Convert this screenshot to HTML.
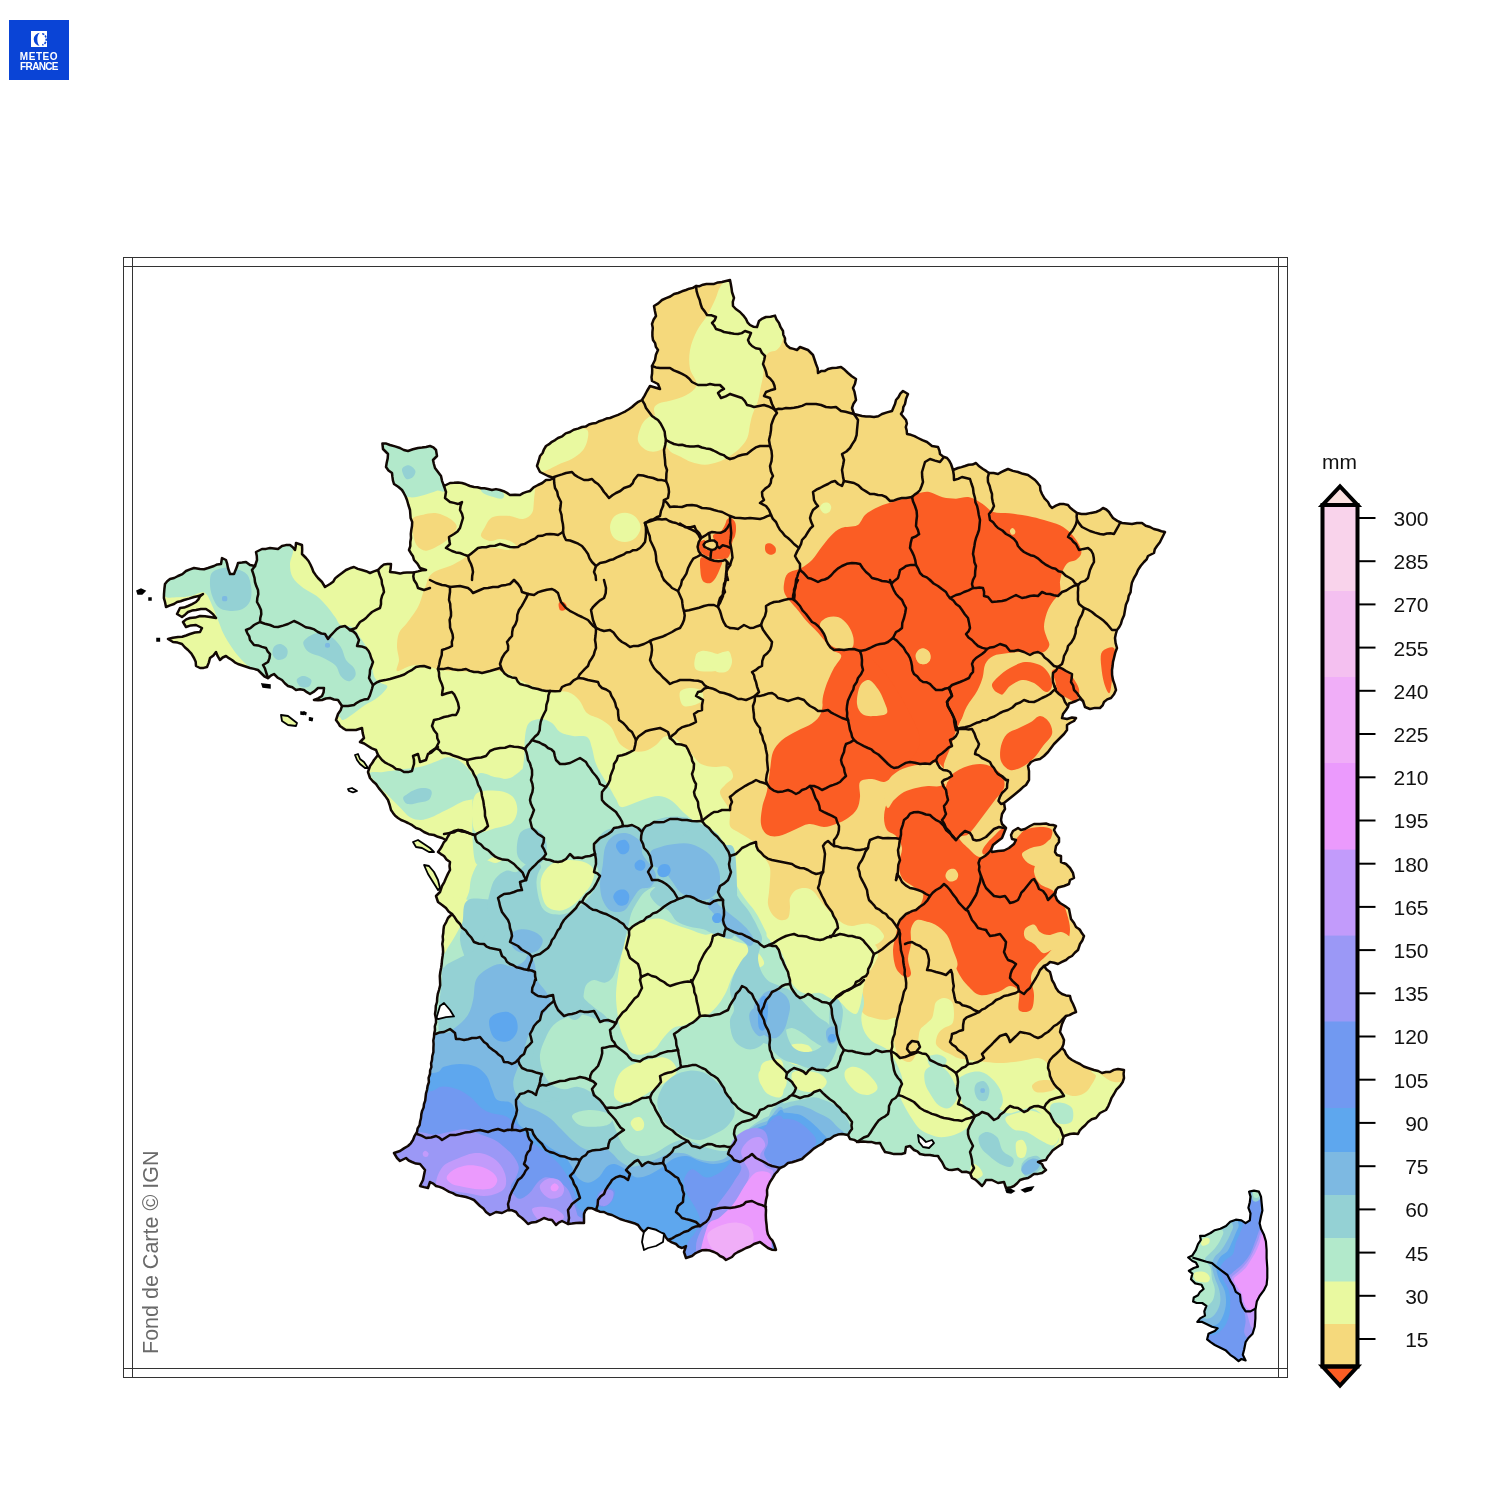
<!DOCTYPE html>
<html><head><meta charset="utf-8"><title>Carte des précipitations</title>
<style>
html,body{margin:0;padding:0;background:#fff;}
body{width:1500px;height:1500px;position:relative;overflow:hidden;font-family:"Liberation Sans",sans-serif;}
.logo{position:absolute;left:9px;top:20px;width:60px;height:60px;background:#0a44d6;}
.logo .t{position:absolute;left:0;width:60px;text-align:center;color:#fff;font-weight:bold;font-size:10px;line-height:11px;}
.frame{position:absolute;box-sizing:border-box;border:1.3px solid #333;}
.lbl{position:absolute;font-size:20px;color:#111;text-align:right;width:60px;left:1368.5px;line-height:20px;}
.tick{position:absolute;left:1359px;width:16px;height:2px;background:#111;}
</style></head><body>
<div class="logo"><svg width="60" height="60" viewBox="0 0 60 60" style="position:absolute;left:0;top:0"><rect x="22" y="11" width="16" height="16" fill="#fff"/><path d="M31.5,12.8 A6.8,6.5 0 0 0 31.5,25.8 A3.2,6.5 0 0 1 31.5,12.8 Z" fill="#0a44d6"/><path d="M33.2,13.8 A4,5.5 0 0 1 33.2,24.8" fill="none" stroke="#0a44d6" stroke-width="1.6" stroke-dasharray="2.2 1.1"/></svg><div class="t" style="top:30.5px;letter-spacing:0.55px">METEO</div><div class="t" style="top:41px;letter-spacing:-0.65px">FRANCE</div></div>
<div class="frame" style="left:122.5px;top:256.5px;width:1165px;height:1121px"></div>
<div class="frame" style="left:131.5px;top:256.5px;width:1147px;height:1121px;border-top:none;border-bottom:none"></div>
<div class="frame" style="left:122.5px;top:265.5px;width:1165px;height:1103px;border-left:none;border-right:none"></div>
<svg width="1500" height="1500" viewBox="0 0 1500 1500" style="position:absolute;left:0;top:0">
<defs><clipPath id="fr"><path d="M382.4,443.6 L383,449 L388,454 L386,467 L392,473 L394,484 L402,490 L407,500 L410,510 L412,526 L411,538 L409,550 L414,560 L420,568 L426,570 L414,572.4 L400,573.6 L390,572 L391,564 L384,564.4 L378,570 L370,573 L362,570 L354,567 L346,570 L338,576 L330,584 L325,587 L322,582 L318,578 L312,568 L306,558 L302,554 L302,545 L296,543 L295,550 L290,545 L282,546 L278,549 L270,548 L262,549 L256,552 L257,560 L255,566 L250,565 L246,562 L238,563 L234,574 L230,574 L228,568 L226,560 L222,558 L221,564 L214,566 L208,568 L200,569 L194,568 L186,571 L178,576 L170,579 L165,584 L164,594 L165,602 L166,607 L174,604 L184,600 L194,597 L203,594 L196,602 L188,606 L180,608 L177,614 L182,617 L188,612 L196,610 L206,609 L216,618 L210,617 L200,616 L190,618 L183,622 L186,627 L196,625 L202,628 L200,632 L190,634 L178,637 L168,639 L173,642 L182,644 L188,650 L194,658 L196,666 L200,668 L207,667 L210,658 L216,652 L220,660 L226,656 L232,660 L238,664 L244,666 L250,668 L258,670 L262,674 L268,678 L274,674 L282,680 L288,686 L296,690 L304,690 L310,694 L318,688 L324,688 L322,696 L314,700 L322,700 L330,698 L338,700 L342,706 L338,714 L336,720 L340,726 L346,730 L356,730 L362,728 L364,738 L360,742 L368,746 L376,750 L378,755 L374,760 L370,766 L368,772 L370,778 L376,784 L382,792 L388,800 L391,810 L398,818 L408,823 L416,828 L424,832 L434,835 L442,838 L446,840 L442,846 L438,852 L444,856 L450,862 L450,870 L446,878 L442,886 L440,892 L436,896 L438,902 L446,908 L452,914 L448,918 L444,926 L443,940 L442,960 L440,980 L439,990 L437,1002 L435,1014 L436,1019 L435,1030 L433.6,1044 L432,1060 L430,1074 L427,1090 L424,1104 L421,1118 L417,1132 L413,1140 L408,1146 L400,1151 L394,1153 L397,1158 L400,1161 L406,1158 L412,1162 L420,1164 L425,1170 L423,1180 L420,1186 L428,1188 L430,1182 L436,1186 L446,1190 L456,1195 L466,1197 L474,1200 L480,1206 L486,1212 L490,1215 L496,1212 L502,1213 L508,1210 L516,1212 L522,1218 L528,1224 L536,1222 L544,1218 L552,1220 L556,1225 L562,1221 L568,1224 L576,1223 L584,1223 L584,1214 L588,1208 L596,1210 L604,1212 L612,1215 L620,1219 L630,1222 L638,1225 L644,1232 L648,1228 L656,1230 L664,1234 L668,1240 L676,1244 L682,1248 L686,1246 L684,1252 L686,1258 L692,1256 L698,1252 L706,1250 L714,1252 L720,1256 L726,1260 L732,1257 L738,1252 L746,1248 L754,1244 L760,1242 L768,1248 L776,1250 L774,1244 L770,1238 L767,1230 L766,1220 L766,1210 L766,1200 L767,1190 L770,1182 L775,1174 L780,1168 L788,1163 L796,1161 L802,1159 L810,1152 L818,1146 L826,1140 L834,1136 L842,1134 L848,1135 L850,1139 L858,1142 L868,1142 L880,1143 L882,1147 L885,1152 L890,1153 L898,1154 L905,1153 L906,1147 L910,1146 L914,1150 L920,1154 L930,1155 L938,1156 L942,1162 L945,1168 L952,1170 L958,1169 L962,1172 L970,1173 L972,1178 L978,1182 L982,1186 L986,1180 L992,1180 L998,1183 L1004,1182 L1006,1188 L1014,1186 L1020,1180 L1028,1178 L1034,1174 L1042,1173 L1046,1170 L1042,1164 L1038,1162 L1046,1160 L1050,1154 L1056,1148 L1062,1144 L1064,1136 L1070,1134 L1078,1134 L1082,1128 L1088,1122 L1096,1118 L1100,1113 L1106,1110 L1110,1102 L1114,1094 L1120,1086 L1124,1078 L1124,1070 L1118,1069 L1110,1072 L1102,1073 L1094,1070 L1088,1068 L1080,1064 L1072,1060 L1066,1054 L1062,1048 L1064,1040 L1060,1032 L1062,1024 L1066,1016 L1076,1012 L1073,1004 L1070,996 L1062,994 L1056,988 L1052,980 L1050,972 L1044,966 L1050,962 L1058,964 L1066,960 L1072,956 L1078,950 L1080,944 L1084,936 L1080,930 L1079,929 L1076,927 L1074,923 L1071,919 L1070,914 L1069,909 L1065,906 L1060,903 L1057,900 L1055,895 L1056,890 L1058,887.5 L1064,886 L1069,884 L1070,880 L1074,878 L1073,873 L1070,868 L1066,864 L1061,862 L1061,856 L1057,855 L1055,852 L1056,846 L1059,842 L1059,838 L1056,834 L1054,830 L1056,826 L1053,825 L1046,823.5 L1040,824 L1034,824 L1030,826 L1025,829 L1021,830 L1018,828 L1013,831 L1011,835 L1012,839 L1016,840 L1014,844 L1009,848 L1004,850.5 L998,851 L992,852 L991,850 L993,845 L998,841 L1002,838 L1004,833 L1006,828 L1002,824 L1001,820 L1002,814 L1005,809 L1004,803 L1009,799 L1014,795 L1020,790 L1026,785 L1029,780 L1029,776 L1029,771 L1028,766 L1031,762 L1035,760 L1040,759 L1044,756 L1048,752 L1051,748 L1054,744 L1057,741 L1060,738 L1064,734 L1067,730 L1067,725 L1070,723 L1074,721 L1076,718 L1072,717.5 L1067,719 L1062,718 L1063,714 L1066,710 L1069,703.5 L1072,702.5 L1076,701 L1080,699 L1083,701 L1085,707 L1090,709 L1100,708 L1104,702 L1111,698 L1116,690 L1113,680 L1112,670 L1114,658 L1117,648 L1115,638 L1117,630 L1122,620 L1125,610 L1128,600 L1131,588 L1134,578 L1138,570 L1144,562 L1148,556 L1154,553 L1157,546 L1162,538 L1165,532 L1158,530 L1150,527 L1142,523 L1132,524 L1122,523 L1113,518 L1109,512 L1103,508 L1096,512 L1086,514 L1077,513 L1073,510 L1068,505 L1060,504 L1052,508 L1048,502 L1042,494 L1040,486 L1035,480 L1028,475 L1018,472 L1008,469 L998,474 L989,473 L983,469 L976,463 L965,466 L958,468 L953,470 L951,464 L947,458 L940,454 L938,447 L932,446 L927,442 L918,438 L907,434 L906,420 L901,414 L905,404 L908,394 L903,391 L896,400 L892,411 L882,414 L874,417 L862,416 L854,414 L852,408 L856,400 L853,388 L856,379 L848,373 L841,367 L828,369 L818,373 L816,364 L813,355 L808,350 L800,347 L797,350 L790,348 L785,342 L783,331 L779,323 L775,315.6 L766,317 L759,321 L757,327 L750,325 L746,319 L740,312 L733,306 L734,298 L732,292 L730,280 L722,282 L710,284 L696,286 L686,290 L674,294 L662,300 L654,306 L656,316 L652,324 L653,340 L658,350 L655,360 L652,366 L652,381 L658,384 L660,389 L650,386 L647,391 L642,400 L632,407 L622,413 L610,418 L596,423 L582,427 L570,432 L558,438 L546,446 L540,456 L537,466 L540,472 L548,476 L554,478 L546,480 L538,485 L530,491 L520,495 L510,495 L500,490 L488,489 L474,487 L462,483 L450,483 L444,486 L441,476 L435,468 L433,460 L437,456 L436,450 L430,446 L418,448 L408,451 L400,448 L390,445Z"/>
</clipPath></defs>
<g clip-path="url(#fr)">
<rect x="130" y="270" width="1150" height="1100" fill="#e9f9a0"/>
<path d="M412.7,518.7 C414.5,515.8 419.3,515.6 423.3,514.7 C427.3,513.8 432.2,512.6 436.7,513.3 C441.1,514.0 446.7,516.5 450,518.7 C453.3,520.9 456.7,523.6 456.7,526.7 C456.7,529.8 452.9,534.2 450,537.3 C447.1,540.4 443.3,543.1 439.3,545.3 C435.3,547.5 429.8,550.7 426,550.7 C422.2,550.7 418.9,548.4 416.7,545.3 C414.5,542.2 413.4,536.4 412.7,532 C412.0,527.6 410.9,521.6 412.7,518.7Z" fill="#f5d97c"/>
<path d="M536,470 C535.7,486.7 534.7,492.8 534,500 C533.3,507.2 533.8,509.8 532,513 C530.2,516.2 526.7,518.5 523,519 C519.3,519.5 514.3,516.5 510,516 C505.7,515.5 500.3,515.5 497,516 C493.7,516.5 492.0,517.2 490,519 C488.0,520.8 486.5,524.2 485,527 C483.5,529.8 480.2,533.7 481,536 C481.8,538.3 486.8,540.5 490,541 C493.2,541.5 496.7,539.0 500,539 C503.3,539.0 507.3,539.8 510,541 C512.7,542.2 516.3,544.5 516,546 C515.7,547.5 511.5,549.7 508,550 C504.5,550.3 499.7,548.2 495,548 C490.3,547.8 484.0,548.3 480,549 C476.0,549.7 473.8,550.3 471,552 C468.2,553.7 466.5,556.7 463,559 C459.5,561.3 454.5,564.0 450,566 C445.5,568.0 439.5,569.2 436,571 C432.5,572.8 430.7,574.7 429,577 C427.3,579.3 427.0,582.3 426,585 C425.0,587.7 424.3,589.3 423,593 C421.7,596.7 420.7,602.0 418,607 C415.3,612.0 410.2,618.7 407,623 C403.8,627.3 400.7,629.0 399,633 C397.3,637.0 397.0,642.5 397,647 C397.0,651.5 399.0,656.0 399,660 C399.0,664.0 395.2,670.0 397,671 C398.8,672.0 405.7,667.0 410,666 C414.3,665.0 418.5,664.5 423,665 C427.5,665.5 432.5,668.0 437,669 C441.5,670.0 443.3,670.5 450,671 C456.7,671.5 469.8,672.0 477,672 C484.2,672.0 488.0,670.8 493,671 C498.0,671.2 501.2,670.8 507,673 C512.8,675.2 521.0,681.0 528,684 C535.0,687.0 542.3,689.7 549,691 C555.7,692.3 563.0,690.5 568,692 C573.0,693.5 575.8,696.5 579,700 C582.2,703.5 583.5,709.8 587,713 C590.5,716.2 596.0,716.7 600,719 C604.0,721.3 608.3,724.0 611,727 C613.7,730.0 614.3,734.0 616,737 C617.7,740.0 618.3,742.7 621,745 C623.7,747.3 628.0,750.0 632,751 C636.0,752.0 641.0,752.0 645,751 C649.0,750.0 652.8,747.3 656,745 C659.2,742.7 661.3,738.3 664,737 C666.7,735.7 668.8,735.7 672,737 C675.2,738.3 679.8,742.3 683,745 C686.2,747.7 688.0,749.8 691,753 C694.0,756.2 697.0,761.7 701,764 C705.0,766.3 710.5,766.5 715,767 C719.5,767.5 725.0,765.3 728,767 C731.0,768.7 733.5,774.0 733,777 C732.5,780.0 727.2,782.3 725,785 C722.8,787.7 719.5,789.3 720,793 C720.5,796.7 726.3,803.5 728,807 C729.7,810.5 729.7,810.8 730,814 C730.3,817.2 728.7,823.0 730,826 C731.3,829.0 735.0,830.0 738,832 C741.0,834.0 745.0,836.0 748,838 C751.0,840.0 754.0,841.3 756,844 C758.0,846.7 758.3,851.3 760,854 C761.7,856.7 764.3,857.7 766,860 C767.7,862.3 769.3,864.7 770,868 C770.7,871.3 770.2,876.0 770,880 C769.8,884.0 769.3,888.0 769,892 C768.7,896.0 767.5,900.3 768,904 C768.5,907.7 770.0,911.3 772,914 C774.0,916.7 777.3,919.3 780,920 C782.7,920.7 786.3,920.0 788,918 C789.7,916.0 789.7,911.3 790,908 C790.3,904.7 789.0,901.0 790,898 C791.0,895.0 793.3,891.7 796,890 C798.7,888.3 803.0,887.7 806,888 C809.0,888.3 811.7,890.0 814,892 C816.3,894.0 817.7,897.0 820,900 C822.3,903.0 825.3,907.0 828,910 C830.7,913.0 833.3,915.7 836,918 C838.7,920.3 841.3,922.7 844,924 C846.7,925.3 849.0,926.0 852,926 C855.0,926.0 859.0,924.3 862,924 C865.0,923.7 867.3,923.3 870,924 C872.7,924.7 875.7,926.0 878,928 C880.3,930.0 883.7,933.7 884,936 C884.3,938.3 882.0,940.3 880,942 C878.0,943.7 874.7,945.3 872,946 C869.3,946.7 866.7,946.3 864,946 C861.3,945.7 857.0,943.3 856,944 C855.0,944.7 856.0,948.7 858,950 C860.0,951.3 864.7,951.3 868,952 C871.3,952.7 877.0,952.0 878,954 C879.0,956.0 875.7,960.7 874,964 C872.3,967.3 869.7,970.7 868,974 C866.3,977.3 865.0,980.3 864,984 C863.0,987.7 862.7,992.3 862,996 C861.3,999.7 859.7,1003.0 860,1006 C860.3,1009.0 861.7,1012.0 864,1014 C866.3,1016.0 870.3,1017.0 874,1018 C877.7,1019.0 882.3,1020.0 886,1020 C889.7,1020.0 894.0,1017.0 896,1018 C898.0,1019.0 898.3,1022.7 898,1026 C897.7,1029.3 894.3,1034.0 894,1038 C893.7,1042.0 895.0,1046.7 896,1050 C897.0,1053.3 897.7,1056.0 900,1058 C902.3,1060.0 907.3,1062.7 910,1062 C912.7,1061.3 914.7,1057.3 916,1054 C917.3,1050.7 917.3,1046.0 918,1042 C918.7,1038.0 918.7,1033.0 920,1030 C921.3,1027.0 924.0,1026.0 926,1024 C928.0,1022.0 930.7,1020.3 932,1018 C933.3,1015.7 933.3,1012.7 934,1010 C934.7,1007.3 934.3,1004.0 936,1002 C937.7,1000.0 941.3,998.0 944,998 C946.7,998.0 950.3,999.3 952,1002 C953.7,1004.7 954.0,1010.3 954,1014 C954.0,1017.7 953.7,1021.7 952,1024 C950.3,1026.3 946.3,1026.3 944,1028 C941.7,1029.7 939.3,1031.3 938,1034 C936.7,1036.7 935.3,1041.3 936,1044 C936.7,1046.7 939.7,1048.3 942,1050 C944.3,1051.7 947.3,1052.7 950,1054 C952.7,1055.3 954.7,1057.0 958,1058 C961.3,1059.0 965.3,1059.3 970,1060 C974.7,1060.7 981.0,1061.5 986,1062 C991.0,1062.5 995.3,1063.0 1000,1063 C1004.7,1063.0 1009.7,1062.5 1014,1062 C1018.3,1061.5 1022.0,1060.7 1026,1060 C1030.0,1059.3 1034.7,1057.7 1038,1058 C1041.3,1058.3 1044.0,1060.0 1046,1062 C1048.0,1064.0 1049.0,1067.0 1050,1070 C1051.0,1073.0 1050.7,1077.0 1052,1080 C1053.3,1083.0 1055.7,1085.7 1058,1088 C1060.3,1090.3 1063.0,1092.7 1066,1094 C1069.0,1095.3 1072.7,1096.3 1076,1096 C1079.3,1095.7 1083.3,1094.0 1086,1092 C1088.7,1090.0 1090.3,1086.7 1092,1084 C1093.7,1081.3 1095.7,1078.3 1096,1076 C1096.3,1073.7 1086.7,1071.0 1094,1070 C1101.3,1069.0 1112.3,1098.3 1140,1070 C1167.7,1041.7 1240.0,1011.7 1260,900 C1280.0,788.3 1303.3,510.0 1260,400 C1216.7,290.0 1093.3,266.7 1000,240 C906.7,213.3 777.3,213.3 700,240 C622.7,266.7 563.3,361.7 536,400 C508.7,438.3 536.3,453.3 536,470Z" fill="#f5d97c"/>
<path d="M1032,1086 C1032.3,1084.2 1035.3,1082.0 1038,1081 C1040.7,1080.0 1045.0,1079.7 1048,1080 C1051.0,1080.3 1054.8,1081.5 1056,1083 C1057.2,1084.5 1056.7,1087.5 1055,1089 C1053.3,1090.5 1049.2,1091.5 1046,1092 C1042.8,1092.5 1038.3,1093.0 1036,1092 C1033.7,1091.0 1031.7,1087.8 1032,1086Z" fill="#f5d97c"/>
<path d="M720.7,286 C718.0,290.0 717.5,294.4 715.3,299.3 C713.1,304.2 710.4,310.0 707.3,315.3 C704.2,320.6 699.6,325.5 696.7,331.3 C693.8,337.1 691.1,343.8 690,350 C688.9,356.2 688.9,362.9 690,368.7 C691.1,374.5 697.4,380.3 696.7,384.7 C696.0,389.1 690.5,392.6 686,395.3 C681.5,398.0 674.5,399.4 670,400.7 C665.5,402.0 662.0,402.0 659.3,403.3 C656.6,404.6 654.4,406.0 654,408.7 C653.6,411.4 655.4,416.2 656.7,419.3 C658.0,422.4 660.7,423.7 662,427.3 C663.3,430.9 663.4,436.7 664.7,440.7 C666.0,444.7 667.3,448.6 670,451.3 C672.7,454.0 677.2,454.9 680.7,456.7 C684.2,458.5 687.3,460.7 691.3,462 C695.3,463.3 700.2,464.7 704.7,464.7 C709.2,464.7 714.0,463.3 718,462 C722.0,460.7 725.2,458.9 728.7,456.7 C732.2,454.5 736.2,451.8 739.3,448.7 C742.4,445.6 745.5,442.0 747.3,438 C749.1,434.0 749.1,428.7 750,424.7 C750.9,420.7 751.4,418.0 752.7,414 C754.0,410.0 756.7,405.1 758,400.7 C759.3,396.2 759.8,391.8 760.7,387.3 C761.6,382.9 762.9,378.4 763.3,374 C763.7,369.6 762.4,364.2 763.3,360.7 C764.2,357.1 766.5,354.5 768.7,352.7 C770.9,350.9 774.5,351.8 776.7,350 C778.9,348.2 780.7,346.4 782,342 C783.3,337.6 786.0,328.6 784.7,323.3 C783.4,318.0 779.8,316.2 774,310 C768.2,303.8 757.1,291.8 750,286 C742.9,280.2 736.2,275.3 731.3,275.3 C726.4,275.3 723.4,282.0 720.7,286Z" fill="#e9f9a0"/>
<path d="M536.7,472.7 C535.8,470.5 539.8,461.6 542,456.7 C544.2,451.8 546.5,446.9 550,443.3 C553.5,439.7 558.8,437.7 563.3,435.3 C567.8,432.9 572.7,429.6 576.7,428.7 C580.7,427.8 585.5,428.0 587.3,430 C589.1,432.0 588.2,437.1 587.3,440.7 C586.4,444.2 584.7,448.2 582,451.3 C579.3,454.4 575.3,457.1 571.3,459.3 C567.3,461.5 562.0,462.9 558,464.7 C554.0,466.5 550.8,468.7 547.3,470 C543.8,471.3 537.6,474.9 536.7,472.7Z" fill="#e9f9a0"/>
<path d="M640.7,427.3 C642.0,423.7 643.8,421.3 646,419.3 C648.2,417.3 651.3,414.9 654,415.3 C656.7,415.8 660.0,418.7 662,422 C664.0,425.3 665.5,431.3 666,435.3 C666.5,439.3 666.2,443.3 664.7,446 C663.2,448.7 659.8,450.6 656.7,451.3 C653.6,452.0 649.1,451.8 646,450 C642.9,448.2 638.9,444.5 638,440.7 C637.1,436.9 639.4,430.9 640.7,427.3Z" fill="#e9f9a0"/>
<path d="M610,527.3 C610.0,523.8 611.5,519.1 614,516.7 C616.5,514.3 621.2,512.7 624.7,512.7 C628.2,512.7 632.6,514.3 635.3,516.7 C638.0,519.1 640.7,523.8 640.7,527.3 C640.7,530.8 638.0,535.5 635.3,538 C632.6,540.5 628.2,542.0 624.7,542 C621.2,542.0 616.5,540.5 614,538 C611.5,535.5 610.0,530.8 610,527.3Z" fill="#e9f9a0"/>
<path d="M696.7,654 C698.5,650.9 703.8,651.3 707.3,651.3 C710.8,651.3 714.4,654.0 718,654 C721.6,654.0 726.5,650.0 728.7,651.3 C730.9,652.6 732.2,658.9 731.3,662 C730.4,665.1 729.1,668.7 723.3,670 C717.5,671.3 701.1,672.7 696.7,670 C692.3,667.3 694.9,657.1 696.7,654Z" fill="#e9f9a0"/>
<path d="M696,654.7 C696.9,652.7 700.9,650.7 704,650.7 C707.1,650.7 711.2,654.5 714.7,654.7 C718.2,654.9 722.4,651.1 725.3,652 C728.2,652.9 731.5,656.9 732,660 C732.5,663.1 730.5,668.7 728,670.7 C725.5,672.7 720.4,672.9 717.3,672 C714.2,671.1 712.4,666.8 709.3,665.3 C706.2,663.8 700.9,664.5 698.7,662.7 C696.5,660.9 695.1,656.7 696,654.7Z" fill="#e9f9a0"/>
<path d="M680,692 C681.3,689.1 687.2,688.2 690.7,688 C694.2,687.8 699.3,688.7 701.3,690.7 C703.3,692.7 704.0,697.6 702.7,700 C701.4,702.4 696.6,704.4 693.3,705.3 C690.0,706.2 684.9,707.5 682.7,705.3 C680.5,703.1 678.7,694.9 680,692Z" fill="#e9f9a0"/>
<path d="M820,508 C819.8,506.4 821.4,504.4 822.7,503.5 C824.0,502.6 826.6,502.2 828,502.7 C829.4,503.2 831.0,505.1 831.2,506.7 C831.4,508.2 830.5,510.9 829.3,512 C828.1,513.1 825.5,514.0 824,513.3 C822.5,512.6 820.2,509.6 820,508Z" fill="#e9f9a0"/>
<path d="M784,584 C784.5,580.4 785.1,576.0 788,573.3 C790.9,570.6 797.3,570.2 801.3,568 C805.3,565.8 808.9,563.1 812,560 C815.1,556.9 816.9,553.3 820,549.3 C823.1,545.3 827.2,539.5 830.7,536 C834.2,532.5 836.9,529.8 841.3,528 C845.7,526.2 853.3,527.5 857.3,525.3 C861.3,523.1 861.7,517.8 865.3,514.7 C868.9,511.6 873.8,508.9 878.7,506.7 C883.6,504.5 889.8,502.9 894.7,501.3 C899.6,499.7 904.0,498.6 908,497.3 C912.0,496.0 915.2,494.2 918.7,493.3 C922.2,492.4 925.3,491.3 929.3,492 C933.3,492.7 938.2,496.2 942.7,497.3 C947.2,498.4 951.6,498.7 956,498.7 C960.4,498.7 964.8,496.4 969.3,497.3 C973.8,498.2 978.7,501.6 982.7,504 C986.7,506.4 988.9,510.4 993.3,512 C997.7,513.5 1003.5,512.6 1009.3,513.3 C1015.1,514.0 1022.2,514.9 1028,516 C1033.8,517.1 1038.7,518.5 1044,520 C1049.3,521.5 1055.5,523.1 1060,525.3 C1064.5,527.5 1067.6,530.2 1070.7,533.3 C1073.8,536.4 1076.9,540.7 1078.7,544 C1080.5,547.3 1081.8,550.6 1081.3,553.3 C1080.8,556.0 1078.2,558.4 1076,560 C1073.8,561.6 1070.2,560.9 1068,562.7 C1065.8,564.5 1064.0,567.6 1062.7,570.7 C1061.4,573.8 1060.5,577.8 1060,581.3 C1059.5,584.8 1061.3,588.4 1060,592 C1058.7,595.6 1054.2,599.2 1052,602.7 C1049.8,606.2 1048.0,609.3 1046.7,613.3 C1045.4,617.3 1044.0,622.7 1044,626.7 C1044.0,630.7 1045.8,634.2 1046.7,637.3 C1047.6,640.4 1049.8,642.8 1049.3,645.3 C1048.8,647.8 1046.7,650.7 1044,652 C1041.3,653.3 1037.3,653.3 1033.3,653.3 C1029.3,653.3 1024.4,652.0 1020,652 C1015.6,652.0 1011.2,652.6 1006.7,653.3 C1002.2,654.0 996.9,654.2 993.3,656 C989.7,657.8 987.1,660.5 985.3,664 C983.5,667.5 984.0,672.8 982.7,677.3 C981.4,681.8 980.0,685.8 977.3,690.7 C974.6,695.6 969.4,701.8 966.7,706.7 C964.0,711.6 963.1,716.0 961.3,720 C959.5,724.0 957.8,726.2 956,730.7 C954.2,735.2 952.5,741.8 950.7,746.7 C948.9,751.6 947.1,755.6 945.3,760 C943.5,764.4 942.7,770.2 940,773.3 C937.3,776.4 933.8,777.4 929.3,778.7 C924.8,780.0 918.6,780.4 913.3,781.3 C908.0,782.2 901.7,784.4 897.3,784 C892.9,783.6 890.7,780.5 886.7,778.7 C882.7,776.9 877.3,774.6 873.3,773.3 C869.3,772.0 865.4,773.4 862.7,770.7 C860.0,768.0 859.1,761.3 857.3,757.3 C855.5,753.3 853.8,750.7 852,746.7 C850.2,742.7 848.5,737.8 846.7,733.3 C844.9,728.8 844.0,723.5 841.3,720 C838.6,716.5 833.8,714.7 830.7,712 C827.6,709.3 823.6,708.0 822.7,704 C821.8,700.0 823.5,693.8 825.3,688 C827.1,682.2 830.6,674.6 833.3,669.3 C836.0,664.0 841.3,659.1 841.3,656 C841.3,652.9 835.1,652.0 833.3,650.7 C831.5,649.4 833.4,651.1 830.7,648 C828.0,644.9 821.3,636.5 817.3,632 C813.3,627.5 810.2,625.3 806.7,621.3 C803.2,617.3 799.6,612.4 796,608 C792.4,603.6 787.3,598.7 785.3,594.7 C783.3,590.7 783.5,587.6 784,584Z" fill="#fb5d24"/>
<path d="M860,782 C858.0,785.0 860.5,792.5 860,797 C859.5,801.5 859.0,805.5 857,809 C855.0,812.5 851.5,815.5 848,818 C844.5,820.5 840.0,822.5 836,824 C832.0,825.5 828.5,827.0 824,827 C819.5,827.0 814.0,823.5 809,824 C804.0,824.5 799.0,828.0 794,830 C789.0,832.0 783.5,835.2 779,836 C774.5,836.8 770.0,836.5 767,834.5 C764.0,832.5 761.8,828.8 761,824 C760.2,819.2 761.5,811.5 762.5,806 C763.5,800.5 765.8,797.0 767,791 C768.2,785.0 769.0,776.5 770,770 C771.0,763.5 771.0,757.0 773,752 C775.0,747.0 778.0,743.5 782,740 C786.0,736.5 792.0,733.8 797,731 C802.0,728.2 808.0,726.5 812,723.5 C816.0,720.5 819.0,717.8 821,713 C823.0,708.2 822.5,700.5 824,695 C825.5,689.5 827.5,685.5 830,680 C832.5,674.5 836.0,666.5 839,662 C842.0,657.5 844.5,655.0 848,653 C851.5,651.0 856.0,649.0 860,650 C864.0,651.0 867.0,654.0 872,659 C877.0,664.0 884.0,671.5 890,680 C896.0,688.5 903.0,700.0 908,710 C913.0,720.0 920.0,731.0 920,740 C920.0,749.0 912.5,758.0 908,764 C903.5,770.0 897.0,773.0 893,776 C889.0,779.0 887.5,781.5 884,782 C880.5,782.5 876.0,779.0 872,779 C868.0,779.0 862.0,779.0 860,782Z" fill="#fb5d24"/>
<path d="M884,818 C884.0,813.5 885.0,807.5 887,803 C889.0,798.5 892.0,794.2 896,791 C900.0,787.8 905.5,785.0 911,783.5 C916.5,782.0 923.5,781.2 929,782 C934.5,782.8 940.5,789.0 944,788 C947.5,787.0 946.5,779.5 950,776 C953.5,772.5 960.0,769.0 965,767 C970.0,765.0 975.5,764.0 980,764 C984.5,764.0 988.2,765.0 992,767 C995.8,769.0 1000.5,772.5 1002.5,776 C1004.5,779.5 1005.2,784.0 1004,788 C1002.8,792.0 998.0,796.0 995,800 C992.0,804.0 989.0,808.0 986,812 C983.0,816.0 980.0,820.2 977,824 C974.0,827.8 971.0,832.2 968,834.5 C965.0,836.8 959.0,835.2 959,837.5 C959.0,839.8 964.5,844.8 968,848 C971.5,851.2 976.0,857.0 980,857 C984.0,857.0 989.0,851.5 992,848 C995.0,844.5 996.0,839.5 998,836 C1000.0,832.5 1004.0,826.0 1004,827 C1004.0,828.0 1000.0,838.0 998,842 C996.0,846.0 991.0,850.0 992,851 C993.0,852.0 1000.0,850.0 1004,848 C1008.0,846.0 1012.5,842.0 1016,839 C1019.5,836.0 1021.0,832.0 1025,830 C1029.0,828.0 1035.5,827.0 1040,827 C1044.5,827.0 1050.5,827.5 1052,830 C1053.5,832.5 1051.0,839.0 1049,842 C1047.0,845.0 1042.0,845.0 1040,848 C1038.0,851.0 1038.0,856.0 1037,860 C1036.0,864.0 1033.5,868.0 1034,872 C1034.5,876.0 1037.0,881.0 1040,884 C1043.0,887.0 1048.5,887.5 1052,890 C1055.5,892.5 1058.5,895.0 1061,899 C1063.5,903.0 1065.5,909.0 1067,914 C1068.5,919.0 1070.0,924.5 1070,929 C1070.0,933.5 1069.5,938.0 1067,941 C1064.5,944.0 1058.5,944.5 1055,947 C1051.5,949.5 1049.0,953.0 1046,956 C1043.0,959.0 1039.5,961.5 1037,965 C1034.5,968.5 1031.5,972.0 1031,977 C1030.5,982.0 1034.0,989.5 1034,995 C1034.0,1000.5 1033.5,1007.5 1031,1010 C1028.5,1012.5 1021.0,1013.0 1019,1010 C1017.0,1007.0 1020.5,996.0 1019,992 C1017.5,988.0 1013.5,986.0 1010,986 C1006.5,986.0 1003.0,990.5 998,992 C993.0,993.5 985.0,996.0 980,995 C975.0,994.0 971.5,989.5 968,986 C964.5,982.5 961.5,978.5 959,974 C956.5,969.5 954.5,964.0 953,959 C951.5,954.0 952.0,948.5 950,944 C948.0,939.5 944.5,935.5 941,932 C937.5,928.5 933.0,925.0 929,923 C925.0,921.0 920.0,919.0 917,920 C914.0,921.0 912.0,925.0 911,929 C910.0,933.0 911.5,939.0 911,944 C910.5,949.0 908.0,954.0 908,959 C908.0,964.0 911.5,971.0 911,974 C910.5,977.0 907.5,978.0 905,977 C902.5,976.0 898.0,972.5 896,968 C894.0,963.5 893.0,955.5 893,950 C893.0,944.5 895.0,939.5 896,935 C897.0,930.5 897.0,926.5 899,923 C901.0,919.5 904.5,917.0 908,914 C911.5,911.0 917.5,908.5 920,905 C922.5,901.5 924.0,896.0 923,893 C922.0,890.0 917.5,889.5 914,887 C910.5,884.5 904.5,882.0 902,878 C899.5,874.0 899.0,868.0 899,863 C899.0,858.0 902.5,852.5 902,848 C901.5,843.5 898.5,839.0 896,836 C893.5,833.0 889.0,833.0 887,830 C885.0,827.0 884.0,822.5 884,818Z" fill="#fb5d24"/>
<path d="M890,767 C892.0,764.5 898.0,767.5 902,767 C906.0,766.5 909.5,765.0 914,764 C918.5,763.0 924.5,763.0 929,761 C933.5,759.0 938.5,750.5 941,752 C943.5,753.5 943.5,764.0 944,770 C944.5,776.0 946.5,785.8 944,788 C941.5,790.2 934.5,784.2 929,783.5 C923.5,782.8 916.5,782.2 911,783.5 C905.5,784.8 900.0,787.8 896,791 C892.0,794.2 889.0,798.5 887,803 C885.0,807.5 884.0,818.5 884,818 C884.0,817.5 886.0,806.0 887,800 C888.0,794.0 889.5,787.5 890,782 C890.5,776.5 888.0,769.5 890,767Z" fill="#fb5d24"/>
<path d="M765.5,544.7 C766.2,543.4 768.4,542.9 770,543.3 C771.6,543.7 774.4,545.7 775.3,547.3 C776.2,548.9 776.2,551.5 775.3,552.7 C774.4,554.0 771.6,555.0 770,554.8 C768.4,554.6 766.2,553.0 765.5,551.3 C764.8,549.6 764.8,546.0 765.5,544.7Z" fill="#fb5d24"/>
<path d="M558.8,603.3 C559.4,602.0 562.0,601.6 563.3,602 C564.6,602.4 566.3,604.2 566.5,605.5 C566.7,606.8 565.8,609.2 564.7,610 C563.6,610.8 560.9,611.1 559.9,610 C558.9,608.9 558.2,604.6 558.8,603.3Z" fill="#fb5d24"/>
<path d="M1101.3,653.3 C1102.4,650.2 1105.8,648.7 1108,648 C1110.2,647.3 1113.8,646.6 1114.7,649.3 C1115.6,652.0 1113.8,658.9 1113.3,664 C1112.8,669.1 1112.7,675.1 1112,680 C1111.3,684.9 1110.6,692.8 1109.3,693.3 C1108.0,693.8 1105.3,687.1 1104,682.7 C1102.7,678.3 1101.8,671.6 1101.3,666.7 C1100.8,661.8 1100.2,656.4 1101.3,653.3Z" fill="#fb5d24"/>
<path d="M992,686 C991.5,683.0 995.0,680.0 998,677 C1001.0,674.0 1005.5,670.5 1010,668 C1014.5,665.5 1020.0,662.5 1025,662 C1030.0,661.5 1036.0,663.0 1040,665 C1044.0,667.0 1047.0,670.5 1049,674 C1051.0,677.5 1052.5,683.0 1052,686 C1051.5,689.0 1049.0,692.5 1046,692 C1043.0,691.5 1038.0,685.0 1034,683 C1030.0,681.0 1026.0,679.5 1022,680 C1018.0,680.5 1013.5,683.5 1010,686 C1006.5,688.5 1004.0,695.0 1001,695 C998.0,695.0 992.5,689.0 992,686Z" fill="#fb5d24"/>
<path d="M1052,671 C1053.0,669.0 1058.0,667.5 1061,668 C1064.0,668.5 1067.0,670.5 1070,674 C1073.0,677.5 1078.0,684.5 1079,689 C1080.0,693.5 1078.0,699.5 1076,701 C1074.0,702.5 1070.0,699.5 1067,698 C1064.0,696.5 1060.0,695.0 1058,692 C1056.0,689.0 1056.0,683.5 1055,680 C1054.0,676.5 1051.0,673.0 1052,671Z" fill="#fb5d24"/>
<path d="M1001,746 C1002.0,741.5 1004.0,737.0 1007,734 C1010.0,731.0 1015.0,730.0 1019,728 C1023.0,726.0 1027.5,724.0 1031,722 C1034.5,720.0 1037.0,716.0 1040,716 C1043.0,716.0 1047.0,719.0 1049,722 C1051.0,725.0 1053.0,730.0 1052,734 C1051.0,738.0 1046.0,742.0 1043,746 C1040.0,750.0 1037.5,754.5 1034,758 C1030.5,761.5 1026.0,765.0 1022,767 C1018.0,769.0 1013.5,771.0 1010,770 C1006.5,769.0 1002.5,765.0 1001,761 C999.5,757.0 1000.0,750.5 1001,746Z" fill="#fb5d24"/>
<path d="M726.9,519.7 C727.7,518.7 729.0,518.1 730.1,518.1 C731.2,518.1 732.4,518.8 733.3,519.7 C734.2,520.6 735.0,521.8 735.5,523.5 C736.0,525.2 736.1,527.8 736,529.9 C735.9,532.0 735.4,534.5 734.9,536.3 C734.4,538.1 733.4,538.7 732.8,540.5 C732.2,542.3 731.7,544.8 731.2,546.9 C730.8,549.0 730.6,551.5 730.1,553.3 C729.6,555.1 728.9,556.7 728,557.6 C727.1,558.5 727.5,558.5 724.8,558.7 C722.1,558.9 714.2,560.0 712,558.7 C709.8,557.4 710.7,552.3 711.5,550.7 C712.3,549.1 715.6,549.9 716.8,549.1 C717.9,548.3 718.3,547.1 718.4,545.9 C718.5,544.6 718.0,542.7 717.3,541.6 C716.6,540.5 714.8,540.6 714.1,539.5 C713.4,538.4 712.6,536.3 713.1,535.2 C713.6,534.1 715.8,534.0 717.3,533.1 C718.8,532.2 720.8,531.4 722.1,529.9 C723.4,528.4 724.5,525.7 725.3,524 C726.1,522.3 726.1,520.7 726.9,519.7Z" fill="#fb5d24"/>
<path d="M699.2,542.7 C699.7,541.5 701.4,540.9 702.4,540.5 C703.4,540.1 704.9,539.9 705.1,540.5 C705.3,541.1 703.7,543.1 703.5,544.3 C703.3,545.5 703.3,546.5 704,547.5 C704.7,548.5 706.6,549.5 707.7,550.1 C708.8,550.7 710.0,550.1 710.4,551.2 C710.8,552.3 710.7,555.8 709.9,556.5 C709.1,557.2 707.0,556.1 705.6,555.5 C704.2,554.9 702.4,554.0 701.3,552.8 C700.2,551.5 699.6,549.7 699.2,548 C698.9,546.3 698.7,544.0 699.2,542.7Z" fill="#fb5d24"/>
<path d="M700.3,558.7 C700.9,556.8 702.5,557.4 704,557.6 C705.5,557.8 707.1,559.0 709.3,559.7 C711.5,560.4 715.2,561.5 717.3,561.9 C719.4,562.3 721.6,561.0 722.1,561.9 C722.6,562.8 721.3,565.1 720.5,567.2 C719.7,569.3 718.4,572.6 717.3,574.7 C716.2,576.8 715.3,578.6 714.1,580 C712.9,581.4 711.6,582.9 709.9,583.2 C708.2,583.6 705.4,583.1 704,582.1 C702.6,581.1 701.9,579.4 701.3,577.3 C700.7,575.2 700.5,572.4 700.3,569.3 C700.1,566.2 699.7,560.7 700.3,558.7Z" fill="#fb5d24"/>
<path d="M1004,828 C1005.0,827.8 1006.0,828.0 1006,829 C1006.0,830.0 1005.0,832.2 1004,834 C1003.0,835.8 1001.7,838.2 1000,840 C998.3,841.8 995.5,843.3 994,845 C992.5,846.7 992.7,848.4 991,850 C989.3,851.6 985.4,854.5 984,854.5 C982.6,854.5 981.8,852.1 982.5,850 C983.2,847.9 986.1,844.3 988,842 C989.9,839.7 992.0,838.0 994,836 C996.0,834.0 998.3,831.3 1000,830 C1001.7,828.7 1003.0,828.2 1004,828Z" fill="#fb5d24"/>
<path d="M820,624 C820.7,621.1 824.9,618.4 828,617.3 C831.1,616.2 835.4,616.0 838.7,617.3 C842.0,618.6 845.6,622.0 848,625.3 C850.4,628.6 852.6,633.5 853.3,637.3 C854.0,641.1 854.0,646.0 852,648 C850.0,650.0 844.8,649.8 841.3,649.3 C837.8,648.8 833.6,647.7 830.7,645.3 C827.8,642.9 825.8,638.2 824,634.7 C822.2,631.2 819.3,626.9 820,624Z" fill="#f5d97c"/>
<path d="M916,656.5 C916.0,654.6 917.2,652.4 918.7,651.2 C920.2,650.0 923.4,648.8 925.3,649.3 C927.2,649.8 929.1,652.1 929.9,653.9 C930.7,655.7 930.7,658.3 929.9,660 C929.1,661.7 927.2,663.5 925.3,664 C923.4,664.5 920.2,664.0 918.7,662.7 C917.2,661.5 916.0,658.4 916,656.5Z" fill="#f5d97c"/>
<path d="M860,686 C862.0,682.0 866.0,679.5 869,680 C872.0,680.5 875.5,685.5 878,689 C880.5,692.5 882.5,697.0 884,701 C885.5,705.0 888.5,710.5 887,713 C885.5,715.5 879.0,715.8 875,716 C871.0,716.2 866.0,716.5 863,714.5 C860.0,712.5 857.5,708.8 857,704 C856.5,699.2 858.0,690.0 860,686Z" fill="#f5d97c"/>
<path d="M915.5,656 C915.5,653.9 917.0,651.2 918.5,650 C920.0,648.8 922.6,648.0 924.5,648.5 C926.4,649.0 929.0,651.0 929.9,653 C930.8,655.0 930.8,658.6 929.9,660.5 C929.0,662.4 926.4,663.8 924.5,664.1 C922.6,664.5 920.0,664.0 918.5,662.6 C917.0,661.2 915.5,658.1 915.5,656Z" fill="#f5d97c"/>
<path d="M1009.9,530.7 C1010.1,529.6 1011.6,528.0 1012.5,528 C1013.4,528.0 1014.8,529.7 1015.2,530.7 C1015.6,531.7 1015.3,533.3 1014.7,533.9 C1014.1,534.5 1012.3,534.9 1011.5,534.4 C1010.7,533.9 1009.7,531.8 1009.9,530.7Z" fill="#f5d97c"/>
<path d="M1022,854 C1022.5,851.5 1027.5,849.5 1031,848 C1034.5,846.5 1039.5,846.5 1043,845 C1046.5,843.5 1049.0,838.5 1052,839 C1055.0,839.5 1058.5,844.5 1061,848 C1063.5,851.5 1065.0,856.0 1067,860 C1069.0,864.0 1073.0,868.0 1073,872 C1073.0,876.0 1070.0,881.5 1067,884 C1064.0,886.5 1058.5,887.5 1055,887 C1051.5,886.5 1048.5,884.0 1046,881 C1043.5,878.0 1043.0,872.0 1040,869 C1037.0,866.0 1031.0,865.5 1028,863 C1025.0,860.5 1021.5,856.5 1022,854Z" fill="#f5d97c"/>
<path d="M1025,929 C1026.5,926.8 1031.5,924.0 1034,924.5 C1036.5,925.0 1037.5,930.2 1040,932 C1042.5,933.8 1045.5,935.0 1049,935 C1052.5,935.0 1057.5,931.5 1061,932 C1064.5,932.5 1069.5,935.5 1070,938 C1070.5,940.5 1067.0,945.0 1064,947 C1061.0,949.0 1055.5,949.0 1052,950 C1048.5,951.0 1046.0,954.0 1043,953 C1040.0,952.0 1037.0,946.5 1034,944 C1031.0,941.5 1026.5,940.5 1025,938 C1023.5,935.5 1023.5,931.2 1025,929Z" fill="#f5d97c"/>
<path d="M945.5,875 C945.8,873.4 947.0,870.9 948.5,869.9 C950.0,868.9 952.9,868.3 954.5,869 C956.1,869.7 957.8,872.4 958.1,874.1 C958.5,875.9 957.8,878.2 956.6,879.5 C955.4,880.8 952.5,881.6 950.9,881.6 C949.3,881.6 947.9,880.6 947,879.5 C946.1,878.4 945.2,876.6 945.5,875Z" fill="#f5d97c"/>
<path d="M912.5,926 C914.2,923.2 919.2,921.8 923,921.5 C926.8,921.2 931.0,922.2 935,924.5 C939.0,926.8 944.0,930.8 947,935 C950.0,939.2 951.2,945.0 953,950 C954.8,955.0 958.0,961.0 957.5,965 C957.0,969.0 953.2,973.0 950,974 C946.8,975.0 941.5,973.5 938,971 C934.5,968.5 932.0,963.0 929,959 C926.0,955.0 922.8,950.5 920,947 C917.2,943.5 913.8,941.5 912.5,938 C911.2,934.5 910.8,928.8 912.5,926Z" fill="#f5d97c"/>
<path d="M958.7,725.3 C959.6,721.8 963.6,716.4 966.7,712 C969.8,707.6 973.3,702.2 977.3,698.7 C981.3,695.2 985.8,691.2 990.7,690.7 C995.6,690.2 1001.8,696.0 1006.7,696 C1011.6,696.0 1015.6,692.0 1020,690.7 C1024.4,689.4 1028.8,687.6 1033.3,688 C1037.8,688.4 1042.7,692.0 1046.7,693.3 C1050.7,694.6 1054.6,694.2 1057.3,696 C1060.0,697.8 1062.7,701.3 1062.7,704 C1062.7,706.7 1060.0,711.1 1057.3,712 C1054.6,712.9 1050.2,710.2 1046.7,709.3 C1043.2,708.4 1040.0,706.7 1036,706.7 C1032.0,706.7 1026.7,708.0 1022.7,709.3 C1018.7,710.6 1016.0,712.9 1012,714.7 C1008.0,716.5 1003.6,718.2 998.7,720 C993.8,721.8 987.2,723.5 982.7,725.3 C978.2,727.1 975.6,729.4 972,730.7 C968.4,732.0 963.5,734.2 961.3,733.3 C959.1,732.4 957.8,728.8 958.7,725.3Z" fill="#f5d97c"/>
<path d="M890,778 C892.3,775.0 896.3,772.0 900,770 C903.7,768.0 907.7,767.0 912,766 C916.3,765.0 921.7,764.5 926,764 C930.3,763.5 934.7,761.7 938,763 C941.3,764.3 944.2,769.2 946,772 C947.8,774.8 950.0,777.7 949,780 C948.0,782.3 943.5,785.0 940,786 C936.5,787.0 932.0,785.7 928,786 C924.0,786.3 920.0,787.0 916,788 C912.0,789.0 907.7,790.0 904,792 C900.3,794.0 896.7,797.3 894,800 C891.3,802.7 889.5,808.0 888,808 C886.5,808.0 885.3,803.3 885,800 C884.7,796.7 885.2,791.7 886,788 C886.8,784.3 887.7,781.0 890,778Z" fill="#f5d97c"/>
<path d="M164.7,580 C163.8,583.5 162.5,593.1 164.7,596 C166.9,598.9 173.6,597.3 178,597.3 C182.4,597.3 186.9,596.8 191.3,596 C195.8,595.2 201.1,591.0 204.7,592.8 C208.3,594.6 210.5,602.2 212.7,606.7 C214.9,611.2 216.2,615.6 218,620 C219.8,624.4 221.1,628.8 223.3,633.3 C225.5,637.8 228.6,642.7 231.3,646.7 C234.0,650.7 236.6,654.2 239.3,657.3 C242.0,660.4 244.6,662.8 247.3,665.3 C250.0,667.8 252.6,668.4 255.3,672 C258.0,675.6 257.5,681.6 263.3,686.7 C269.1,691.8 281.1,699.2 290,702.7 C298.9,706.2 308.7,705.8 316.7,708 C324.7,710.2 333.6,714.0 338,716 C342.4,718.0 340.6,720.5 343.3,720 C346.0,719.5 350.4,715.8 354,713.3 C357.6,710.8 360.7,708.0 364.7,705.3 C368.7,702.6 374.2,700.4 378,697.3 C381.8,694.2 386.9,689.1 387.3,686.7 C387.8,684.3 382.9,684.5 380.7,682.7 C378.5,680.9 375.8,680.7 374,676 C372.2,671.3 372.4,661.4 370,654.7 C367.6,648.0 362.4,640.7 359.3,636 C356.2,631.3 354.4,628.5 351.3,626.7 C348.2,624.9 343.4,626.9 340.7,625.3 C338.0,623.7 337.5,620.4 335.3,617.3 C333.1,614.2 330.4,610.2 327.3,606.7 C324.2,603.2 320.7,599.1 316.7,596 C312.7,592.9 307.3,591.1 303.3,588 C299.3,584.9 294.9,581.3 292.7,577.3 C290.5,573.3 290.0,568.9 290,564 C290.0,559.1 294.5,552.5 292.7,548 C290.9,543.5 286.4,537.8 279.3,537.3 C272.2,536.8 261.6,542.6 250,545.3 C238.4,548.0 223.3,548.4 210,553.3 C196.7,558.2 177.6,570.2 170,574.7 C162.4,579.2 165.6,576.5 164.7,580Z" fill="#b2e9cb"/>
<path d="M380.7,436 C390.2,429.8 431.1,427.6 442,436 C452.9,444.4 446.9,477.6 446,486.7 C445.1,495.8 440.5,489.3 436.7,490.7 C432.9,492.1 427.8,494.1 423.3,495.2 C418.9,496.3 414.4,497.8 410,497.3 C405.6,496.8 400.9,496.0 396.7,492 C392.5,488.0 387.4,482.6 384.7,473.3 C382.0,464.0 371.1,442.2 380.7,436Z" fill="#b2e9cb"/>
<path d="M482,486.7 C483.8,486.0 489.1,486.9 492.7,488 C496.2,489.1 501.8,491.5 503.3,493.3 C504.9,495.1 504.2,498.2 502,498.7 C499.8,499.1 493.3,497.1 490,496 C486.7,494.9 483.3,493.6 482,492 C480.7,490.4 480.2,487.4 482,486.7Z" fill="#b2e9cb"/>
<path d="M440,930 C451.2,929.0 444.5,926.8 447,924 C449.5,921.2 452.3,916.2 455,913 C457.7,909.8 460.7,908.5 463,905 C465.3,901.5 467.7,896.3 469,892 C470.3,887.7 469.7,883.5 471,879 C472.3,874.5 474.7,868.2 477,865 C479.3,861.8 482.0,860.3 485,860 C488.0,859.7 492.0,863.0 495,863 C498.0,863.0 499.8,861.3 503,860 C506.2,858.7 510.8,856.8 514,855 C517.2,853.2 520.2,851.7 522,849 C523.8,846.3 525.0,842.5 525,839 C525.0,835.5 522.7,832.0 522,828 C521.3,824.0 521.5,819.5 521,815 C520.5,810.5 519.7,805.0 519,801 C518.3,797.0 518.7,793.7 517,791 C515.3,788.3 508.5,787.3 509,785 C509.5,782.7 517.5,781.3 520,777 C522.5,772.7 523.2,765.7 524,759 C524.8,752.3 524.2,743.0 525,737 C525.8,731.0 526.3,726.0 529,723 C531.7,720.0 537.2,719.0 541,719 C544.8,719.0 548.8,720.8 552,723 C555.2,725.2 556.5,729.8 560,732 C563.5,734.2 568.5,735.2 573,736 C577.5,736.8 583.8,735.0 587,737 C590.2,739.0 590.7,744.0 592,748 C593.3,752.0 593.7,757.0 595,761 C596.3,765.0 597.8,768.0 600,772 C602.2,776.0 605.3,780.5 608,785 C610.7,789.5 613.8,795.3 616,799 C618.2,802.7 618.3,806.2 621,807 C623.7,807.8 628.0,805.3 632,804 C636.0,802.7 640.5,800.3 645,799 C649.5,797.7 654.5,795.7 659,796 C663.5,796.3 668.0,798.3 672,801 C676.0,803.7 679.5,808.8 683,812 C686.5,815.2 690.2,818.3 693,820 C695.8,821.7 697.5,821.0 700,822 C702.5,823.0 705.3,824.0 708,826 C710.7,828.0 713.7,830.7 716,834 C718.3,837.3 720.0,841.7 722,846 C724.0,850.3 726.3,855.3 728,860 C729.7,864.7 730.3,869.3 732,874 C733.7,878.7 735.7,883.7 738,888 C740.3,892.3 743.3,896.3 746,900 C748.7,903.7 751.7,906.7 754,910 C756.3,913.3 758.0,916.3 760,920 C762.0,923.7 764.3,928.7 766,932 C767.7,935.3 764.3,934.5 770,940 C775.7,945.5 788.3,956.7 800,965 C811.7,973.3 831.5,986.6 840,990 C848.5,993.4 847.2,985.2 850.7,985.3 C854.2,985.4 859.1,987.6 861.3,990.7 C863.5,993.8 864.0,999.6 864,1004 C864.0,1008.4 861.3,1012.8 861.3,1017.3 C861.3,1021.8 862.2,1026.7 864,1030.7 C865.8,1034.7 868.9,1038.6 872,1041.3 C875.1,1044.0 879.6,1044.9 882.7,1046.7 C885.8,1048.5 888.9,1050.2 890.7,1052 C892.5,1053.8 892.0,1054.6 893.3,1057.3 C894.6,1060.0 897.1,1064.0 898.7,1068 C900.3,1072.0 902.5,1076.8 902.7,1081.3 C902.9,1085.8 899.8,1090.7 900,1094.7 C900.2,1098.7 902.0,1101.3 904,1105.3 C906.0,1109.3 909.3,1114.7 912,1118.7 C914.7,1122.7 916.9,1126.6 920,1129.3 C923.1,1132.0 927.2,1133.4 930.7,1134.7 C934.2,1136.0 937.3,1137.3 941.3,1137.3 C945.3,1137.3 950.7,1136.0 954.7,1134.7 C958.7,1133.4 962.6,1131.5 965.3,1129.3 C968.0,1127.1 969.4,1124.4 970.7,1121.3 C972.0,1118.2 971.1,1113.4 973.3,1110.7 C975.5,1108.0 980.0,1105.8 984,1105.3 C988.0,1104.8 993.3,1106.7 997.3,1108 C1001.3,1109.3 1004.4,1112.8 1008,1113.3 C1011.6,1113.8 1015.2,1111.6 1018.7,1110.7 C1022.2,1109.8 1026.2,1108.0 1029.3,1108 C1032.4,1108.0 1034.6,1108.9 1037.3,1110.7 C1040.0,1112.5 1042.6,1115.6 1045.3,1118.7 C1048.0,1121.8 1051.1,1125.8 1053.3,1129.3 C1055.5,1132.8 1058.7,1136.0 1058.7,1140 C1058.7,1144.0 1053.1,1143.3 1053.3,1153.3 C1053.5,1163.3 1068.9,1182.2 1060,1200 C1051.1,1217.8 1060.0,1243.3 1000,1260 C940.0,1276.7 803.3,1301.7 700,1300 C596.7,1298.3 433.3,1311.7 380,1250 C326.7,1188.3 370.0,983.3 380,930 C390.0,876.7 428.8,931.0 440,930Z" fill="#b2e9cb"/>
<path d="M478,785 C480.7,782.0 490.7,781.2 496,780 C501.3,778.8 505.7,779.3 510,778 C514.3,776.7 519.3,770.0 522,772 C524.7,774.0 528.0,786.2 526,790 C524.0,793.8 515.2,794.2 510,795 C504.8,795.8 500.0,794.5 495,795 C490.0,795.5 482.8,799.7 480,798 C477.2,796.3 475.3,788.0 478,785Z" fill="#b2e9cb"/>
<path d="M370,773.3 C370.9,771.1 378.0,772.7 383.3,772 C388.6,771.3 395.8,770.2 402,769.3 C408.2,768.4 414.9,768.0 420.7,766.7 C426.5,765.4 432.3,762.9 436.7,761.3 C441.1,759.7 443.8,757.5 447.3,757.3 C450.9,757.1 454.4,758.0 458,760 C461.6,762.0 465.6,765.5 468.7,769.3 C471.8,773.1 474.9,778.7 476.7,782.7 C478.5,786.7 479.8,790.6 479.3,793.3 C478.9,796.0 476.7,797.4 474,798.7 C471.3,800.0 466.9,800.0 463.3,801.3 C459.8,802.6 456.2,804.9 452.7,806.7 C449.1,808.5 445.6,810.2 442,812 C438.4,813.8 434.9,816.0 431.3,817.3 C427.8,818.6 424.2,820.0 420.7,820 C417.1,820.0 413.6,819.5 410,817.3 C406.4,815.1 402.9,810.2 399.3,806.7 C395.8,803.2 392.2,799.6 388.7,796 C385.1,792.4 381.1,789.1 378,785.3 C374.9,781.5 369.1,775.5 370,773.3Z" fill="#b2e9cb"/>
<path d="M925.3,1070.7 C927.1,1067.6 932.4,1065.3 936,1065.3 C939.6,1065.3 943.6,1067.6 946.7,1070.7 C949.8,1073.8 952.9,1079.6 954.7,1084 C956.5,1088.4 958.2,1093.3 957.3,1097.3 C956.4,1101.3 952.4,1106.7 949.3,1108 C946.2,1109.3 941.8,1107.5 938.7,1105.3 C935.6,1103.1 932.9,1098.2 930.7,1094.7 C928.5,1091.2 926.2,1088.0 925.3,1084 C924.4,1080.0 923.5,1073.8 925.3,1070.7Z" fill="#b2e9cb"/>
<path d="M957.3,1081.3 C958.6,1077.3 964.0,1074.8 968,1073.3 C972.0,1071.8 977.3,1071.1 981.3,1072 C985.3,1072.9 988.9,1075.8 992,1078.7 C995.1,1081.6 998.2,1085.3 1000,1089.3 C1001.8,1093.3 1003.6,1098.7 1002.7,1102.7 C1001.8,1106.7 998.3,1111.1 994.7,1113.3 C991.1,1115.5 985.8,1116.4 981.3,1116 C976.8,1115.6 971.5,1113.8 968,1110.7 C964.5,1107.6 961.8,1102.2 960,1097.3 C958.2,1092.4 956.0,1085.3 957.3,1081.3Z" fill="#b2e9cb"/>
<path d="M1050.7,1105.3 C1052.2,1102.6 1057.8,1102.2 1061.3,1102.7 C1064.8,1103.2 1070.2,1104.9 1072,1108 C1073.8,1111.1 1073.8,1118.6 1072,1121.3 C1070.2,1124.0 1064.6,1124.4 1061.3,1124 C1058.0,1123.6 1053.8,1121.8 1052,1118.7 C1050.2,1115.6 1049.2,1108.0 1050.7,1105.3Z" fill="#b2e9cb"/>
<path d="M928,1057.3 C929.3,1055.3 935.6,1054.2 938.7,1054.7 C941.8,1055.2 946.3,1057.8 946.7,1060 C947.1,1062.2 944.0,1066.9 941.3,1068 C938.6,1069.1 932.9,1068.5 930.7,1066.7 C928.5,1064.9 926.7,1059.3 928,1057.3Z" fill="#b2e9cb"/>
<path d="M474.7,780 C478.2,766.2 489.8,777.3 496,777.3 C502.2,777.3 507.6,781.3 512,780 C516.5,778.7 520.0,768.4 522.7,769.3 C525.4,770.2 526.7,779.1 528,785.3 C529.3,791.5 529.8,799.6 530.7,806.7 C531.6,813.8 534.2,823.6 533.3,828 C532.4,832.4 528.0,828.8 525.3,833.3 C522.6,837.8 520.4,850.2 517.3,854.7 C514.2,859.2 510.7,859.6 506.7,860 C502.7,860.4 498.6,857.3 493.3,857.3 C488.0,857.3 477.8,872.9 474.7,860 C471.6,847.1 471.1,793.8 474.7,780Z" fill="#b2e9cb"/>
<path d="M540.7,886.7 C540.2,881.4 541.1,877.3 543.3,873.3 C545.5,869.3 549.5,864.9 554,862.7 C558.5,860.5 564.7,860.0 570,860 C575.3,860.0 582.0,860.9 586,862.7 C590.0,864.5 593.1,867.2 594,870.7 C594.9,874.2 593.1,880.0 591.3,884 C589.5,888.0 586.4,891.2 583.3,894.7 C580.2,898.2 576.7,902.6 572.7,905.3 C568.7,908.0 563.8,910.7 559.3,910.7 C554.8,910.7 549.1,909.3 546,905.3 C542.9,901.3 541.2,892.0 540.7,886.7Z" fill="#e9f9a0"/>
<path d="M437.3,900 C442.0,895.5 463.3,897.3 468,900 C472.7,902.7 467.1,910.7 465.3,916 C463.5,921.3 460.0,927.1 457.3,932 C454.6,936.9 451.7,941.8 449.3,945.3 C446.9,948.8 444.2,956.4 442.7,953.3 C441.1,950.2 440.9,935.6 440,926.7 C439.1,917.8 432.6,904.5 437.3,900Z" fill="#e9f9a0"/>
<path d="M630.7,929.3 C634.2,924.8 639.1,923.1 644,921.3 C648.9,919.5 655.1,918.2 660,918.7 C664.9,919.2 668.4,922.2 673.3,924 C678.2,925.8 684.0,927.5 689.3,929.3 C694.6,931.1 700.4,934.2 705.3,934.7 C710.2,935.2 714.2,931.1 718.7,932 C723.2,932.9 727.1,937.8 732,940 C736.9,942.2 743.5,943.1 748,945.3 C752.5,947.5 756.0,950.2 758.7,953.3 C761.4,956.4 764.9,961.3 764,964 C763.1,966.7 757.3,968.8 753.3,969.3 C749.3,969.8 743.5,965.4 740,966.7 C736.5,968.0 734.2,973.3 732,977.3 C729.8,981.3 728.9,986.2 726.7,990.7 C724.5,995.2 721.8,1000.0 718.7,1004 C715.6,1008.0 712.0,1012.0 708,1014.7 C704.0,1017.4 698.7,1018.2 694.7,1020 C690.7,1021.8 687.6,1024.0 684,1025.3 C680.4,1026.6 676.8,1025.8 673.3,1028 C669.8,1030.2 665.8,1035.2 662.7,1038.7 C659.6,1042.2 658.3,1046.6 654.7,1049.3 C651.1,1052.0 645.3,1054.2 641.3,1054.7 C637.3,1055.2 633.4,1054.2 630.7,1052 C628.0,1049.8 627.1,1045.3 625.3,1041.3 C623.5,1037.3 621.3,1032.9 620,1028 C618.7,1023.1 618.0,1017.3 617.3,1012 C616.6,1006.7 616.0,1001.3 616,996 C616.0,990.7 616.6,985.3 617.3,980 C618.0,974.7 619.1,969.3 620,964 C620.9,958.7 620.9,953.8 622.7,948 C624.5,942.2 627.2,933.8 630.7,929.3Z" fill="#e9f9a0"/>
<path d="M614.7,1086.7 C615.6,1082.7 617.3,1076.9 620,1073.3 C622.7,1069.7 626.2,1067.5 630.7,1065.3 C635.2,1063.1 641.4,1061.3 646.7,1060 C652.0,1058.7 658.3,1056.8 662.7,1057.3 C667.1,1057.8 671.1,1060.0 673.3,1062.7 C675.5,1065.4 677.8,1069.8 676,1073.3 C674.2,1076.8 667.2,1080.9 662.7,1084 C658.2,1087.1 653.8,1089.3 649.3,1092 C644.8,1094.7 640.4,1098.2 636,1100 C631.6,1101.8 626.2,1103.2 622.7,1102.7 C619.2,1102.2 616.0,1100.0 614.7,1097.3 C613.4,1094.6 613.8,1090.7 614.7,1086.7Z" fill="#e9f9a0"/>
<path d="M630.7,1124 C630.2,1122.0 631.8,1119.8 633.3,1118.7 C634.8,1117.6 638.2,1116.6 640,1117.3 C641.8,1118.0 643.5,1120.7 644,1122.7 C644.5,1124.7 644.0,1128.0 642.7,1129.3 C641.4,1130.6 638.0,1131.6 636,1130.7 C634.0,1129.8 631.2,1126.0 630.7,1124Z" fill="#e9f9a0"/>
<path d="M761.3,1065.3 C763.1,1061.3 768.4,1060.4 772,1060 C775.6,1059.6 780.9,1056.9 782.7,1062.7 C784.5,1068.5 784.9,1089.4 782.7,1094.7 C780.5,1100.0 772.9,1096.5 769.3,1094.7 C765.7,1092.9 762.6,1088.9 761.3,1084 C760.0,1079.1 759.5,1069.3 761.3,1065.3Z" fill="#e9f9a0"/>
<path d="M770,940 C769.3,942.3 777.3,946.0 780,950 C782.7,954.0 784.3,959.0 786,964 C787.7,969.0 788.0,975.7 790,980 C792.0,984.3 795.0,987.7 798,990 C801.0,992.3 804.3,993.5 808,994 C811.7,994.5 816.3,992.3 820,993 C823.7,993.7 826.7,996.5 830,998 C833.3,999.5 837.0,1000.0 840,1002 C843.0,1004.0 845.3,1008.0 848,1010 C850.7,1012.0 854.0,1014.7 856,1014 C858.0,1013.3 859.0,1009.0 860,1006 C861.0,1003.0 861.3,999.7 862,996 C862.7,992.3 863.0,987.7 864,984 C865.0,980.3 866.3,977.3 868,974 C869.7,970.7 872.3,967.3 874,964 C875.7,960.7 877.7,957.0 878,954 C878.3,951.0 877.7,948.3 876,946 C874.3,943.7 871.3,941.3 868,940 C864.7,938.7 860.7,938.3 856,938 C851.3,937.7 846.0,938.3 840,938 C834.0,937.7 826.7,936.5 820,936 C813.3,935.5 806.0,935.0 800,935 C794.0,935.0 789.0,935.2 784,936 C779.0,936.8 770.7,937.7 770,940Z" fill="#e9f9a0"/>
<path d="M845.3,1070.7 C846.6,1068.7 850.2,1066.7 853.3,1066.7 C856.4,1066.7 860.4,1068.3 864,1070.7 C867.6,1073.1 872.5,1078.2 874.7,1081.3 C876.9,1084.4 878.2,1087.1 877.3,1089.3 C876.4,1091.5 872.4,1094.0 869.3,1094.7 C866.2,1095.4 861.8,1094.6 858.7,1093.3 C855.6,1092.0 852.9,1089.1 850.7,1086.7 C848.5,1084.3 846.2,1081.4 845.3,1078.7 C844.4,1076.0 844.0,1072.7 845.3,1070.7Z" fill="#e9f9a0"/>
<path d="M784,1049.3 C785.3,1046.6 790.7,1044.7 794.7,1044 C798.7,1043.3 804.9,1043.5 808,1045.3 C811.1,1047.1 813.3,1051.8 813.3,1054.7 C813.3,1057.6 810.7,1060.9 808,1062.7 C805.3,1064.5 800.8,1065.8 797.3,1065.3 C793.8,1064.8 788.9,1062.7 786.7,1060 C784.5,1057.3 782.7,1052.0 784,1049.3Z" fill="#e9f9a0"/>
<path d="M760,1070.7 C762.0,1068.5 767.2,1065.8 770.7,1065.3 C774.2,1064.8 778.6,1065.8 781.3,1068 C784.0,1070.2 786.2,1075.2 786.7,1078.7 C787.2,1082.2 786.2,1087.1 784,1089.3 C781.8,1091.5 776.8,1092.4 773.3,1092 C769.8,1091.6 765.1,1088.9 762.7,1086.7 C760.3,1084.5 759.2,1081.4 758.7,1078.7 C758.2,1076.0 758.0,1072.9 760,1070.7Z" fill="#e9f9a0"/>
<path d="M792,1073.3 C793.3,1070.6 798.2,1070.7 802.7,1070.7 C807.2,1070.7 814.7,1071.5 818.7,1073.3 C822.7,1075.1 826.3,1078.6 826.7,1081.3 C827.1,1084.0 824.4,1087.5 821.3,1089.3 C818.2,1091.1 812.4,1092.4 808,1092 C803.6,1091.6 797.4,1089.8 794.7,1086.7 C792.0,1083.6 790.7,1076.0 792,1073.3Z" fill="#e9f9a0"/>
<path d="M972,1164 C973.3,1162.9 976.9,1164.9 978.7,1166.7 C980.5,1168.5 983.2,1172.7 982.7,1174.7 C982.2,1176.7 978.0,1178.9 976,1178.7 C974.0,1178.5 971.4,1175.8 970.7,1173.3 C970.0,1170.8 970.7,1165.1 972,1164Z" fill="#e9f9a0"/>
<path d="M1016,1142.7 C1016.9,1140.0 1020.9,1139.1 1022.7,1140 C1024.5,1140.9 1026.5,1145.1 1026.7,1148 C1026.9,1150.9 1025.6,1156.0 1024,1157.3 C1022.4,1158.6 1018.6,1158.4 1017.3,1156 C1016.0,1153.6 1015.1,1145.4 1016,1142.7Z" fill="#e9f9a0"/>
<path d="M1005.3,1118.7 C1005.8,1116.0 1011.5,1114.6 1016,1113.3 C1020.5,1112.0 1026.7,1109.8 1032,1110.7 C1037.3,1111.6 1043.5,1114.7 1048,1118.7 C1052.5,1122.7 1057.8,1130.3 1058.7,1134.7 C1059.6,1139.1 1056.4,1144.4 1053.3,1145.3 C1050.2,1146.2 1044.4,1142.2 1040,1140 C1035.6,1137.8 1031.2,1133.8 1026.7,1132 C1022.2,1130.2 1016.9,1131.5 1013.3,1129.3 C1009.7,1127.1 1004.8,1121.4 1005.3,1118.7Z" fill="#e9f9a0"/>
<path d="M474.7,796 C478.2,789.3 489.8,790.7 496,790.7 C502.2,790.7 508.4,792.9 512,796 C515.5,799.1 517.3,804.8 517.3,809.3 C517.3,813.8 515.5,819.6 512,822.7 C508.4,825.8 502.2,826.7 496,828 C489.8,829.3 478.2,836.0 474.7,830.7 C471.1,825.4 471.1,802.7 474.7,796Z" fill="#e9f9a0"/>
<path d="M212.7,572 C214.9,570.0 219.3,568.5 223.3,568 C227.3,567.5 232.7,568.2 236.7,569.3 C240.7,570.4 244.9,571.6 247.3,574.7 C249.7,577.8 250.9,583.6 251.3,588 C251.8,592.4 251.6,597.8 250,601.3 C248.4,604.8 245.6,607.7 242,609.3 C238.4,610.9 232.7,611.1 228.7,610.7 C224.7,610.3 220.9,609.6 218,606.7 C215.1,603.8 212.6,597.8 211.3,593.3 C210.0,588.8 209.8,583.5 210,580 C210.2,576.5 210.5,574.0 212.7,572Z" fill="#94d1d4"/>
<path d="M306,638.7 C308.2,636.9 312.7,633.8 316.7,633.3 C320.7,632.8 326.0,633.8 330,636 C334.0,638.2 338.0,642.7 340.7,646.7 C343.4,650.7 343.8,656.5 346,660 C348.2,663.5 352.4,665.3 354,668 C355.6,670.7 356.2,673.8 355.3,676 C354.4,678.2 351.1,681.3 348.7,681.3 C346.3,681.3 342.9,678.7 340.7,676 C338.5,673.3 338.4,668.4 335.3,665.3 C332.2,662.2 326.4,659.5 322,657.3 C317.6,655.1 311.8,654.2 308.7,652 C305.6,649.8 303.8,646.2 303.3,644 C302.9,641.8 303.8,640.5 306,638.7Z" fill="#94d1d4"/>
<path d="M274,646.7 C275.3,644.9 278.5,643.6 280.7,644 C282.9,644.4 286.4,647.1 287.3,649.3 C288.2,651.5 287.6,655.5 286,657.3 C284.4,659.1 280.2,660.4 278,660 C275.8,659.6 273.4,656.9 272.7,654.7 C272.0,652.5 272.7,648.5 274,646.7Z" fill="#94d1d4"/>
<path d="M296.7,680 C297.1,678.2 300.9,676.0 303.3,676 C305.7,676.0 310.4,678.2 311.3,680 C312.2,681.8 310.5,685.6 308.7,686.7 C306.9,687.8 302.7,687.8 300.7,686.7 C298.7,685.6 296.3,681.8 296.7,680Z" fill="#94d1d4"/>
<path d="M402,469.3 C402.4,467.1 406.5,465.1 408.7,465.3 C410.9,465.5 414.6,468.7 415.3,470.7 C416.0,472.7 414.2,476.0 412.7,477.3 C411.1,478.6 407.8,480.0 406,478.7 C404.2,477.4 401.6,471.5 402,469.3Z" fill="#94d1d4"/>
<path d="M403.3,797.3 C404.2,795.3 409.4,793.5 412.7,792 C416.0,790.5 420.2,788.2 423.3,788 C426.4,787.8 430.4,788.9 431.3,790.7 C432.2,792.5 430.9,796.9 428.7,798.7 C426.5,800.5 421.6,800.4 418,801.3 C414.4,802.2 409.8,804.7 407.3,804 C404.9,803.3 402.4,799.3 403.3,797.3Z" fill="#94d1d4"/>
<path d="M404.7,797.3 C405.4,795.1 409.6,792.2 412.7,790.7 C415.8,789.2 420.2,787.8 423.3,788 C426.4,788.2 430.4,790.0 431.3,792 C432.2,794.0 430.9,798.2 428.7,800 C426.5,801.8 421.3,802.0 418,802.7 C414.7,803.4 410.9,804.9 408.7,804 C406.5,803.1 404.0,799.5 404.7,797.3Z" fill="#94d1d4"/>
<path d="M468,900 C474.2,896.5 483.6,900.0 500,900 C516.5,900.0 546.7,900.0 566.7,900 C586.7,900.0 609.8,897.3 620,900 C630.2,902.7 628.0,911.1 628,916 C628.0,920.9 623.1,925.3 620,929.3 C616.9,933.3 613.8,936.9 609.3,940 C604.8,943.1 597.7,944.5 593.3,948 C588.9,951.5 584.9,956.0 582.7,961.3 C580.5,966.6 580.0,974.2 580,980 C580.0,985.8 580.5,991.5 582.7,996 C584.9,1000.5 589.8,1003.6 593.3,1006.7 C596.8,1009.8 601.3,1012.0 604,1014.7 C606.7,1017.4 610.2,1021.8 609.3,1022.7 C608.4,1023.6 603.1,1021.3 598.7,1020 C594.3,1018.7 588.0,1015.2 582.7,1014.7 C577.4,1014.2 571.6,1015.5 566.7,1017.3 C561.8,1019.1 556.9,1021.7 553.3,1025.3 C549.7,1028.9 547.5,1033.8 545.3,1038.7 C543.1,1043.6 540.4,1049.4 540,1054.7 C539.6,1060.0 540.9,1065.8 542.7,1070.7 C544.5,1075.6 547.2,1080.9 550.7,1084 C554.2,1087.1 559.6,1088.8 564,1089.3 C568.4,1089.8 572.8,1086.2 577.3,1086.7 C581.8,1087.2 586.7,1089.3 590.7,1092 C594.7,1094.7 598.2,1099.2 601.3,1102.7 C604.4,1106.2 607.1,1109.3 609.3,1113.3 C611.5,1117.3 612.9,1122.2 614.7,1126.7 C616.5,1131.2 617.8,1136.0 620,1140 C622.2,1144.0 624.5,1148.0 628,1150.7 C631.5,1153.4 636.8,1155.6 641.3,1156 C645.8,1156.4 650.2,1155.1 654.7,1153.3 C659.2,1151.5 663.6,1147.5 668,1145.3 C672.4,1143.1 676.8,1140.4 681.3,1140 C685.8,1139.6 690.2,1141.4 694.7,1142.7 C699.2,1144.0 702.7,1146.7 708,1148 C713.3,1149.3 721.4,1152.0 726.7,1150.7 C732.0,1149.4 736.5,1143.6 740,1140 C743.5,1136.4 744.9,1132.4 748,1129.3 C751.1,1126.2 755.2,1123.5 758.7,1121.3 C762.2,1119.1 764.9,1117.3 769.3,1116 C773.7,1114.7 782.6,1084.8 785.3,1113.3 C788.0,1141.8 855.1,1257.8 785.3,1286.7 C715.5,1315.6 436.5,1328.9 366.7,1286.7 C296.9,1244.5 354.9,1075.5 366.7,1033.3 C378.5,991.1 422.6,1034.2 437.3,1033.3 C452.0,1032.4 449.6,1031.5 454.7,1028 C459.8,1024.5 464.9,1017.8 468,1012 C471.1,1006.2 472.9,999.5 473.3,993.3 C473.8,987.1 472.0,980.5 470.7,974.7 C469.4,968.9 467.1,964.5 465.3,958.7 C463.5,952.9 460.4,946.2 460,940 C459.6,933.8 461.4,928.0 462.7,921.3 C464.0,914.6 461.8,903.5 468,900Z" fill="#94d1d4"/>
<path d="M657.3,1102.7 C657.3,1097.4 660.0,1091.2 662.7,1086.7 C665.4,1082.2 668.9,1078.7 673.3,1076 C677.7,1073.3 684.0,1071.2 689.3,1070.7 C694.6,1070.2 700.4,1071.1 705.3,1073.3 C710.2,1075.5 714.7,1080.0 718.7,1084 C722.7,1088.0 726.6,1092.4 729.3,1097.3 C732.0,1102.2 735.1,1108.4 734.7,1113.3 C734.3,1118.2 730.3,1123.1 726.7,1126.7 C723.1,1130.3 717.8,1132.5 713.3,1134.7 C708.8,1136.9 704.4,1139.6 700,1140 C695.6,1140.4 691.2,1139.1 686.7,1137.3 C682.2,1135.5 677.3,1132.4 673.3,1129.3 C669.3,1126.2 665.4,1123.1 662.7,1118.7 C660.0,1114.3 657.3,1108.0 657.3,1102.7Z" fill="#94d1d4"/>
<path d="M737.3,1012 C737.7,1006.7 741.7,999.5 745.3,996 C748.9,992.5 754.2,990.7 758.7,990.7 C763.2,990.7 768.0,993.3 772,996 C776.0,998.7 780.9,997.8 782.7,1006.7 C784.5,1015.6 785.4,1043.1 782.7,1049.3 C780.0,1055.5 771.6,1045.8 766.7,1044 C761.8,1042.2 757.3,1041.4 753.3,1038.7 C749.3,1036.0 745.4,1032.5 742.7,1028 C740.0,1023.5 736.9,1017.3 737.3,1012Z" fill="#94d1d4"/>
<path d="M520,833.3 C522.7,828.8 529.3,827.5 533.3,828 C537.3,828.5 541.8,832.5 544,836 C546.2,839.5 547.2,844.8 546.7,849.3 C546.2,853.8 544.4,860.0 541.3,862.7 C538.2,865.4 532.0,866.6 528,865.3 C524.0,864.0 518.6,860.0 517.3,854.7 C516.0,849.4 517.3,837.8 520,833.3Z" fill="#94d1d4"/>
<path d="M597.3,841.3 C599.5,836.9 603.5,832.9 608,830.7 C612.5,828.5 618.7,827.6 624,828 C629.3,828.4 636.5,830.2 640,833.3 C643.5,836.4 643.1,843.1 645.3,846.7 C647.5,850.3 649.7,854.7 653.3,854.7 C656.9,854.7 662.7,848.9 666.7,846.7 C670.7,844.5 672.9,842.2 677.3,841.3 C681.7,840.4 688.0,840.0 693.3,841.3 C698.6,842.6 704.8,845.7 709.3,849.3 C713.8,852.9 717.3,857.8 720,862.7 C722.7,867.6 725.3,873.4 725.3,878.7 C725.3,884.0 722.7,890.7 720,894.7 C717.3,898.7 712.8,901.8 709.3,902.7 C705.8,903.6 702.7,900.9 698.7,900 C694.7,899.1 689.3,896.8 685.3,897.3 C681.3,897.8 678.2,904.0 674.7,902.7 C671.2,901.4 667.6,892.0 664,889.3 C660.4,886.6 657.3,886.2 653.3,886.7 C649.3,887.2 644.0,888.5 640,892 C636.0,895.5 633.8,904.5 629.3,908 C624.8,911.5 618.2,913.3 613.3,913.3 C608.4,913.3 603.1,911.5 600,908 C596.9,904.5 595.2,897.8 594.7,892 C594.2,886.2 597.3,879.1 597.3,873.3 C597.3,867.5 594.7,862.6 594.7,857.3 C594.7,852.0 595.1,845.7 597.3,841.3Z" fill="#94d1d4"/>
<path d="M442,977.3 C442.4,964.0 442.9,969.4 444.7,966.7 C446.5,964.0 449.6,963.1 452.7,961.3 C455.8,959.5 459.8,957.8 463.3,956 C466.9,954.2 470.9,953.4 474,950.7 C477.1,948.0 479.3,944.5 482,940 C484.7,935.5 489.1,929.3 490,924 C490.9,918.7 487.3,913.3 487.3,908 C487.3,902.7 488.7,896.9 490,892 C491.3,887.1 492.6,882.2 495.3,878.7 C498.0,875.2 502.4,871.8 506,870.7 C509.6,869.6 513.6,872.9 516.7,872 C519.8,871.1 522.0,867.3 524.7,865.3 C527.4,863.3 530.0,860.0 532.7,860 C535.4,860.0 539.4,861.8 540.7,865.3 C542.0,868.8 540.3,876.0 540.7,881.3 C541.1,886.6 541.1,892.4 543.3,897.3 C545.5,902.2 550.0,908.5 554,910.7 C558.0,912.9 563.3,912.0 567.3,910.7 C571.3,909.4 574.9,905.8 578,902.7 C581.1,899.6 583.5,895.1 586,892 C588.5,888.9 590.9,887.5 592.7,884 C594.5,880.5 595.6,875.2 596.7,870.7 C597.8,866.2 599.3,861.8 599.3,857.3 C599.3,852.8 596.2,848.0 596.7,844 C597.2,840.0 599.3,836.0 602,833.3 C604.7,830.6 608.2,829.3 612.7,828 C617.2,826.7 623.8,825.3 628.7,825.3 C633.6,825.3 638.5,828.4 642,828 C645.5,827.6 646.0,824.5 650,822.7 C654.0,820.9 660.2,818.2 666,817.3 C671.8,816.4 678.5,816.0 684.7,817.3 C690.9,818.6 698.0,822.6 703.3,825.3 C708.6,828.0 713.1,830.2 716.7,833.3 C720.3,836.4 721.6,840.4 724.7,844 C727.8,847.6 733.5,840.0 735.3,854.7 C737.1,869.4 738.4,918.7 735.3,932 C732.2,945.3 722.0,935.2 716.7,934.7 C711.4,934.2 707.8,930.6 703.3,929.3 C698.8,928.0 694.4,928.0 690,926.7 C685.6,925.4 680.2,924.0 676.7,921.3 C673.2,918.6 671.8,913.4 668.7,910.7 C665.6,908.0 661.1,908.0 658,905.3 C654.9,902.6 650.5,897.8 650,894.7 C649.5,891.6 656.2,887.2 655.3,886.7 C654.4,886.2 647.8,889.3 644.7,892 C641.6,894.7 638.9,899.2 636.7,902.7 C634.5,906.2 632.6,909.8 631.3,913.3 C630.0,916.8 629.6,920.4 628.7,924 C627.8,927.6 626.9,930.7 626,934.7 C625.1,938.7 624.6,943.1 623.3,948 C622.0,952.9 619.8,959.1 618,964 C616.2,968.9 614.9,974.2 612.7,977.3 C610.5,980.4 607.8,982.2 604.7,982.7 C601.6,983.2 597.1,979.6 594,980 C590.9,980.4 587.8,982.2 586,985.3 C584.2,988.4 583.8,994.2 583.3,998.7 C582.8,1003.2 584.6,1008.5 583.3,1012 C582.0,1015.5 578.4,1019.5 575.3,1020 C572.2,1020.5 567.8,1016.0 564.7,1014.7 C561.6,1013.4 558.9,1011.1 556.7,1012 C554.5,1012.9 553.5,1016.5 551.3,1020 C549.1,1023.5 546.0,1029.3 543.3,1033.3 C540.6,1037.3 537.1,1040.0 535.3,1044 C533.5,1048.0 533.6,1052.4 532.7,1057.3 C531.8,1062.2 530.0,1068.4 530,1073.3 C530.0,1078.2 530.5,1083.1 532.7,1086.7 C534.9,1090.3 539.3,1092.5 543.3,1094.7 C547.3,1096.9 565.6,1099.1 556.7,1100 C547.8,1100.9 509.1,1108.9 490,1100 C470.9,1091.1 450.0,1067.2 442,1046.7 C434.0,1026.2 441.6,990.6 442,977.3Z" fill="#94d1d4"/>
<path d="M700,826 C704.7,824.7 705.7,829.3 708,832 C710.3,834.7 712.3,838.3 714,842 C715.7,845.7 716.7,850.0 718,854 C719.3,858.0 720.3,862.0 722,866 C723.7,870.0 726.0,874.0 728,878 C730.0,882.0 732.0,886.3 734,890 C736.0,893.7 737.7,896.7 740,900 C742.3,903.3 745.7,906.7 748,910 C750.3,913.3 752.3,917.0 754,920 C755.7,923.0 756.7,925.0 758,928 C759.3,931.0 761.7,934.7 762,938 C762.3,941.3 760.7,944.7 760,948 C759.3,951.3 758.0,954.7 758,958 C758.0,961.3 759.0,965.0 760,968 C761.0,971.0 762.3,973.7 764,976 C765.7,978.3 767.3,980.3 770,982 C772.7,983.7 777.0,984.3 780,986 C783.0,987.7 786.0,989.3 788,992 C790.0,994.7 791.7,998.3 792,1002 C792.3,1005.7 791.0,1010.0 790,1014 C789.0,1018.0 786.3,1022.0 786,1026 C785.7,1030.0 786.7,1034.3 788,1038 C789.3,1041.7 791.3,1045.7 794,1048 C796.7,1050.3 800.3,1051.7 804,1052 C807.7,1052.3 812.3,1051.7 816,1050 C819.7,1048.3 823.0,1045.0 826,1042 C829.0,1039.0 832.0,1035.3 834,1032 C836.0,1028.7 837.0,1022.0 838,1022 C839.0,1022.0 840.0,1028.3 840,1032 C840.0,1035.7 839.0,1040.0 838,1044 C837.0,1048.0 835.7,1052.3 834,1056 C832.3,1059.7 830.3,1063.7 828,1066 C825.7,1068.3 823.3,1069.7 820,1070 C816.7,1070.3 812.0,1069.0 808,1068 C804.0,1067.0 800.0,1065.3 796,1064 C792.0,1062.7 787.7,1062.0 784,1060 C780.3,1058.0 777.0,1055.3 774,1052 C771.0,1048.7 768.3,1043.7 766,1040 C763.7,1036.3 762.7,1031.0 760,1030 C757.3,1029.0 753.3,1033.0 750,1034 C746.7,1035.0 743.0,1036.3 740,1036 C737.0,1035.7 733.7,1034.7 732,1032 C730.3,1029.3 729.7,1023.7 730,1020 C730.3,1016.3 733.7,1013.3 734,1010 C734.3,1006.7 732.7,1003.3 732,1000 C731.3,996.7 730.0,993.3 730,990 C730.0,986.7 731.0,983.3 732,980 C733.0,976.7 734.3,973.3 736,970 C737.7,966.7 740.0,963.0 742,960 C744.0,957.0 747.3,954.7 748,952 C748.7,949.3 747.7,946.3 746,944 C744.3,941.7 740.7,940.0 738,938 C735.3,936.0 732.7,934.3 730,932 C727.3,929.7 724.7,927.0 722,924 C719.3,921.0 716.7,917.3 714,914 C711.3,910.7 708.3,907.0 706,904 C703.7,901.0 704.3,900.0 700,896 C695.7,892.0 683.3,889.3 680,880 C676.7,870.7 676.7,849.0 680,840 C683.3,831.0 695.3,827.3 700,826Z" fill="#94d1d4"/>
<path d="M978.7,1137.3 C979.6,1134.6 983.6,1132.0 986.7,1132 C989.8,1132.0 994.6,1134.2 997.3,1137.3 C1000.0,1140.4 1000.0,1147.1 1002.7,1150.7 C1005.4,1154.3 1012.0,1156.0 1013.3,1158.7 C1014.6,1161.4 1012.9,1165.8 1010.7,1166.7 C1008.5,1167.6 1003.6,1165.8 1000,1164 C996.4,1162.2 992.4,1158.7 989.3,1156 C986.2,1153.3 983.1,1151.1 981.3,1148 C979.5,1144.9 977.8,1140.0 978.7,1137.3Z" fill="#94d1d4"/>
<path d="M976,1084 C977.5,1082.2 981.8,1080.4 984,1081.3 C986.2,1082.2 988.8,1086.2 989.3,1089.3 C989.8,1092.4 988.5,1098.2 986.7,1100 C984.9,1101.8 980.7,1101.3 978.7,1100 C976.7,1098.7 975.2,1094.7 974.7,1092 C974.2,1089.3 974.5,1085.8 976,1084Z" fill="#94d1d4"/>
<path d="M830.7,1004 C832.0,999.1 835.3,997.8 837.3,998.7 C839.3,999.6 842.0,1004.9 842.7,1009.3 C843.4,1013.7 842.2,1020.0 841.3,1025.3 C840.4,1030.6 838.8,1038.2 837.3,1041.3 C835.8,1044.4 833.3,1046.2 832,1044 C830.7,1041.8 829.5,1034.7 829.3,1028 C829.1,1021.3 829.4,1008.9 830.7,1004Z" fill="#94d1d4"/>
<path d="M770.7,1012 C770.7,1007.1 771.1,1000.0 773.3,996 C775.5,992.0 780.0,988.0 784,988 C788.0,988.0 793.3,992.9 797.3,996 C801.3,999.1 804.4,1003.2 808,1006.7 C811.6,1010.2 815.2,1014.2 818.7,1017.3 C822.2,1020.4 827.1,1021.3 829.3,1025.3 C831.5,1029.3 832.9,1037.7 832,1041.3 C831.1,1044.9 827.1,1046.7 824,1046.7 C820.9,1046.7 816.8,1043.5 813.3,1041.3 C809.8,1039.1 806.2,1035.5 802.7,1033.3 C799.2,1031.1 795.6,1028.4 792,1028 C788.4,1027.6 784.4,1031.2 781.3,1030.7 C778.2,1030.2 775.1,1028.4 773.3,1025.3 C771.5,1022.2 770.7,1016.9 770.7,1012Z" fill="#94d1d4"/>
<path d="M730.7,1025.3 C731.2,1020.8 733.8,1016.0 736,1012 C738.2,1008.0 741.3,1004.0 744,1001.3 C746.7,998.6 749.3,995.5 752,996 C754.7,996.5 757.8,1000.5 760,1004 C762.2,1007.5 764.0,1012.8 765.3,1017.3 C766.6,1021.8 768.4,1026.2 768,1030.7 C767.6,1035.2 765.4,1040.9 762.7,1044 C760.0,1047.1 755.6,1048.8 752,1049.3 C748.4,1049.8 744.4,1048.5 741.3,1046.7 C738.2,1044.9 735.1,1042.3 733.3,1038.7 C731.5,1035.1 730.2,1029.8 730.7,1025.3Z" fill="#94d1d4"/>
<path d="M768,1118.7 C770.2,1113.4 770.2,1110.7 773.3,1108 C776.4,1105.3 782.2,1104.0 786.7,1102.7 C791.2,1101.4 795.6,1100.9 800,1100 C804.4,1099.1 809.3,1097.3 813.3,1097.3 C817.3,1097.3 820.4,1098.7 824,1100 C827.6,1101.3 831.2,1102.6 834.7,1105.3 C838.2,1108.0 842.6,1112.0 845.3,1116 C848.0,1120.0 850.7,1125.3 850.7,1129.3 C850.7,1133.3 851.5,1133.8 845.3,1140 C839.1,1146.2 826.2,1162.2 813.3,1166.7 C800.4,1171.2 776.9,1171.2 768,1166.7 C759.1,1162.2 760.0,1148.0 760,1140 C760.0,1132.0 765.8,1124.0 768,1118.7Z" fill="#94d1d4"/>
<path d="M1021.3,1166.7 C1021.3,1163.6 1024.0,1160.5 1026.7,1158.7 C1029.4,1156.9 1034.6,1155.1 1037.3,1156 C1040.0,1156.9 1042.7,1161.3 1042.7,1164 C1042.7,1166.7 1040.0,1169.8 1037.3,1172 C1034.6,1174.2 1029.4,1178.2 1026.7,1177.3 C1024.0,1176.4 1021.3,1169.8 1021.3,1166.7Z" fill="#94d1d4"/>
<path d="M572,1116 C572.5,1113.6 578.2,1111.6 582.7,1110.7 C587.2,1109.8 593.8,1109.8 598.7,1110.7 C603.6,1111.6 610.2,1113.8 612,1116 C613.8,1118.2 612.0,1122.2 609.3,1124 C606.6,1125.8 600.9,1126.5 596,1126.7 C591.1,1126.9 584.0,1127.1 580,1125.3 C576.0,1123.5 571.5,1118.4 572,1116Z" fill="#b2e9cb"/>
<path d="M536.7,886.7 C536.0,880.3 536.9,875.4 539.3,870.7 C541.7,866.0 546.2,861.2 551.3,858.7 C556.4,856.2 563.8,856.0 570,856 C576.2,856.0 584.0,856.5 588.7,858.7 C593.4,860.9 596.9,864.6 598,869.3 C599.1,874.0 597.1,881.8 595.3,886.7 C593.5,891.6 590.6,894.9 587.3,898.7 C584.0,902.5 580.0,906.6 575.3,909.3 C570.6,912.0 564.6,914.7 559.3,914.7 C554.0,914.7 547.1,914.0 543.3,909.3 C539.5,904.6 537.4,893.1 536.7,886.7Z" fill="#b2e9cb"/>
<path d="M540.7,886.7 C540.2,881.4 541.1,877.3 543.3,873.3 C545.5,869.3 549.5,864.9 554,862.7 C558.5,860.5 564.7,860.0 570,860 C575.3,860.0 582.0,860.9 586,862.7 C590.0,864.5 593.1,867.2 594,870.7 C594.9,874.2 593.1,880.0 591.3,884 C589.5,888.0 586.4,891.2 583.3,894.7 C580.2,898.2 576.7,902.6 572.7,905.3 C568.7,908.0 563.8,910.7 559.3,910.7 C554.8,910.7 549.1,909.3 546,905.3 C542.9,901.3 541.2,892.0 540.7,886.7Z" fill="#e9f9a0"/>
<path d="M222.5,596.5 C223.2,595.8 226.1,595.8 226.8,596.5 C227.5,597.2 227.5,600.1 226.8,600.8 C226.1,601.5 223.2,601.5 222.5,600.8 C221.8,600.1 221.8,597.2 222.5,596.5Z" fill="#7db9e2"/>
<path d="M325.5,643.5 C326.2,642.9 328.8,642.9 329.5,643.5 C330.2,644.1 330.2,646.6 329.5,647.2 C328.8,647.8 326.2,647.8 325.5,647.2 C324.8,646.6 324.8,644.1 325.5,643.5Z" fill="#7db9e2"/>
<path d="M441.3,1033.3 C456.0,1032.4 450.2,1031.1 454.7,1028 C459.1,1024.9 464.9,1019.6 468,1014.7 C471.1,1009.8 472.0,1004.5 473.3,998.7 C474.6,992.9 473.8,984.9 476,980 C478.2,975.1 482.7,972.0 486.7,969.3 C490.7,966.6 495.6,964.4 500,964 C504.4,963.6 509.3,967.2 513.3,966.7 C517.3,966.2 521.3,963.5 524,961.3 C526.7,959.1 527.5,952.8 529.3,953.3 C531.1,953.8 533.4,959.5 534.7,964 C536.0,968.5 535.5,975.5 537.3,980 C539.1,984.5 543.1,987.2 545.3,990.7 C547.5,994.2 550.7,997.8 550.7,1001.3 C550.7,1004.8 547.5,1008.9 545.3,1012 C543.1,1015.1 540.0,1016.5 537.3,1020 C534.6,1023.5 531.5,1028.4 529.3,1033.3 C527.1,1038.2 525.8,1044.0 524,1049.3 C522.2,1054.6 520.5,1060.0 518.7,1065.3 C516.9,1070.6 513.8,1076.4 513.3,1081.3 C512.8,1086.2 514.2,1090.7 516,1094.7 C517.8,1098.7 520.5,1102.6 524,1105.3 C527.5,1108.0 532.8,1108.5 537.3,1110.7 C541.8,1112.9 546.7,1115.6 550.7,1118.7 C554.7,1121.8 557.8,1125.8 561.3,1129.3 C564.8,1132.8 568.4,1136.9 572,1140 C575.6,1143.1 579.2,1146.2 582.7,1148 C586.2,1149.8 589.8,1150.7 593.3,1150.7 C596.8,1150.7 600.9,1147.6 604,1148 C607.1,1148.4 609.3,1151.1 612,1153.3 C614.7,1155.5 616.9,1159.1 620,1161.3 C623.1,1163.5 626.7,1166.2 630.7,1166.7 C634.7,1167.2 639.6,1165.3 644,1164 C648.4,1162.7 652.8,1160.5 657.3,1158.7 C661.8,1156.9 666.2,1154.2 670.7,1153.3 C675.2,1152.4 679.6,1152.4 684,1153.3 C688.4,1154.2 692.8,1157.4 697.3,1158.7 C701.8,1160.0 706.2,1161.3 710.7,1161.3 C715.2,1161.3 720.0,1160.9 724,1158.7 C728.0,1156.5 731.6,1152.0 734.7,1148 C737.8,1144.0 739.6,1138.2 742.7,1134.7 C745.8,1131.2 749.3,1128.9 753.3,1126.7 C757.3,1124.5 761.4,1122.6 766.7,1121.3 C772.0,1120.0 782.2,1091.1 785.3,1118.7 C788.4,1146.3 855.1,1258.7 785.3,1286.7 C715.5,1314.7 436.5,1328.9 366.7,1286.7 C296.9,1244.5 354.3,1075.5 366.7,1033.3 C379.1,991.1 426.6,1034.2 441.3,1033.3Z" fill="#7db9e2"/>
<path d="M510.7,934.7 C512.0,931.6 517.3,929.8 521.3,929.3 C525.3,928.8 531.1,930.2 534.7,932 C538.3,933.8 542.3,936.9 542.7,940 C543.1,943.1 540.4,948.5 537.3,950.7 C534.2,952.9 528.0,953.8 524,953.3 C520.0,952.8 515.5,951.1 513.3,948 C511.1,944.9 509.4,937.8 510.7,934.7Z" fill="#7db9e2"/>
<path d="M605.3,846.7 C607.1,841.8 609.7,838.2 613.3,836 C616.9,833.8 622.2,832.4 626.7,833.3 C631.2,834.2 637.3,837.7 640,841.3 C642.7,844.9 640.9,850.7 642.7,854.7 C644.5,858.7 648.5,861.8 650.7,865.3 C652.9,868.8 656.0,872.4 656,876 C656.0,879.6 653.4,884.5 650.7,886.7 C648.0,888.9 643.1,887.1 640,889.3 C636.9,891.5 634.7,896.4 632,900 C629.3,903.6 627.5,908.9 624,910.7 C620.5,912.5 614.2,912.5 610.7,910.7 C607.2,908.9 604.5,904.5 602.7,900 C600.9,895.5 600.0,889.8 600,884 C600.0,878.2 601.8,871.5 602.7,865.3 C603.6,859.1 603.5,851.6 605.3,846.7Z" fill="#7db9e2"/>
<path d="M650.7,852 C652.0,848.9 657.3,848.0 661.3,846.7 C665.3,845.4 669.8,844.5 674.7,844 C679.6,843.5 685.4,842.7 690.7,844 C696.0,845.3 702.3,848.5 706.7,852 C711.1,855.5 715.1,860.4 717.3,865.3 C719.5,870.2 720.4,876.4 720,881.3 C719.6,886.2 717.4,891.6 714.7,894.7 C712.0,897.8 708.0,899.6 704,900 C700.0,900.4 694.7,898.6 690.7,897.3 C686.7,896.0 683.1,894.7 680,892 C676.9,889.3 674.7,884.8 672,881.3 C669.3,877.8 667.1,873.4 664,870.7 C660.9,868.0 655.5,868.4 653.3,865.3 C651.1,862.2 649.4,855.1 650.7,852Z" fill="#7db9e2"/>
<path d="M712,898 C714.0,898.0 717.0,903.3 720,906 C723.0,908.7 726.7,911.3 730,914 C733.3,916.7 737.0,919.3 740,922 C743.0,924.7 745.7,927.0 748,930 C750.3,933.0 753.7,937.3 754,940 C754.3,942.7 752.0,946.0 750,946 C748.0,946.0 745.0,942.3 742,940 C739.0,937.7 735.3,934.7 732,932 C728.7,929.3 725.0,927.0 722,924 C719.0,921.0 716.3,917.0 714,914 C711.7,911.0 708.3,908.7 708,906 C707.7,903.3 710.0,898.0 712,898Z" fill="#7db9e2"/>
<path d="M760,998 C762.0,995.7 763.3,993.3 766,992 C768.7,990.7 772.7,989.3 776,990 C779.3,990.7 783.7,993.3 786,996 C788.3,998.7 789.7,1002.3 790,1006 C790.3,1009.7 789.0,1014.0 788,1018 C787.0,1022.0 786.0,1026.7 784,1030 C782.0,1033.3 779.0,1037.0 776,1038 C773.0,1039.0 769.0,1037.7 766,1036 C763.0,1034.3 759.7,1031.3 758,1028 C756.3,1024.7 756.7,1019.7 756,1016 C755.3,1012.3 753.3,1009.0 754,1006 C754.7,1003.0 758.0,1000.3 760,998Z" fill="#7db9e2"/>
<path d="M826,1032 C826.3,1029.5 828.3,1027.7 830,1027 C831.7,1026.3 834.7,1026.5 836,1028 C837.3,1029.5 838.3,1033.5 838,1036 C837.7,1038.5 835.7,1042.0 834,1043 C832.3,1044.0 829.3,1043.8 828,1042 C826.7,1040.2 825.7,1034.5 826,1032Z" fill="#7db9e2"/>
<path d="M749.3,1014.7 C749.8,1011.4 752.5,1008.5 754.7,1008 C756.9,1007.5 760.7,1009.5 762.7,1012 C764.7,1014.5 766.3,1019.2 766.7,1022.7 C767.1,1026.2 766.6,1031.1 765.3,1033.3 C764.0,1035.5 760.9,1036.9 758.7,1036 C756.5,1035.1 753.6,1031.5 752,1028 C750.4,1024.5 748.8,1018.0 749.3,1014.7Z" fill="#7db9e2"/>
<path d="M765.3,1124 C768.8,1119.3 772.4,1114.7 776,1112 C779.6,1109.3 783.2,1109.1 786.7,1108 C790.2,1106.9 793.8,1105.3 797.3,1105.3 C800.8,1105.3 804.4,1106.7 808,1108 C811.6,1109.3 815.2,1111.5 818.7,1113.3 C822.2,1115.1 826.2,1116.5 829.3,1118.7 C832.4,1120.9 834.6,1124.0 837.3,1126.7 C840.0,1129.4 844.8,1131.6 845.3,1134.7 C845.8,1137.8 845.3,1140.0 840,1145.3 C834.7,1150.6 823.1,1158.7 813.3,1166.7 C803.5,1174.7 788.8,1180.0 781.3,1193.3 C773.8,1206.6 772.4,1237.8 768,1246.7 C763.6,1255.6 756.9,1264.5 754.7,1246.7 C752.5,1228.9 752.9,1160.5 754.7,1140 C756.5,1119.5 761.8,1128.7 765.3,1124Z" fill="#7db9e2"/>
<path d="M1024,1164 C1025.8,1162.0 1029.3,1159.2 1032,1158.7 C1034.7,1158.2 1039.1,1159.5 1040,1161.3 C1040.9,1163.1 1039.5,1167.1 1037.3,1169.3 C1035.1,1171.5 1029.4,1174.5 1026.7,1174.7 C1024.0,1174.9 1021.8,1172.5 1021.3,1170.7 C1020.8,1168.9 1022.2,1166.0 1024,1164Z" fill="#7db9e2"/>
<path d="M980.8,1088.8 C981.4,1088.2 983.9,1088.2 984.5,1088.8 C985.1,1089.4 985.1,1091.9 984.5,1092.5 C983.9,1093.1 981.4,1093.1 980.8,1092.5 C980.2,1091.9 980.2,1089.4 980.8,1088.8Z" fill="#7db9e2"/>
<path d="M831.5,1035.5 C832.1,1034.9 834.6,1034.9 835.2,1035.5 C835.8,1036.1 835.8,1038.6 835.2,1039.2 C834.6,1039.8 832.1,1039.8 831.5,1039.2 C830.9,1038.6 830.9,1036.1 831.5,1035.5Z" fill="#7db9e2"/>
<path d="M430.7,1073.3 C443.6,1072.2 439.1,1068.2 444,1066.7 C448.9,1065.2 454.7,1064.0 460,1064 C465.3,1064.0 471.6,1064.7 476,1066.7 C480.4,1068.7 484.0,1072.2 486.7,1076 C489.4,1079.8 490.2,1085.3 492,1089.3 C493.8,1093.3 494.2,1097.8 497.3,1100 C500.4,1102.2 507.6,1100.5 510.7,1102.7 C513.8,1104.9 514.7,1109.8 516,1113.3 C517.3,1116.8 516.5,1120.9 518.7,1124 C520.9,1127.1 525.8,1129.3 529.3,1132 C532.8,1134.7 536.4,1137.3 540,1140 C543.6,1142.7 546.7,1145.3 550.7,1148 C554.7,1150.7 560.5,1152.9 564,1156 C567.5,1159.1 569.8,1163.2 572,1166.7 C574.2,1170.2 574.6,1174.6 577.3,1177.3 C580.0,1180.0 584.4,1182.7 588,1182.7 C591.6,1182.7 595.6,1180.0 598.7,1177.3 C601.8,1174.6 604.0,1168.9 606.7,1166.7 C609.4,1164.5 611.6,1163.6 614.7,1164 C617.8,1164.4 621.8,1167.1 625.3,1169.3 C628.8,1171.5 632.0,1176.4 636,1177.3 C640.0,1178.2 644.8,1176.5 649.3,1174.7 C653.8,1172.9 658.7,1169.4 662.7,1166.7 C666.7,1164.0 669.3,1160.5 673.3,1158.7 C677.3,1156.9 682.2,1155.6 686.7,1156 C691.2,1156.4 695.6,1160.0 700,1161.3 C704.4,1162.6 708.8,1164.0 713.3,1164 C717.8,1164.0 722.7,1163.1 726.7,1161.3 C730.7,1159.5 734.2,1156.8 737.3,1153.3 C740.4,1149.8 742.2,1144.0 745.3,1140 C748.4,1136.0 752.0,1132.0 756,1129.3 C760.0,1126.6 764.4,1125.3 769.3,1124 C774.2,1122.7 782.6,1094.2 785.3,1121.3 C788.0,1148.4 855.1,1259.1 785.3,1286.7 C715.5,1314.3 436.5,1322.3 366.7,1286.7 C296.9,1251.1 356.0,1108.9 366.7,1073.3 C377.4,1037.7 417.8,1074.4 430.7,1073.3Z" fill="#5ea7ee"/>
<path d="M489.3,1020 C490.2,1016.4 494.2,1014.6 497.3,1013.3 C500.4,1012.0 504.9,1011.1 508,1012 C511.1,1012.9 514.5,1015.6 516,1018.7 C517.5,1021.8 518.2,1027.2 517.3,1030.7 C516.4,1034.2 513.6,1038.2 510.7,1040 C507.8,1041.8 503.1,1042.2 500,1041.3 C496.9,1040.4 493.8,1038.2 492,1034.7 C490.2,1031.2 488.4,1023.6 489.3,1020Z" fill="#5ea7ee"/>
<path d="M616,846.7 C615.6,844.6 617.2,842.4 618.7,841.3 C620.2,840.2 623.5,839.3 625.3,840 C627.1,840.7 628.8,843.3 629.3,845.3 C629.8,847.3 629.3,850.5 628,852 C626.7,853.5 623.3,855.0 621.3,854.1 C619.3,853.2 616.4,848.8 616,846.7Z" fill="#5ea7ee"/>
<path d="M657.3,870.7 C657.5,868.8 659.5,865.8 661.3,864.8 C663.1,863.8 666.4,863.8 668,864.8 C669.6,865.8 670.9,868.8 670.7,870.7 C670.5,872.7 668.5,875.5 666.7,876.5 C664.9,877.5 661.6,877.5 660,876.5 C658.4,875.5 657.1,872.7 657.3,870.7Z" fill="#5ea7ee"/>
<path d="M634.7,864 C635.2,862.5 637.2,860.5 638.7,860 C640.2,859.5 642.9,860.2 644,861.3 C645.1,862.4 645.8,865.1 645.3,866.7 C644.8,868.3 642.8,870.3 641.3,870.7 C639.8,871.1 637.1,870.4 636,869.3 C634.9,868.2 634.2,865.5 634.7,864Z" fill="#5ea7ee"/>
<path d="M613.3,897.3 C613.1,894.9 615.3,891.9 617.3,890.7 C619.3,889.5 623.3,889.0 625.3,889.9 C627.3,890.8 629.1,893.6 629.3,896 C629.5,898.4 628.5,902.5 626.7,904 C624.9,905.5 620.9,906.4 618.7,905.3 C616.5,904.2 613.5,899.7 613.3,897.3Z" fill="#5ea7ee"/>
<path d="M712,918 C712.1,916.5 713.7,914.3 715,913.6 C716.3,912.9 718.8,912.9 720,913.6 C721.2,914.3 722.1,916.5 722,918 C721.9,919.5 720.9,921.7 719.6,922.4 C718.3,923.1 715.7,923.1 714.4,922.4 C713.1,921.7 711.9,919.5 712,918Z" fill="#5ea7ee"/>
<path d="M760,1000 C761.2,997.0 763.7,995.0 765,996 C766.3,997.0 767.7,1002.0 768,1006 C768.3,1010.0 767.7,1016.0 767,1020 C766.3,1024.0 765.3,1028.7 764,1030 C762.7,1031.3 760.0,1030.7 759,1028 C758.0,1025.3 757.8,1018.7 758,1014 C758.2,1009.3 758.8,1003.0 760,1000Z" fill="#5ea7ee"/>
<path d="M828,1038 C828.1,1036.8 828.9,1035.0 830,1034.4 C831.1,1033.8 833.4,1033.8 834.4,1034.4 C835.4,1035.0 836.1,1036.8 836,1038 C835.9,1039.2 835.1,1041.0 834,1041.6 C832.9,1042.2 830.6,1042.2 829.6,1041.6 C828.6,1041.0 827.9,1039.2 828,1038Z" fill="#5ea7ee"/>
<path d="M765.3,1126.7 C768.0,1122.9 768.0,1119.5 770.7,1117.3 C773.4,1115.1 777.8,1114.0 781.3,1113.3 C784.8,1112.6 788.4,1112.8 792,1113.3 C795.6,1113.8 799.2,1114.2 802.7,1116 C806.2,1117.8 810.2,1121.3 813.3,1124 C816.4,1126.7 819.1,1129.3 821.3,1132 C823.5,1134.7 827.1,1136.5 826.7,1140 C826.3,1143.5 825.4,1144.4 818.7,1153.3 C812.0,1162.2 795.2,1177.7 786.7,1193.3 C778.2,1208.9 773.3,1237.8 768,1246.7 C762.7,1255.6 756.9,1264.5 754.7,1246.7 C752.5,1228.9 752.9,1160.0 754.7,1140 C756.5,1120.0 762.6,1130.5 765.3,1126.7Z" fill="#5ea7ee"/>
<path d="M425.3,1092 C437.7,1091.1 436.0,1087.2 441.3,1086.7 C446.6,1086.2 452.4,1087.5 457.3,1089.3 C462.2,1091.1 466.7,1094.2 470.7,1097.3 C474.7,1100.4 477.8,1105.3 481.3,1108 C484.9,1110.7 488.0,1112.0 492,1113.3 C496.0,1114.6 501.3,1114.2 505.3,1116 C509.3,1117.8 512.9,1121.3 516,1124 C519.1,1126.7 521.8,1129.3 524,1132 C526.2,1134.7 526.6,1137.3 529.3,1140 C532.0,1142.7 536.4,1145.3 540,1148 C543.6,1150.7 547.2,1152.9 550.7,1156 C554.2,1159.1 558.2,1162.7 561.3,1166.7 C564.4,1170.7 567.1,1175.6 569.3,1180 C571.5,1184.4 573.4,1188.8 574.7,1193.3 C576.0,1197.8 576.4,1200.0 577.3,1206.7 C578.2,1213.4 615.1,1220.0 580,1233.3 C544.9,1246.6 402.2,1310.2 366.7,1286.7 C331.1,1263.2 356.9,1124.5 366.7,1092 C376.5,1059.5 412.9,1092.9 425.3,1092Z" fill="#7199f1"/>
<path d="M692,1169.3 C695.5,1168.8 701.3,1176.4 705.3,1177.3 C709.3,1178.2 712.4,1176.5 716,1174.7 C719.6,1172.9 723.6,1169.8 726.7,1166.7 C729.8,1163.6 732.5,1159.6 734.7,1156 C736.9,1152.4 737.8,1148.8 740,1145.3 C742.2,1141.8 744.5,1137.4 748,1134.7 C751.5,1132.0 755.1,1130.6 761.3,1129.3 C767.5,1128.0 781.3,1100.5 785.3,1126.7 C789.3,1152.9 802.2,1260.0 785.3,1286.7 C768.4,1313.4 700.4,1293.4 684,1286.7 C667.6,1280.0 684.9,1255.6 686.7,1246.7 C688.5,1237.8 692.5,1237.8 694.7,1233.3 C696.9,1228.8 700.0,1224.4 700,1220 C700.0,1215.6 696.9,1211.2 694.7,1206.7 C692.5,1202.2 688.5,1197.8 686.7,1193.3 C684.9,1188.8 683.1,1184.0 684,1180 C684.9,1176.0 688.5,1169.8 692,1169.3Z" fill="#7199f1"/>
<path d="M596,1204 C595.1,1201.8 596.9,1196.0 598.7,1193.3 C600.5,1190.6 604.0,1188.4 606.7,1188 C609.4,1187.6 613.8,1188.5 614.7,1190.7 C615.6,1192.9 613.8,1198.6 612,1201.3 C610.2,1204.0 606.7,1206.2 604,1206.7 C601.3,1207.2 596.9,1206.2 596,1204Z" fill="#7199f1"/>
<path d="M765.3,1129.3 C768.4,1126.2 769.7,1123.1 773.3,1121.3 C776.9,1119.5 782.7,1118.7 786.7,1118.7 C790.7,1118.7 793.8,1119.5 797.3,1121.3 C800.8,1123.1 804.9,1126.2 808,1129.3 C811.1,1132.4 815.5,1136.0 816,1140 C816.5,1144.0 815.6,1144.4 810.7,1153.3 C805.8,1162.2 793.8,1177.7 786.7,1193.3 C779.6,1208.9 773.3,1237.8 768,1246.7 C762.7,1255.6 756.9,1264.5 754.7,1246.7 C752.5,1228.9 752.9,1159.6 754.7,1140 C756.5,1120.4 762.2,1132.4 765.3,1129.3Z" fill="#7199f1"/>
<path d="M417.3,1132 C428.4,1132.5 428.0,1134.7 433.3,1134.7 C438.6,1134.7 444.0,1132.9 449.3,1132 C454.6,1131.1 460.0,1128.8 465.3,1129.3 C470.6,1129.8 476.4,1132.9 481.3,1134.7 C486.2,1136.5 490.7,1137.8 494.7,1140 C498.7,1142.2 502.2,1145.3 505.3,1148 C508.4,1150.7 511.1,1152.9 513.3,1156 C515.5,1159.1 518.2,1163.2 518.7,1166.7 C519.2,1170.2 517.3,1173.8 516,1177.3 C514.7,1180.8 510.2,1184.4 510.7,1188 C511.1,1191.6 515.6,1197.8 518.7,1198.7 C521.8,1199.6 526.2,1196.0 529.3,1193.3 C532.4,1190.6 534.6,1185.4 537.3,1182.7 C540.0,1180.0 542.2,1177.8 545.3,1177.3 C548.4,1176.8 552.4,1178.2 556,1180 C559.6,1181.8 564.0,1184.9 566.7,1188 C569.4,1191.1 570.2,1194.2 572,1198.7 C573.8,1203.2 576.0,1208.9 577.3,1214.7 C578.6,1220.5 615.1,1221.3 580,1233.3 C544.9,1245.3 402.2,1303.6 366.7,1286.7 C331.1,1269.8 358.3,1157.8 366.7,1132 C375.1,1106.2 406.2,1131.5 417.3,1132Z" fill="#9b98f6"/>
<path d="M597.3,1202.7 C596.5,1200.6 598.4,1195.5 600,1193.3 C601.6,1191.1 604.5,1189.5 606.7,1189.3 C608.9,1189.1 612.5,1190.1 613.3,1192 C614.1,1193.9 613.0,1198.5 611.5,1200.8 C610.0,1203.1 606.9,1205.8 604.5,1206.1 C602.1,1206.4 598.0,1204.8 597.3,1202.7Z" fill="#9b98f6"/>
<path d="M729.3,1156 C728.0,1151.5 730.8,1144.2 733.3,1140 C735.8,1135.8 740.2,1132.7 744,1130.7 C747.8,1128.7 752.5,1127.8 756,1128 C759.5,1128.2 763.3,1129.5 765.3,1132 C767.3,1134.5 768.2,1139.2 768,1142.7 C767.8,1146.2 764.0,1150.2 764,1153.3 C764.0,1156.4 766.0,1159.1 768,1161.3 C770.0,1163.5 773.8,1165.4 776,1166.7 C778.2,1168.0 782.2,1166.6 781.3,1169.3 C780.4,1172.0 772.9,1177.8 770.7,1182.7 C768.5,1187.6 768.5,1183.6 768,1198.7 C767.5,1213.8 778.2,1260.9 768,1273.3 C757.8,1285.7 718.7,1277.7 706.7,1273.3 C694.7,1268.9 696.0,1255.6 696,1246.7 C696.0,1237.8 702.7,1227.6 706.7,1220 C710.7,1212.4 715.6,1207.5 720,1201.3 C724.4,1195.1 729.8,1188.5 733.3,1182.7 C736.8,1176.9 742.0,1171.2 741.3,1166.7 C740.6,1162.2 730.6,1160.5 729.3,1156Z" fill="#9b98f6"/>
<path d="M436,1182.7 C436.2,1178.9 439.1,1170.7 442.7,1166.7 C446.2,1162.7 452.2,1160.9 457.3,1158.7 C462.4,1156.5 468.4,1154.0 473.3,1153.3 C478.2,1152.6 482.5,1153.1 486.7,1154.7 C490.9,1156.3 495.6,1159.4 498.7,1162.7 C501.8,1166.0 504.2,1170.7 505.3,1174.7 C506.4,1178.7 506.6,1183.6 505.3,1186.7 C504.0,1189.8 500.9,1191.8 497.3,1193.3 C493.8,1194.8 488.9,1196.0 484,1196 C479.1,1196.0 473.3,1194.2 468,1193.3 C462.7,1192.4 456.4,1191.4 452,1190.7 C447.6,1190.0 444.0,1190.6 441.3,1189.3 C438.6,1188.0 435.8,1186.5 436,1182.7Z" fill="#c29bfb"/>
<path d="M540,1185.3 C540.9,1182.9 544.9,1179.6 548,1178.7 C551.1,1177.8 556.0,1178.5 558.7,1180 C561.4,1181.5 563.6,1185.3 564,1188 C564.4,1190.7 563.5,1194.2 561.3,1196 C559.1,1197.8 553.8,1199.2 550.7,1198.7 C547.6,1198.2 544.5,1195.5 542.7,1193.3 C540.9,1191.1 539.1,1187.7 540,1185.3Z" fill="#c29bfb"/>
<path d="M532,1209.3 C532.5,1206.9 538.7,1206.7 542.7,1206.7 C546.7,1206.7 552.5,1207.5 556,1209.3 C559.5,1211.1 564.5,1214.8 564,1217.3 C563.5,1219.8 557.3,1223.3 553.3,1224 C549.3,1224.7 543.5,1223.8 540,1221.3 C536.5,1218.8 531.5,1211.7 532,1209.3Z" fill="#c29bfb"/>
<path d="M422.7,1153.3 C422.9,1152.3 424.3,1150.7 425.3,1150.7 C426.3,1150.7 428.1,1152.3 428.5,1153.3 C428.9,1154.3 428.2,1156.0 427.5,1156.5 C426.8,1157.0 424.8,1157.0 424,1156.5 C423.2,1156.0 422.5,1154.3 422.7,1153.3Z" fill="#c29bfb"/>
<path d="M741.3,1150.7 C742.2,1147.2 746.2,1142.2 749.3,1140 C752.4,1137.8 757.3,1136.4 760,1137.3 C762.7,1138.2 765.3,1142.2 765.3,1145.3 C765.3,1148.4 760.0,1152.4 760,1156 C760.0,1159.6 763.1,1164.0 765.3,1166.7 C767.5,1169.4 772.8,1168.0 773.3,1172 C773.8,1176.0 769.1,1173.8 768,1190.7 C766.9,1207.6 776.0,1259.5 766.7,1273.3 C757.4,1287.1 720.7,1279.5 712,1273.3 C703.3,1267.1 712.0,1245.8 714.7,1236 C717.4,1226.2 723.6,1221.8 728,1214.7 C732.4,1207.6 737.8,1200.0 741.3,1193.3 C744.8,1186.6 748.8,1180.0 749.3,1174.7 C749.8,1169.4 745.3,1165.3 744,1161.3 C742.7,1157.3 740.4,1154.2 741.3,1150.7Z" fill="#c29bfb"/>
<path d="M446.7,1177.3 C447.1,1174.8 451.1,1171.3 454.7,1169.3 C458.2,1167.3 463.6,1165.7 468,1165.3 C472.4,1164.9 477.3,1165.6 481.3,1166.7 C485.3,1167.8 489.3,1169.8 492,1172 C494.7,1174.2 497.3,1177.3 497.3,1180 C497.3,1182.7 495.1,1186.5 492,1188 C488.9,1189.5 483.6,1189.5 478.7,1189.3 C473.8,1189.1 467.1,1187.6 462.7,1186.7 C458.2,1185.8 454.7,1185.6 452,1184 C449.3,1182.4 446.2,1179.8 446.7,1177.3Z" fill="#eb9afd"/>
<path d="M550.7,1186.7 C551.2,1185.5 553.4,1183.2 554.7,1183.2 C556.0,1183.2 558.4,1185.5 558.7,1186.7 C559.0,1188.0 557.6,1190.0 556.5,1190.7 C555.4,1191.4 553.0,1191.4 552,1190.7 C551.0,1190.0 550.2,1188.0 550.7,1186.7Z" fill="#eb9afd"/>
<path d="M746.7,1182.7 C750.7,1177.4 753.3,1173.3 757.3,1172 C761.3,1170.7 768.9,1171.2 770.7,1174.7 C772.5,1178.2 768.7,1176.9 768,1193.3 C767.3,1209.7 777.4,1260.0 766.7,1273.3 C756.0,1286.6 714.0,1280.8 704,1273.3 C694.0,1265.8 704.0,1237.3 706.7,1228 C709.4,1218.7 715.6,1221.3 720,1217.3 C724.4,1213.3 728.8,1209.8 733.3,1204 C737.8,1198.2 742.7,1188.0 746.7,1182.7Z" fill="#eb9afd"/>
<path d="M708,1233.3 C710.0,1230.2 716.4,1227.1 721.3,1225.3 C726.2,1223.5 732.4,1222.2 737.3,1222.7 C742.2,1223.2 748.0,1224.9 750.7,1228 C753.4,1231.1 754.2,1237.3 753.3,1241.3 C752.4,1245.3 749.3,1249.3 745.3,1252 C741.3,1254.7 734.2,1257.3 729.3,1257.3 C724.4,1257.3 719.3,1254.2 716,1252 C712.7,1249.8 710.6,1247.1 709.3,1244 C708.0,1240.9 706.0,1236.4 708,1233.3Z" fill="#f0aef8"/>
</g>
<defs><clipPath id="co"><path d="M1249.1,1191.7 L1254,1190.7 L1258.9,1191.7 L1261,1196.6 L1261.7,1203.6 L1262.4,1210.6 L1261,1216.2 L1259.6,1223.2 L1261,1228.8 L1263.8,1234.4 L1265.9,1241.4 L1266.6,1249.8 L1266.6,1258.2 L1267.3,1268 L1267.3,1277.8 L1266.6,1284.8 L1263.8,1290.4 L1259.6,1296 L1256.8,1301.6 L1255.4,1310 L1255.4,1318.4 L1254.7,1326.8 L1252.6,1333.8 L1248.4,1338 L1245.6,1342.2 L1244.2,1349.2 L1242.8,1354.8 L1245.6,1360.4 L1241.4,1359 L1238.6,1361.1 L1234.4,1357.6 L1230.2,1354.8 L1226,1350.6 L1220.4,1347.8 L1214.8,1345 L1210.6,1342.2 L1207.1,1339.4 L1208.5,1333.8 L1214.8,1331 L1217.6,1328.2 L1212,1326.8 L1206.4,1324 L1202.2,1321.9 L1197.3,1321.9 L1200.1,1318.4 L1205,1315.6 L1204.3,1311.4 L1206.4,1305.8 L1202.2,1303 L1196.6,1303 L1193.1,1301.6 L1193.8,1297.4 L1198,1295.3 L1200.1,1291.8 L1203.6,1289 L1201.5,1284.8 L1195.2,1283.4 L1191,1279.2 L1192.4,1273.6 L1188.9,1270.8 L1193.8,1268 L1198,1266.6 L1195.9,1262.4 L1192.4,1261 L1188.2,1257.5 L1192.4,1255.4 L1195.9,1249.8 L1198,1244.2 L1200.8,1240 L1200.1,1235.8 L1205,1235.8 L1210.6,1233 L1214.8,1230.2 L1220.4,1228.8 L1226,1226 L1230.2,1221.8 L1235.8,1219.7 L1241.4,1220.4 L1245.6,1223.2 L1249.8,1220.4 L1250.5,1213.4 L1248.4,1207.8 L1249.8,1202.2 L1250.5,1196.6Z"/></clipPath></defs>
<g clip-path="url(#co)">
<path d="M1184,1184 C1199.2,1153.7 1259.8,1153.7 1275,1184 C1290.2,1214.3 1290.2,1335.7 1275,1366 C1259.8,1396.3 1199.2,1396.3 1184,1366 C1168.8,1335.7 1168.8,1214.3 1184,1184Z" fill="#7199f1"/>
<path d="M1191,1223.2 C1199.6,1219.5 1227.2,1217.6 1235.8,1217.6 C1244.4,1217.6 1242.1,1220.6 1242.8,1223.2 C1243.5,1225.8 1241.2,1229.7 1240,1233 C1238.8,1236.3 1237.0,1239.3 1235.8,1242.8 C1234.6,1246.3 1234.6,1251.2 1233,1254 C1231.4,1256.8 1228.1,1257.3 1226,1259.6 C1223.9,1261.9 1220.9,1264.7 1220.4,1268 C1219.9,1271.3 1221.8,1275.5 1223.2,1279.2 C1224.6,1282.9 1227.6,1286.4 1228.8,1290.4 C1230.0,1294.4 1230.2,1298.6 1230.2,1303 C1230.2,1307.4 1230.0,1312.8 1228.8,1317 C1227.6,1321.2 1226.0,1325.2 1223.2,1328.2 C1220.4,1331.2 1216.2,1335.4 1212,1335.2 C1207.8,1335.0 1201.5,1331.0 1198,1326.8 C1194.5,1322.6 1193.3,1317.5 1191,1310 C1188.7,1302.5 1185.2,1293.7 1184,1282 C1182.8,1270.3 1182.8,1249.8 1184,1240 C1185.2,1230.2 1182.4,1226.9 1191,1223.2Z" fill="#5ea7ee"/>
<path d="M1191,1226 C1198.9,1222.5 1223.7,1219.2 1231.6,1219 C1239.5,1218.8 1237.9,1222.3 1238.6,1224.6 C1239.3,1226.9 1237.0,1230.0 1235.8,1233 C1234.6,1236.0 1233.0,1239.8 1231.6,1242.8 C1230.2,1245.8 1229.3,1248.9 1227.4,1251.2 C1225.5,1253.5 1222.3,1254.2 1220.4,1256.8 C1218.5,1259.4 1216.4,1262.9 1216.2,1266.6 C1216.0,1270.3 1217.6,1275.2 1219,1279.2 C1220.4,1283.2 1223.4,1286.4 1224.6,1290.4 C1225.8,1294.4 1226.2,1298.8 1226,1303 C1225.8,1307.2 1224.6,1312.1 1223.2,1315.6 C1221.8,1319.1 1219.9,1322.4 1217.6,1324 C1215.3,1325.6 1212.5,1325.9 1209.2,1325.4 C1205.9,1324.9 1201.0,1324.9 1198,1321.2 C1195.0,1317.5 1193.3,1309.5 1191,1303 C1188.7,1296.5 1185.2,1292.5 1184,1282 C1182.8,1271.5 1182.8,1249.3 1184,1240 C1185.2,1230.7 1183.1,1229.5 1191,1226Z" fill="#7db9e2"/>
<path d="M1191,1228.8 C1198.0,1225.8 1219.0,1222.3 1226,1221.8 C1233.0,1221.3 1232.3,1223.9 1233,1226 C1233.7,1228.1 1231.4,1231.6 1230.2,1234.4 C1229.0,1237.2 1227.6,1240.0 1226,1242.8 C1224.4,1245.6 1222.3,1248.9 1220.4,1251.2 C1218.5,1253.5 1216.2,1254.5 1214.8,1256.8 C1213.4,1259.1 1212.0,1261.7 1212,1265.2 C1212.0,1268.7 1213.6,1273.8 1214.8,1277.8 C1216.0,1281.8 1218.1,1285.3 1219,1289 C1219.9,1292.7 1220.6,1296.7 1220.4,1300.2 C1220.2,1303.7 1219.0,1307.2 1217.6,1310 C1216.2,1312.8 1214.1,1315.6 1212,1317 C1209.9,1318.4 1207.3,1319.1 1205,1318.4 C1202.7,1317.7 1200.3,1315.4 1198,1312.8 C1195.7,1310.2 1193.3,1308.1 1191,1303 C1188.7,1297.9 1185.2,1292.5 1184,1282 C1182.8,1271.5 1182.8,1248.9 1184,1240 C1185.2,1231.1 1184.0,1231.8 1191,1228.8Z" fill="#94d1d4"/>
<path d="M1191,1231.6 C1196.4,1229.7 1210.8,1228.8 1216.2,1228.8 C1221.6,1228.8 1222.5,1229.7 1223.2,1231.6 C1223.9,1233.5 1221.8,1237.2 1220.4,1240 C1219.0,1242.8 1216.7,1246.1 1214.8,1248.4 C1212.9,1250.7 1210.8,1252.1 1209.2,1254 C1207.6,1255.9 1204.8,1257.3 1205,1259.6 C1205.2,1261.9 1209.4,1264.7 1210.6,1268 C1211.8,1271.3 1211.3,1275.7 1212,1279.2 C1212.7,1282.7 1214.6,1285.7 1214.8,1289 C1215.0,1292.3 1214.3,1296.2 1213.4,1298.8 C1212.5,1301.4 1210.8,1303.0 1209.2,1304.4 C1207.6,1305.8 1205.5,1307.2 1203.6,1307.2 C1201.7,1307.2 1200.1,1306.3 1198,1304.4 C1195.9,1302.5 1193.3,1299.7 1191,1296 C1188.7,1292.3 1185.2,1291.3 1184,1282 C1182.8,1272.7 1182.8,1248.4 1184,1240 C1185.2,1231.6 1185.6,1233.5 1191,1231.6Z" fill="#b2e9cb"/>
<path d="M1201.5,1240.7 C1202.1,1239.5 1203.7,1238.2 1205,1237.9 C1206.3,1237.6 1208.5,1237.8 1209.2,1238.6 C1209.9,1239.4 1209.9,1241.6 1209.2,1242.8 C1208.5,1244.0 1206.3,1245.2 1205,1245.6 C1203.7,1245.9 1202.1,1245.7 1201.5,1244.9 C1200.9,1244.1 1200.9,1241.9 1201.5,1240.7Z" fill="#e9f9a0"/>
<path d="M1193.8,1273.6 C1194.5,1272.2 1197.3,1271.6 1199.4,1271.5 C1201.5,1271.4 1204.7,1271.9 1206.4,1272.9 C1208.2,1274.0 1209.7,1276.3 1209.9,1277.8 C1210.1,1279.3 1209.3,1281.3 1207.8,1282 C1206.3,1282.7 1202.9,1282.3 1200.8,1282 C1198.7,1281.7 1196.4,1281.3 1195.2,1279.9 C1194.0,1278.5 1193.1,1275.0 1193.8,1273.6Z" fill="#e9f9a0"/>
<path d="M1251.9,1191 C1253.1,1189.5 1258.2,1189.8 1259.6,1191 C1261.0,1192.2 1260.8,1196.2 1260.3,1198 C1259.8,1199.8 1258.1,1201.2 1256.8,1201.5 C1255.5,1201.8 1253.4,1201.8 1252.6,1200.1 C1251.8,1198.3 1250.7,1192.5 1251.9,1191Z" fill="#94d1d4"/>
<path d="M1253.3,1191 C1254.2,1190.1 1257.9,1190.2 1258.9,1191 C1259.9,1191.8 1259.8,1194.7 1259.3,1195.9 C1258.8,1197.1 1257.0,1197.9 1256.1,1198 C1255.1,1198.1 1254.1,1197.8 1253.6,1196.6 C1253.1,1195.4 1252.4,1191.9 1253.3,1191Z" fill="#b2e9cb"/>
<path d="M1261,1228.8 C1258.7,1229.5 1258.2,1233.9 1256.8,1237.2 C1255.4,1240.5 1254.0,1245.1 1252.6,1248.4 C1251.2,1251.7 1250.3,1254.0 1248.4,1256.8 C1246.5,1259.6 1244.0,1262.6 1241.4,1265.2 C1238.8,1267.8 1235.1,1270.1 1233,1272.2 C1230.9,1274.3 1228.8,1275.2 1228.8,1277.8 C1228.8,1280.4 1231.4,1284.8 1233,1287.6 C1234.6,1290.4 1237.2,1291.8 1238.6,1294.6 C1240.0,1297.4 1240.5,1301.6 1241.4,1304.4 C1242.3,1307.2 1243.5,1308.6 1244.2,1311.4 C1244.9,1314.2 1245.6,1317.7 1245.6,1321.2 C1245.6,1324.7 1243.7,1329.6 1244.2,1332.4 C1244.7,1335.2 1246.3,1337.5 1248.4,1338 C1250.5,1338.5 1254.9,1339.9 1256.8,1335.2 C1258.7,1330.5 1257.3,1317.7 1259.6,1310 C1261.9,1302.3 1268.9,1301.8 1270.8,1289 C1272.7,1276.2 1272.4,1243.0 1270.8,1233 C1269.2,1223.0 1263.3,1228.1 1261,1228.8Z" fill="#9b98f6"/>
<path d="M1261.7,1231.6 C1259.6,1232.8 1259.5,1237.0 1258.2,1240 C1256.9,1243.0 1255.4,1246.8 1254,1249.8 C1252.6,1252.8 1251.5,1255.4 1249.8,1258.2 C1248.0,1261.0 1245.8,1264.0 1243.5,1266.6 C1241.2,1269.2 1237.8,1271.6 1235.8,1273.6 C1233.8,1275.6 1231.7,1276.2 1231.6,1278.5 C1231.5,1280.8 1233.7,1285.0 1235.1,1287.6 C1236.5,1290.2 1238.7,1291.2 1240,1293.9 C1241.3,1296.6 1241.8,1300.9 1242.8,1303.7 C1243.8,1306.5 1245.4,1308.2 1246.3,1310.7 C1247.2,1313.2 1247.6,1315.7 1248.4,1318.4 C1249.2,1321.1 1250.0,1325.2 1251.2,1326.8 C1252.4,1328.4 1254.0,1331.0 1255.4,1328.2 C1256.8,1325.4 1257.0,1316.5 1259.6,1310 C1262.2,1303.5 1268.9,1301.8 1270.8,1289 C1272.7,1276.2 1272.3,1242.6 1270.8,1233 C1269.3,1223.4 1263.8,1230.4 1261.7,1231.6Z" fill="#c29bfb"/>
<path d="M1262.4,1234.4 C1260.5,1236.0 1260.8,1239.8 1259.6,1242.8 C1258.4,1245.8 1256.8,1249.8 1255.4,1252.6 C1254.0,1255.4 1252.8,1257.0 1251.2,1259.6 C1249.6,1262.2 1247.7,1265.5 1245.6,1268 C1243.5,1270.5 1240.6,1272.4 1238.6,1274.3 C1236.6,1276.2 1233.9,1277.1 1233.7,1279.2 C1233.5,1281.3 1235.9,1284.6 1237.2,1286.9 C1238.5,1289.2 1240.2,1290.5 1241.4,1293.2 C1242.6,1295.9 1243.0,1300.3 1244.2,1303 C1245.4,1305.7 1246.8,1308.5 1248.4,1309.3 C1250.0,1310.1 1252.1,1310.1 1254,1307.9 C1255.9,1305.7 1257.3,1299.6 1259.6,1296 C1261.9,1292.4 1266.1,1290.9 1268,1286.2 C1269.9,1281.5 1270.3,1276.9 1270.8,1268 C1271.3,1259.1 1272.2,1238.6 1270.8,1233 C1269.4,1227.4 1264.3,1232.8 1262.4,1234.4Z" fill="#eb9afd"/>
</g>
<g fill="none" stroke="#000" stroke-width="2.2" stroke-linejoin="round"><path d="M1249.1,1191.7 L1254,1190.7 L1258.9,1191.7 L1261,1196.6 L1261.7,1203.6 L1262.4,1210.6 L1261,1216.2 L1259.6,1223.2 L1261,1228.8 L1263.8,1234.4 L1265.9,1241.4 L1266.6,1249.8 L1266.6,1258.2 L1267.3,1268 L1267.3,1277.8 L1266.6,1284.8 L1263.8,1290.4 L1259.6,1296 L1256.8,1301.6 L1255.4,1310 L1255.4,1318.4 L1254.7,1326.8 L1252.6,1333.8 L1248.4,1338 L1245.6,1342.2 L1244.2,1349.2 L1242.8,1354.8 L1245.6,1360.4 L1241.4,1359 L1238.6,1361.1 L1234.4,1357.6 L1230.2,1354.8 L1226,1350.6 L1220.4,1347.8 L1214.8,1345 L1210.6,1342.2 L1207.1,1339.4 L1208.5,1333.8 L1214.8,1331 L1217.6,1328.2 L1212,1326.8 L1206.4,1324 L1202.2,1321.9 L1197.3,1321.9 L1200.1,1318.4 L1205,1315.6 L1204.3,1311.4 L1206.4,1305.8 L1202.2,1303 L1196.6,1303 L1193.1,1301.6 L1193.8,1297.4 L1198,1295.3 L1200.1,1291.8 L1203.6,1289 L1201.5,1284.8 L1195.2,1283.4 L1191,1279.2 L1192.4,1273.6 L1188.9,1270.8 L1193.8,1268 L1198,1266.6 L1195.9,1262.4 L1192.4,1261 L1188.2,1257.5 L1192.4,1255.4 L1195.9,1249.8 L1198,1244.2 L1200.8,1240 L1200.1,1235.8 L1205,1235.8 L1210.6,1233 L1214.8,1230.2 L1220.4,1228.8 L1226,1226 L1230.2,1221.8 L1235.8,1219.7 L1241.4,1220.4 L1245.6,1223.2 L1249.8,1220.4 L1250.5,1213.4 L1248.4,1207.8 L1249.8,1202.2 L1250.5,1196.6Z"/><path d="M1192.4,1257.5 L1199.4,1259.6 L1206.4,1261.7 L1212,1263.1 L1216.2,1266.6 L1221.8,1270.8 L1227.4,1275 L1230.2,1280.6 L1233.7,1286.2 L1235.8,1291.8 L1240,1294.6 L1240.7,1301.6 L1242.8,1307.2 L1245.6,1311.4 L1250.5,1311.4 L1255.4,1308.6"/></g>
<g fill="none" stroke="#120804" stroke-width="2.5" stroke-linejoin="round" stroke-linecap="round">
<path d="M255,566 L252,570 L253.3,573.9 L254.5,577.9 L255,582 L256.3,586.1 L258,590 L258.3,594.1 L257.3,598 L257,602 L259.2,605.9 L261,610 L261.3,614.1 L260.3,618 L260,622 L254,625 L250.4,628.1 L246,630 L247.4,633.3 L249.3,636.4 L250,640 L254,645 L258.1,645.4 L262,646.9 L266,648 L267.6,651.3 L270,654 L269.5,658.1 L268,662 L263,665 L264.9,668.3 L266,672 L268,678"/>
<path d="M260,622 L264.9,623.7 L270,625 L273.8,626.7 L278,627 L283,625.6 L288,624 L294,621 L298.1,622.9 L302,625 L305.7,627.2 L310,628 L314.3,629.4 L318,632 L321.4,633.5 L325,634 L328,639 L330.8,635.3 L334,632 L336.7,629.1 L340,627 L345,626 L350,630"/>
<path d="M378,570 L380,576 L381.6,579.9 L382,584 L383.3,587.9 L384,592 L382.1,595.8 L381,600 L381,604.1 L380,608 L375.9,609.9 L372,612 L368.9,614.9 L366,618 L363.1,620.2 L360,622 L357.9,625 L356,628 L350,630"/>
<path d="M350,630 L353.4,631.5 L356,634 L359,640 L357,646 L361.6,646.4 L366,648 L368.4,650.8 L370,654 L371.2,658.1 L373,662 L371.6,666 L370,670 L369.8,674 L369,678 L370.9,681.6 L373,685"/>
<path d="M373,685 L372.1,688.5 L371,692 L369.8,695.6 L368,699 L363.9,699.6 L360,701 L356.8,702.8 L354,705 L348,706 L342,706"/>
<path d="M373,685 L376.3,682.7 L380,681 L385,680.1 L390,679 L395,677.5 L400,676 L404.3,674.5 L408,672 L412.2,669.8 L416,667 L420,666.2 L424,666 L430,668"/>
<path d="M414,572.4 L413.3,576.2 L414,580 L416.5,583.7 L418,588 L424,590 L430,588"/>
<path d="M444,486 L446,492 L445,498 L450,502 L454,502.9 L458,504 L462,502 L460.6,505.9 L460,510 L462,513.8 L463,518 L461.5,523 L460,528 L457.5,531.5 L454,534 L449,537 L449.3,540.5 L450,544 L446,548 L452,551 L455.9,552.4 L460,553 L464,554.6 L468,556 L469,560.2 L471,564 L472.3,567.9 L473,572 L472.2,576 L472,580"/>
<path d="M468,556 L471.4,553.4 L474.7,550.8 L478,548 L482,547.3 L486.1,547.2 L490,546 L495.1,545.7 L500,544 L505,545.5 L510,547 L514,547.2 L518,547 L521,544.7 L524.8,543.9 L528,542 L531.4,540.2 L535,538.6 L538,536 L542.1,535.8 L545.9,534.3 L550,534 L554,534.3 L558,535 L563,532"/>
<path d="M554,478 L554.2,483 L555,488 L557.2,491.7 L558,496 L561,502 L560.6,506 L560,510 L561.5,514.9 L562,520 L562.9,524 L563.3,527.9 L563,532"/>
<path d="M563,532 L564.1,536.1 L566,540 L570.1,540.5 L574,542 L578.2,543.7 L582,546 L585.1,549.9 L588,554 L589.5,558.2 L592,562 L596,566 L594,572 L595.6,575.8 L596,580"/>
<path d="M554,477 L558,475.6 L562,474.4 L566,473 L572,472 L574.6,474.9 L578,477 L584,480 L588.1,480 L592,479 L594.7,481.9 L598,484 L601.3,487.8 L604,492 L606.6,494.9 L609,498 L612.4,495.3 L616,493 L620.3,491 L624,488 L630,486 L632.6,483.4 L634,480 L638,475 L643.1,475.5 L648,477 L653.1,478 L658,480 L662,480.1 L666,481"/>
<path d="M642,400 L644.4,403.8 L646,408 L649,412 L652,416 L654.9,418.1 L658,420 L660.8,423.8 L663,428 L664.7,431.8 L665.1,436 L666,440"/>
<path d="M666,440 L665.2,445 L664,450 L664.4,455 L665,460 L665.3,465.1 L667,470 L666.4,473.6 L666.3,477.3 L666,481"/>
<path d="M666,440 L669.9,442.2 L674,444 L678,444.9 L682.1,444.7 L686,446 L690,446.6 L694,446.4 L698,446 L701.9,447.5 L705.9,448.4 L710,449 L713.4,450.5 L716.7,452.2 L720,454 L723.6,455.1 L726.6,457.5 L730,459"/>
<path d="M666,481 L667.6,484.5 L668.6,488.2 L669,492 L668,498 L664,500 L663,506"/>
<path d="M664,500 L667.3,503.2 L670,507 L674,506.5 L678,506.8 L682,507 L686.9,505.3 L692,505 L697.2,505.8 L702,508 L706.1,508.2 L710.1,508.7 L714,510 L718.1,511.1 L722.2,512 L726,514 L730,516"/>
<path d="M663,506 L661,510.8 L660,516 L656.6,517.2 L653.5,519.2 L650,520 L645,523"/>
<path d="M645,523 L645.9,527.5 L646,532 L645.7,537 L645,542 L642.7,545.1 L640,548 L636.9,549.9 L633.1,550.2 L630,552 L626.4,552.6 L623.4,554.7 L620,556 L616.7,557.4 L613.6,559.2 L610,560 L605.2,562.1 L600,563 L596,566"/>
<path d="M645,523 L646.7,527.4 L648,532 L649.7,535.9 L650.2,540.2 L652,544 L653.8,547.8 L655.3,551.8 L656,556 L656.3,561.1 L658,566 L659.3,569.3 L661.2,572.5 L662,576 L664,580"/>
<path d="M645,523 L649.5,521.6 L654,520 L657.9,519 L662,519.4 L666,519 L669.1,521 L672.5,522.2 L676,523 L679.9,524.9 L684.1,526 L688,528 L692.1,529.8 L696,532 L698.4,534.7 L700,538"/>
<path d="M652,366 L655.9,367.4 L660,368 L665,368 L670,368 L673.8,370.4 L678,372 L682.1,373.8 L686,376 L689.3,378.7 L692,382 L698,385 L702,385.1 L706.1,385.1 L710,384 L714.9,385 L720,385 L724,389 L720.7,390.6 L718,393 L721,398 L725.7,396.4 L730,394"/>
<path d="M696,286 L696.6,291.1 L698,296 L699.7,299.9 L700.6,304 L702,308 L704.7,311.4 L707,315 L711.7,315.3 L716,317 L714.6,320.4 L712,323 L714.3,325.8 L716,329 L720.1,330.2 L724,332 L730,333"/>
<path d="M730,333 L734,333.8 L738,334 L741.8,333.1 L745,331 L751,333 L749.6,336.5 L748,340 L749.5,343.4 L752,346 L755.7,348.2 L760,349 L761.9,352.9 L765,356 L764.2,360 L763,364 L764.7,367.9 L766.1,371.9 L767,376 L770.3,378.7 L773,382 L774.4,385.4 L775,389 L770.4,390.3 L766,392 L764,396 L770,398 L772,404 L775,410"/>
<path d="M775,410 L771.6,407.8 L767.9,406.2 L764,405 L759,406 L754,407 L750.6,405.8 L747,405 L744.9,401.2 L742,398 L736,396 L730,394"/>
<path d="M775,410 L778.6,408.7 L782.4,408.9 L786,408 L790.1,408.3 L794,407.8 L798,407 L802.1,405.9 L806,404 L811,404 L816,404 L821.1,405 L826,407 L831,407.4 L836,407 L841,411 L845.6,411.8 L850,413 L854,414"/>
<path d="M775,410 L777,413 L774.6,416.3 L773,420 L771.3,424.9 L771,430 L770.2,435 L769,440 L770,446"/>
<path d="M770,446 L765,446.1 L760,446 L755.7,447.4 L752,450 L747,454 L742.4,454.7 L738,456 L734.2,458 L730,459"/>
<path d="M770,446 L771.5,450.9 L772,456 L771.5,461.1 L770,466 L770.9,471.2 L773,476 L771.2,479.2 L770.8,482.9 L769,486 L765.2,488.6 L762,492 L762.3,496.2 L764,500 L760,503 L766,506 L769,510 L771,515"/>
<path d="M771,515 L767.3,516.1 L763.7,517.9 L760,519 L755,518.4 L750,518 L745,518.6 L740,518 L734.9,517.7 L730,516"/>
<path d="M771,515 L772.9,518.9 L776,522 L777.8,526.1 L780,530 L782.6,532.7 L784.9,535.8 L788,538 L791.1,540.9 L794,544 L799,548"/>
<path d="M799,548 L801,544.2 L802,540 L805.4,536.3 L808,532 L810.2,528.7 L813,526 L811.2,522.1 L810,518 L811.2,513.9 L813,510 L818,506 L815.7,503.2 L814,500 L813.6,496 L813,492 L816.3,489.7 L820,488 L823.9,485.9 L828,484 L831.3,482 L835,481 L838.1,484 L842,486 L844,481"/>
<path d="M844,481 L843.1,477.4 L842.6,473.7 L842,470 L843.1,465 L844,460 L842,454 L846.4,451.5 L850,448 L852.4,443.9 L855,440 L856.6,435.1 L857,430 L857.5,425 L858,420 L856,417 L854,414"/>
<path d="M844,481 L849,482 L854,483 L858.4,485.4 L862,489 L866,491.4 L870,494 L874.1,494 L878,495 L882.2,495.3 L886,497 L890,501 L894.1,500.4 L898,499 L901.9,498 L906,498 L912,497"/>
<path d="M912,497 L914.6,494.6 L917.6,492.6 L920,490 L921.6,486 L923,482 L922.2,477 L922,472 L923.5,467 L925,462 L930,459 L935,460.6 L940,462 L944,457"/>
<path d="M912,497 L913.1,501.6 L915,506 L916.6,510.9 L917,516 L916.4,521 L916,526 L917.9,529.9 L919,534"/>
<path d="M953,470 L953.8,475 L954,480 L958.1,478.9 L962,477 L966,478 L970,479 L971.4,483.5 L973,488 L973.6,493.1 L975,498 L975.4,502.2 L977.1,506 L978,510 L978.8,515 L980,520 L979.5,525 L979,530 L977.6,534 L976.1,537.9 L975,542 L974.4,546 L973.6,550 L973,554 L974,558 L974.4,562.2 L976,566 L975.2,571 L975,576 L973,579.8 L972,584 L973,588"/>
<path d="M989,473 L987.8,477.4 L988,482 L989.7,485.9 L990.6,490 L992,494 L992,498.1 L992.8,502.1 L994,506 L992,510.3 L989,514 L990,520 L993.1,522.3 L995.4,525.3 L998,528 L1002.4,530.5 L1006,534 L1010.2,536.2 L1014,539 L1016.6,542.2 L1018,546 L1020.8,549.2 L1024,552 L1027.2,553.7 L1030.4,555.2 L1034,556 L1038.3,558.6 L1042,562 L1045.2,564.3 L1048.5,566.2 L1052,568 L1055.5,568.8 L1058.5,571.2 L1062,572 L1065.6,575.6 L1070,578 L1072.9,580 L1074.9,583.2 L1078,585"/>
<path d="M1120,523 L1118.1,526.7 L1116,530.3 L1114,534 L1110.5,533.3 L1107,533.5 L1103.5,534.5 L1100,534 L1095,532.6 L1090,531 L1086,529 L1082,527 L1079.3,523.6 L1077,520 L1075.9,524.2 L1074,528 L1072.2,531.2 L1069.7,533.8 L1068,537 L1071.1,538.8 L1073.3,541.7 L1076,544 L1079,550 L1083.5,548.9 L1088,548 L1091.1,550.5 L1093,554 L1093.8,558 L1094,562 L1091.8,565.9 L1090,570 L1089,574 L1088,578 L1085,580.9 L1080.9,582.1 L1078,585"/>
<path d="M1077,513 L1076.6,516.5 L1077,520"/>
<path d="M1078,585 L1073.8,585.8 L1070,588 L1066.3,590.5 L1062,592 L1058,596 L1053.9,595.3 L1050,594 L1045.8,593.7 L1042,592 L1038,596 L1034,595.6 L1030,596 L1026.1,597.3 L1022,598 L1016,595 L1010,598 L1006.2,600 L1002,601 L997,601.6 L992,602 L988,597 L984,596 L984.1,591.9 L983,588 L979.5,587.5 L976,588 L973,588 L968.6,590.3 L964,592 L960.2,594 L956,595 L950,598"/>
<path d="M930,580 L933.6,583.5 L938,586 L941.9,589.1 L946,592 L947.7,595.2 L950,598"/>
<path d="M950,598 L953.4,600.6 L956,604 L959.5,606.5 L962,610 L964.8,614.2 L968,618 L969.1,623 L970,628 L968.5,631.4 L966,634 L968.5,637.5 L972,640 L974.9,643.1 L978,646 L982.4,647.9 L987,649"/>
<path d="M987,649 L990.3,647.4 L994,647 L1000,644 L1006,646 L1010,651 L1014.1,651 L1018,650 L1024,652 L1030,655 L1033.8,652.9 L1038,652 L1042,654 L1044.6,657.4 L1048,660 L1051,663 L1054,666 L1058,667"/>
<path d="M1078,585 L1078.2,588.7 L1077.9,592.3 L1078,596 L1077.9,600.1 L1079,604 L1084,608 L1083,611.5 L1081.8,614.9 L1080,618 L1078.6,621.3 L1077.7,624.8 L1076,628 L1075.6,633.1 L1074,638 L1071.4,642.3 L1068,646 L1067.3,649.6 L1065.7,652.8 L1064,656 L1063.3,660.1 L1062,664 L1058,667"/>
<path d="M1084,608 L1088.1,609.7 L1092,612 L1095.8,615.3 L1100,618 L1103.7,620.8 L1107,624 L1109.5,627 L1112,630 L1116,630"/>
<path d="M1058,667 L1062.2,668.6 L1066,671 L1072,674 L1071.7,678 L1071,682 L1073.2,685.7 L1074,690 L1076.8,692.8 L1079,696 L1083,701"/>
<path d="M1058,667 L1056.1,670.5 L1053,673 L1052.7,677.5 L1053,682 L1054.2,685.5 L1055.6,689"/>
<path d="M987,649 L984.8,651.8 L982,654 L979,656 L976,658 L973.5,660.6 L972,664 L973.1,667.9 L973,672 L970.6,674.7 L969,678 L964.5,680.1 L960,682 L956,683.5 L952,685 L949,688"/>
<path d="M949,688 L945.4,688.5 L942,690 L936,690 L932.9,687.1 L930,684"/>
<path d="M949,688 L950.5,692 L952,696 L949.3,698.8 L947,702 L947.8,706.3 L950,710 L952.2,713.9 L954,718 L954.2,722.1 L955,726.1 L956,730"/>
<path d="M1055.6,689 L1052.7,691.3 L1050,694 L1046.1,696.1 L1042,698 L1038.1,700.2 L1034,702 L1028.9,701.7 L1024,700 L1020.2,702.5 L1016,704 L1012.4,707.5 L1008,710 L1003.9,711.2 L1000,713 L996.8,715 L993.6,716.8 L990,718 L986.9,719.9 L983.1,720.2 L980,722 L976.5,722.8 L973.2,724.4 L970,726 L965.1,727.3 L960,728 L956,730"/>
<path d="M430,580 L436,583 L442,585 L446.1,585.6 L450,587 L450,588 L450,592 L449.4,596 L449,600 L450.2,603.9 L450.4,608 L451,612 L451,616 L449.6,619.9 L450,624 L450.1,627.6 L451.4,631 L452.6,634.4 L453,638 L451.8,641.9 L452,646 L448.8,647.6 L445.4,648.9 L442,650 L441.7,655.1 L440,660 L439.2,664.5 L438,669"/>
<path d="M450,587 L455,586.5 L460,586 L464,587 L468,588 L470.8,590.2 L473,593 L476.5,591.5 L480,590 L483.8,588.3 L488,588 L493,587.1 L498,587 L501.9,585.4 L506,584.9 L510,584 L514,580"/>
<path d="M514,580 L518,584 L520.6,587.7 L522,592 L528,594"/>
<path d="M528,594 L534,595 L537.7,592.4 L542,591 L546.9,589.7 L552,589 L555.2,590.7 L558,593 L559.4,597.5 L561,602 L563.5,605 L566,608 L569.8,610.8 L574,613 L577.9,615.2 L582,617 L588,620 L590.4,622.9 L592.9,625.7 L596,628"/>
<path d="M528,594 L526.1,598.1 L524,602 L521.7,606.1 L519,610 L517.3,614.9 L517,620 L515.5,624.2 L513,628 L512.2,632 L512,636 L509.3,638.9 L507,642 L508.2,645.9 L508,650 L504.6,653.7 L502,658 L500,664 L502,670"/>
<path d="M438,669 L443.1,669.1 L448,668 L453,669.2 L458,670 L462,669.8 L466,669 L469.8,670.9 L474,672 L478.1,672 L482,673 L486,672 L490,671 L495,669.5 L500,668 L502,670"/>
<path d="M502,670 L504.6,673.4 L508,676 L511.9,677.4 L516,678 L517.6,681.3 L520,684 L524,685.1 L528,686 L532.8,688.1 L538,689 L541.9,690.3 L546,691 L550,691"/>
<path d="M550,691 L555,691.3 L560,691 L562,687 L565.9,685.1 L570,684 L573.6,680.4 L578,678"/>
<path d="M578,678 L579.5,674.7 L582,672 L584.9,668.9 L588,666 L589.5,661.7 L592,658 L593.8,654.9 L594.7,651.4 L596,648 L595.7,644 L595,640 L595.5,636 L595.9,632 L596,628"/>
<path d="M604,580 L605,584 L606,588 L605.7,593.1 L604,598 L599.7,600.6 L596,604 L593.2,606.8 L591,610 L592,615 L593,620 L594.5,624 L596,628"/>
<path d="M596,628 L599.9,629.7 L604,631 L610,630 L613.5,632.5 L616,636 L618.7,639.3 L622,642 L626.2,644.2 L630,647 L633.9,645.9 L638,646 L644,644 L650,641"/>
<path d="M650,641 L653.9,639.2 L658,638 L662.1,636.8 L666,635 L672,632 L675.8,629.6 L680,628 L682.3,624.2 L684,620 L684.7,615.5 L684,611"/>
<path d="M664,580 L666.7,582.7 L669.5,585.2 L672,588 L678,591 L680,595.5 L682,600 L682.4,603.7 L682.9,607.4 L684,611"/>
<path d="M678,591 L681,585 L682,580"/>
<path d="M684,611 L689,610.2 L694,609 L699.1,607.7 L704,606 L708.9,604.9 L714,605 L718,607 L719.8,610.5 L721,614.2 L722,618 L723.7,622.2 L726,626 L730,628"/>
<path d="M718,607 L718.7,602.4 L720,598 L722.6,595.1 L725,592 L723.8,588.1 L724,584 L726,580"/>
<path d="M650,641 L651.6,645.4 L652,650 L651.3,655.1 L650,660 L651.8,664.1 L654,668 L656.8,671.2 L660,674 L662.8,677.2 L666,680 L670,684 L673.2,682.4 L676.7,681.4 L680,680 L685,679.9 L690,680 L694,680.6 L698.1,680.8 L702,682 L704.6,685.2 L708,687.6"/>
<path d="M708,687.6 L712.1,688.4 L716,690 L719.7,692.2 L724,693 L730,695"/>
<path d="M708,687.6 L704.4,688.5 L701.6,691.2 L698,692 L696,696 L699.5,697.9 L703,700 L702,705 L702,710 L697.7,711.4 L694,714 L695.1,718 L696,722 L692.8,723.7 L689.5,725.1 L686,726 L681.7,727.4 L678,730 L675.6,733 L672.6,735.2 L670,738"/>
<path d="M578,678 L583.1,678.5 L588,680 L593,681 L598,682 L599.4,685.4 L602,688 L606.2,689.5 L610,692 L611.6,696.2 L614,700 L615.3,703.3 L616.1,706.9 L618,710 L618.2,715 L619,720 L622.8,722.7 L626,726 L628.6,729.4 L632,732 L634,736 L636,740"/>
<path d="M636,740 L638.5,736.5 L642,734 L645.7,731.3 L650,730 L655,729 L660,728 L664,729.9 L668,732 L670,738"/>
<path d="M670,738 L673.2,740.8 L676,744 L681.1,744.5 L686,746 L688.2,749.9 L690,754 L691.6,757.2 L692.2,760.9 L694,764 L693.7,769.1 L692,774 L693,777.5 L694.2,780.9 L696,784 L695.6,788.1 L694,792 L694.7,795.6 L696.4,798.8 L698,802 L698.4,807.1 L700,812 L701.3,816.4 L702,821"/>
<path d="M702,821 L704.9,818.4 L708,816 L710.9,813.9 L714,812 L718.2,811.7 L722,810 L726,810.1 L730,810"/>
<path d="M636,740 L635.2,745 L634,750 L630,752.1 L626,754 L622.1,755.3 L618,756 L616.6,760.3 L614,764 L613.6,768.1 L612,772 L610.5,775.9 L610,780 L608.3,783.7 L606,787"/>
<path d="M606,787 L600,784 L598.6,779.7 L596,776 L592.7,772.2 L590,768 L587.7,765.2 L586,762 L583,760 L580,758 L576,760 L570,763 L565,764 L560,764 L556,760 L554.8,756 L554,752 L551.4,749.4 L548,748 L545.3,745.5 L542,744 L538.8,742.2 L535.4,741.2 L532,740"/>
<path d="M550,691 L548.4,695.4 L548,700 L546.4,704.9 L546,710 L543.9,714 L542,718 L540.7,721.9 L540,726 L539.7,730.2 L538,734 L534.8,736.8 L532,740 L529.7,743 L527,745.8 L525,749"/>
<path d="M525,749 L521.6,747.8 L518,747 L514,746.8 L510,746 L505.1,747.7 L500,748 L494.8,748.9 L490,751 L486,756 L481.1,757.5 L476,758 L471.5,759 L467,760"/>
<path d="M467,760 L462.4,758.7 L458,757 L453.9,755.8 L450,754 L446,753.1 L442,753 L439.5,750 L436,748"/>
<path d="M438,669 L439,672.6 L439.1,676.4 L440,680 L441.8,683.9 L443,688 L442.4,691.5 L442,695 L447,693.3 L452,692 L454.4,694.7 L456,698 L458,702.9 L459,708 L457.9,711.7 L456,715 L451.9,715.1 L448,716.3 L444,717 L439.1,718.9 L434,720 L432,726 L434,730.3 L437,734 L437.3,738.2 L439,742 L436,748 L433,750.1 L430,752"/>
<path d="M525,749 L526.5,752.5 L527.4,756.2 L528,760 L529.9,763.1 L530.9,766.6 L532,770 L532.1,775.1 L531,780 L532.4,783.9 L533,788 L532.4,792.1 L530.9,796 L530,800 L530.8,803.5 L532.3,806.8 L534,810 L532.8,813.4 L531.5,816.7 L530,820 L531,824 L532,828 L535.1,830.9 L538,834 L541.1,835.8 L544,838 L543.6,842.2 L542,846 L544.3,849.9 L546,854 L543,858"/>
<path d="M467,760 L467.8,764.2 L470,768 L472.5,771 L474,774.7 L476,778 L477.2,781.4 L478.2,784.9 L480,788 L481.4,791.9 L482,796 L483.3,800.9 L484,806 L484.9,811 L485,816 L486.6,821 L488,826 L484,830 L478,833 L475,835"/>
<path d="M475,835 L470.5,833.6 L466,832 L462.2,830.3 L458,830 L453.8,831 L450,833 L444,834"/>
<path d="M475,835 L475.5,838.7 L477,842 L481,844.5 L484,848 L488.4,850.4 L492,854 L494.8,856.3 L498,858 L502.9,859.6 L508,860 L511,862 L514,864 L516.9,867.1 L520,870 L522.6,872.6 L524,876 L526,880"/>
<path d="M543,858 L538,862 L535.1,865.1 L532,868 L529.5,870.6 L528,874 L526,880"/>
<path d="M543,858 L546.4,859.5 L550,860 L553.9,861.5 L558,862 L562.2,861.2 L566,859 L570,854 L574,858 L578,857.6 L582,858 L585.9,856.4 L590,856 L595,854"/>
<path d="M595,854 L594,849.1 L594,844 L597,841 L600,838 L604.1,836.2 L608,834 L611.5,831.5 L614,828 L618.6,827.3 L623,826"/>
<path d="M606,787 L602,792 L601.8,796 L602,800 L604.7,803.3 L608,806 L612,808.9 L616,812 L617.9,815 L620,818 L622.1,821.8 L623,826"/>
<path d="M623,826 L627.5,825.9 L632,825 L638,828 L642,832 L643.7,828.8 L646,826 L650.3,824.6 L654,822 L659,822.2 L664,822 L670,819 L674,819 L678,819.1 L682,820 L687,820.1 L692,821 L697,821.2 L702,821"/>
<path d="M642,832 L641.2,836 L641,840 L643,843.8 L644,848 L647.5,851.6 L650,856 L651,861 L652,866 L649.9,868.9 L648,872 L650.2,875.9 L652,880"/>
<path d="M595,854 L595.9,859 L596,864 L594.9,868 L594,872 L597.4,873.4 L600,876 L598,880"/>
<path d="M730,628 L734,628.2 L738,629 L741,627 L744,625 L750,628 L753.8,627.7 L757.4,626.2 L761,625"/>
<path d="M761,625 L763,629.8 L766,634 L769,638 L772,642 L771.4,646.1 L770,650 L767.3,653.3 L764,656 L762.3,660.9 L762,666 L758.5,667.7 L755.5,670.2 L752,672 L754,675.1 L754.7,678.7 L756,682 L757.2,687.1 L759,692 L755,696"/>
<path d="M730,695 L734.1,696.9 L738,699 L742,699.1 L746,700 L750.6,698.2 L755,696"/>
<path d="M755,696 L759.6,696.1 L764,695 L767.9,693.6 L772,693 L775.4,695 L778,698 L783.1,699.3 L788,701 L793,699.4 L798,698 L804,700 L806.8,703.2 L810,706 L814.2,708.1 L818,711 L823,710.9 L828,710 L830.8,712.3 L834,714 L838,716 L842,718 L848,720"/>
<path d="M761,625 L762.6,620.3 L765,616 L766.2,611.1 L766,606 L769.9,603.7 L774,602 L779.1,601.5 L784,600 L788.5,599.1 L793,599"/>
<path d="M793,599 L793.1,595.4 L794,592 L795.4,588.1 L796,584 L798,580"/>
<path d="M793,599 L796.7,602.3 L800,606 L802.5,610.4 L806,614 L809,618 L812,622 L815.3,623.6 L818,626 L821.3,629.8 L824,634 L825.4,637.3 L826.4,640.8 L828,644 L830.5,647.5 L834,650 L839,649.5 L844,650 L849,649.3 L854,649 L860,651"/>
<path d="M860,651 L861.4,655.4 L862,660 L861.8,665.1 L863,670 L861,674.3 L858,678 L856.6,682.3 L854,686 L853.3,689.6 L851.5,692.7 L850,696 L847.9,700.8 L847,706 L846.7,709.5 L847.2,713 L847,716.6 L848,720"/>
<path d="M860,651 L865.2,650.1 L870,648 L873.2,646.4 L876.5,644.9 L880,644 L884.2,643.6 L888,642 L893,638"/>
<path d="M893,638 L896,632 L899.2,630.3 L902,628 L902.3,622.9 L904,618 L905.2,613 L906,608 L903.8,604.1 L902,600 L898.9,597.1 L896,594 L893.8,590.1 L892,586 L890,580"/>
<path d="M893,638 L896.8,640.6 L900,644 L903.6,647.6 L906,652 L908.3,654.8 L910,658 L911.2,661.9 L912,666 L912.3,670.2 L914,674 L917.4,676.6 L920,680 L923.1,682 L926.8,682.3 L930,684"/>
<path d="M949,688 L950.7,691.9 L952,696 L949.1,698.7 L947,702 L948,706.2 L950,710 L952.1,714 L954,718 L955.7,721.8 L956,726 L958,729"/>
<path d="M958,729 L961.5,729 L965,728.8 L968.5,729.6 L972,729 L974.4,733.3 L976,738 L979,744 L977.9,747.4 L975.8,750.4 L975,754 L978.8,755.4 L982,758 L986.1,759.9 L990,762 L991.6,765.3 L994,768 L995.7,771.2 L998,774 L1002.4,776.4 L1006,780"/>
<path d="M958,729 L957.7,732.7 L956,736 L953.4,738.5 L950,740 L952,746 L948.7,747.5 L946,750 L942.2,753.3 L938,756 L936,760 L937.7,764.2 L940,768 L943.1,769.9 L946.8,770.4 L950,772 L952,776 L948.2,778.3 L944,780 L942,782 L943.4,786.3 L946,790 L946.8,795 L948,800 L946.3,803.2 L944,806 L944.7,810.1 L946,814 L944.2,817.2 L942,820 L944.3,823.8 L946,828 L949.6,831.6 L952,836 L956,840"/>
<path d="M936,760 L932.8,761.7 L930,764 L925,763.4 L920,764 L915,762.8 L910,762 L905.8,762.9 L902,765 L898.3,767.2 L894,768 L890.8,766.3 L888,764 L885,761 L882,758 L878.4,754.5 L874,752 L871.4,749.4 L868,748 L863.9,746.2 L860,744 L856.8,742.3 L854,740"/>
<path d="M848,720 L849.1,725 L850,730 L851.3,733.3 L852.1,736.9 L854,740 L850.2,742.4 L846,744 L844.6,747.9 L844,752 L842.2,755.9 L841,760 L842,764.2 L844,768 L844.6,772.1 L846,776 L842.9,778.9 L840,782 L836.8,783.6 L833.4,784.9 L830,786 L826.1,788.2 L822,790 L818.2,787.6 L814,786 L810,786"/>
<path d="M810,786 L806.3,788.6 L802,790 L799.3,792.4 L796,794 L792.2,791.7 L788,790 L783.1,791.4 L778,792 L773.7,790.6 L770,788 L767,784"/>
<path d="M755,696 L754.7,701.1 L753,706 L753.3,710 L753.9,714 L754,718 L755.4,721.7 L757.5,725 L760,728 L760.3,732.2 L762.3,735.9 L763,740 L765.1,744.8 L766,750 L767.1,754.9 L767,760 L767.5,765 L768,770 L766.7,774.9 L766,780 L767,784"/>
<path d="M767,784 L763.3,782.7 L759.5,781.7 L756,780 L752.6,782.1 L748.9,783.8 L745.4,785.8 L742,788 L738.8,790 L735.7,792.1 L732.9,794.6 L730,797"/>
<path d="M810,786 L812.5,789.7 L814,794 L815.5,798.2 L818,802 L819.3,805.9 L820,810 L824,812.1 L828,814 L832.1,815.8 L836,818 L837.2,822.1 L839,826 L838.9,830.1 L838,834 L836.3,837.2 L834,840 L834,846"/>
<path d="M834,846 L838.1,846.6 L842,848 L847.1,848 L852,849 L855.9,850.1 L860,850 L864,849.1 L868,848 L868.7,843.9 L870,840 L873.9,838.4 L878,837 L882.9,838.2 L888,838 L892,838.3 L896,838.3 L900,839"/>
<path d="M900,839 L901,834.6 L901,830 L902.7,825.1 L904,820 L907.5,817.3 L910,813.6 L913.9,812.2 L918,812 L922,813 L925.9,814.5 L930,815 L933,817.8 L936.3,820.2 L940,822 L943.6,825.6 L946,830 L948.7,832.3 L951.4,834.6 L953.8,837.2 L956,840"/>
<path d="M868,848 L865.4,851.7 L863.9,855.9 L862,860 L859.4,863.7 L858,868 L859.5,871.9 L860.1,876.2 L862,880"/>
<path d="M900,839 L899.4,842.7 L899,846.4 L898,850 L898.6,855.1 L900,860 L898.3,864.9 L898,870 L897.6,875.1 L896,880"/>
<path d="M799,548 L796.9,551.9 L795,556 L797.3,560.1 L800,564 L800,570"/>
<path d="M800,570 L803,572.4 L805.5,575.2 L808,578 L811.5,578.8 L814.8,580.3 L818,582 L821.2,580.3 L824.7,579.5 L828,578 L831.2,575.2 L834,572 L837.7,568.6 L842,566 L846.8,563.8 L852,563 L856,563.2 L860,564 L862.8,568.2 L866,572 L869.3,574.7 L872,578 L877.1,579.2 L882,581 L887.1,581.6 L892,583"/>
<path d="M800,570 L798.3,573.2 L797.3,576.6 L796,580 L795.6,585.1 L794,590 L794.6,595 L794,600"/>
<path d="M892,583 L894.9,580.4 L898,578 L899.1,574 L900,570 L903.1,568.2 L906,566 L910.9,564.9 L916,565"/>
<path d="M919,534 L915.8,536.4 L912,538 L910.7,542.9 L910,548 L912.1,551.9 L914,556 L915.3,560.4 L916,565 L918.3,568.9 L920,573 L922.9,575.9 L926.8,577.4 L930,580"/>
<path d="M727,562 L726.6,566 L726.5,570 L726,574 L725.6,579 L725,584 L723.8,587.9 L722.9,591.9 L723,596 L721.5,599.4 L720.1,602.9 L718,606"/>
<path d="M378,755 L382,760 L384.8,762.3 L388,764 L392.2,766.1 L396,769 L400.3,769.8 L404,772 L408.1,772.1 L412,771 L412.9,767.5 L414,764 L414,759.9 L413,756 L418,754 L419.1,758 L420,762 L426,760 L428,754 L431.3,752.5 L434,750 L438,747"/>
<path d="M474,835 L470,833.6 L466,832 L461.9,831.5 L458,830 L454.3,832.2 L450,833 L447.9,836.5 L446,840"/>
<path d="M526,880 L520,882 L520.8,886.1 L522,890 L517.9,890.4 L514,892 L509.1,893.6 L504,894 L500.9,895.8 L498,898 L499.2,902 L500,906 L502,912 L505,916 L508,920 L509.5,923.9 L510,928 L511.3,931.9 L512,936 L510,942 L514,944 L518,946 L521.6,949.5 L526,952 L529.4,954 L532,957"/>
<path d="M452,914 L454.7,917.3 L457,921 L460,924 L462.1,927.8 L465.7,930.4 L468,934 L471.4,937.7 L474,942 L478.9,943.7 L484,944 L486.6,946.6 L490,948 L495,949 L500,950 L502,956 L505.1,958.2 L506.9,961.8 L510,964 L513.4,965.2 L516.4,967.2 L520,968 L524,969.2 L528,970 L530,964 L531.5,960.6 L532,957"/>
<path d="M528,970 L531.6,970.5 L535,972 L535.1,976.1 L536,980"/>
<path d="M532,957 L535.9,955.1 L540,954 L543.9,950.9 L548,948 L550.5,944.2 L552,940 L554.4,937.3 L556,934 L557.6,930.7 L560,928 L561.6,923.8 L564,920 L566.9,916.9 L570,914 L573,911 L576,908 L577.9,904.9 L580,902"/>
<path d="M435.6,1034 L439.7,1032.4 L444,1032 L450,1029 L455,1033 L456,1039 L460,1039.1 L464,1040 L468.1,1039.3 L472,1038 L476.1,1038.1 L480,1037 L484,1042 L487,1044 L489,1047 L492.4,1049.6 L496,1052 L498.8,1054.8 L502,1057 L504,1062 L508.2,1062.3 L512,1064 L515.3,1062.4 L518,1060"/>
<path d="M518,1060 L520.6,1056.6 L524,1054 L526,1048 L529.1,1045.1 L532,1042 L531.1,1038 L530,1034 L532.2,1030.1 L534,1026 L536.8,1022.8 L540,1020 L540.9,1016 L542,1012 L545.1,1009.1 L548,1006 L550.9,1003.4 L554,1001"/>
<path d="M554,1001 L553,995 L549.4,995.8 L546,997 L542,996.6 L538,996 L534.9,994.1 L532,992 L532.3,987.8 L534,984 L535,980"/>
<path d="M554,1001 L555.8,1005.6 L558,1010 L561,1013 L564,1016 L567.9,1014.6 L572,1014 L576.1,1012.9 L580,1011 L583.9,1011.9 L588,1012 L594,1011 L596.1,1014.5 L598,1018 L600,1022 L603.9,1020.5 L608,1020 L612,1021.5 L616,1023"/>
<path d="M616,1023 L617.5,1019.2 L620,1016 L622.6,1012.6 L626,1010 L628.9,1005.9 L632,1002 L634.6,998.6 L638,996 L639.9,992 L642,988 L641,984 L640,980"/>
<path d="M616,1023 L613.5,1026.9 L610,1030 L610.8,1035 L612,1040 L614.5,1042.7 L616,1046"/>
<path d="M616,1046 L612.5,1046.2 L608.9,1046.6 L605.5,1047.5 L602,1048 L602.2,1053.1 L601,1058 L599.5,1062 L598,1066 L595.1,1069.1 L592,1072 L590.3,1075.8 L590,1080 L593.3,1081.5 L596,1084 L592,1089 L594,1095"/>
<path d="M518,1060 L519.5,1064.2 L522,1068 L526.8,1070.2 L532,1071 L536.9,1072.8 L542,1074 L540.5,1077.9 L540,1082 L539,1086"/>
<path d="M539,1086 L542.6,1084.9 L546.5,1085.4 L550,1084 L555,1082.5 L560,1081 L565.1,1080.7 L570,1079 L575.1,1078.6 L580,1077 L585.1,1078 L590,1080"/>
<path d="M539,1086 L537.1,1090.4 L536,1095 L532.3,1092.4 L528,1091 L524.2,1093.1 L520,1094 L518.2,1097.1 L516,1100 L516.1,1105 L517,1110 L516,1115.1 L514,1120 L512.4,1124.9 L512,1130"/>
<path d="M417,1134 L421.6,1135.7 L426,1138 L431.1,1137.5 L436,1136 L439.3,1137.6 L442,1140 L446,1137.5 L450,1135 L455.1,1135.1 L460,1134 L464.9,1132.6 L470,1132 L474.9,1130.7 L480,1130 L484,1131 L488,1132 L492.9,1130.2 L498,1129 L504,1131 L507.9,1129.8 L512,1130 L516.1,1130 L520,1131 L526,1129"/>
<path d="M526,1129 L527.5,1132.4 L528,1136 L529.5,1139.4 L532,1142 L530.7,1145.9 L530,1150 L527.5,1152.7 L526,1156 L525.5,1160.1 L524,1164 L528,1168 L525.6,1170.8 L524,1174 L521.4,1177.4 L518,1180 L516,1184 L514,1188 L511.8,1191.9 L510,1196 L509.2,1200.1 L508,1204 L509,1210"/>
<path d="M526,1129 L532,1130 L533.5,1134.3 L536,1138 L538.9,1141.1 L542,1144 L543.9,1147.1 L546,1150 L549.8,1152 L554,1153 L560,1156 L564.1,1156.4 L568,1158 L571.9,1159.2 L576,1159 L580,1160"/>
<path d="M594,1095 L596.9,1097.6 L600,1100 L603.1,1103.9 L606,1108"/>
<path d="M606,1108 L608.6,1112.3 L612,1116 L615.3,1119.8 L618,1124 L620.5,1127.5 L624,1130 L620.9,1131.9 L618,1134 L614.1,1137.2 L610,1140 L608.6,1143.9 L608,1148 L604,1148.8 L600.1,1149.8 L596,1150 L591.9,1150.6 L588,1152 L585.8,1155.1 L582.3,1157 L580,1160"/>
<path d="M606,1108 L611,1107.6 L616,1108 L621.1,1106.7 L626,1105 L630.3,1104.2 L634,1102 L638.1,1100.1 L642,1098 L646,1097.7 L650,1097"/>
<path d="M580,1160 L578.3,1164.1 L576,1168 L573.6,1172.4 L570,1176 L572.6,1179.7 L574,1184 L576.5,1187.8 L578,1192 L580,1198 L575.9,1200.9 L572,1204 L570.1,1207.1 L568,1210 L568.5,1214 L569,1218 L568,1224"/>
<path d="M596,1210 L597.6,1205.1 L598,1200 L600.6,1196.6 L604,1194 L605.6,1189.8 L608,1186 L610.2,1183.1 L612,1180 L615.7,1177.4 L620,1176 L624.3,1177.3 L628,1180 L630,1174 L626,1170 L628.8,1166.8 L632,1164 L634.7,1161.5 L638,1160 L640.2,1162.9 L642,1166 L644.8,1163.7 L648,1162 L654,1164 L658.5,1163.6 L663,1163"/>
<path d="M616,1046 L619.9,1049.1 L624,1052 L627,1054.4 L629.2,1057.5 L632,1060 L636,1060.8 L640,1061.6 L643.7,1058.8 L648,1057 L652.1,1057.1 L656,1056 L659.8,1053.8 L664,1052.4 L667.9,1051.2 L672,1051 L678,1050"/>
<path d="M678,1050 L676.4,1045.1 L676,1040 L674,1034 L678.1,1031.2 L682,1028 L686.2,1026.5 L690,1024 L693.2,1022.4 L696,1020 L700,1016 L698.9,1011 L698,1006 L696.7,1001.1 L696,996 L694.3,992.2 L694,988 L692,982 L691,980"/>
<path d="M678,1050 L678.8,1055 L680,1060 L680.4,1063.5 L681,1067"/>
<path d="M681,1067 L676.6,1069.7 L672,1072 L667.9,1072.8 L664,1074 L660,1076 L661,1082 L658.6,1085.1 L656,1088 L652,1093 L650,1097.6"/>
<path d="M650,1097.6 L651.4,1102.1 L654,1106 L655.7,1110.2 L658,1114 L660.3,1117.8 L662,1122 L664.6,1125.4 L668,1128 L672.4,1130.5 L676,1134 L679,1136 L682,1138 L688,1141"/>
<path d="M681,1067 L684.5,1066.4 L688,1066 L692,1065.1 L696,1065 L702,1068 L705.4,1069.4 L708,1072 L710.8,1074.3 L714,1076 L717.5,1078.5 L720,1082 L721.9,1085 L724,1088 L725.4,1092.3 L728,1096 L730.4,1098.7 L732,1102 L735.3,1104.7 L738,1108 L740.9,1110.1 L744,1112 L750,1114 L756,1117"/>
<path d="M756,1117 L750,1120 L746,1121 L742,1122 L738.9,1123.8 L736,1126 L734.5,1129.9 L734,1134 L736,1140 L733.9,1143.8 L731,1147"/>
<path d="M688,1141 L692,1146 L696.1,1146.7 L700,1148 L703.9,1145.7 L708,1144 L712.2,1144.3 L716,1146 L720,1146.6 L724,1146 L727.4,1146.9 L731,1147"/>
<path d="M731,1147 L729.2,1150.4 L728,1154 L731.5,1156.5 L734,1160 L740,1162 L743.3,1160.4 L746,1158 L749.2,1156.3 L752,1154 L756,1158 L760,1160 L764,1162 L767.8,1164.3 L772,1166 L776,1166.9 L780,1168"/>
<path d="M688,1141 L682,1144 L678.2,1146.4 L674,1148 L672.5,1151.3 L670,1154 L667.2,1156.3 L664,1158 L663,1163"/>
<path d="M663,1163 L665.1,1166.2 L666,1170 L669.1,1171.8 L672,1174 L674.8,1176.3 L678,1178 L679.7,1182.1 L682,1186 L682.5,1190.1 L684,1194 L683.2,1198 L683,1202 L678,1206 L676,1212 L679.2,1214.8 L682,1218 L686,1219.1 L690,1220 L696,1222 L700,1226"/>
<path d="M700,1226 L702.9,1223.9 L706,1222 L708.4,1219.2 L710,1216 L712,1210 L716,1209 L720,1208 L725,1207.6 L730,1208 L735,1207.2 L740,1206 L743.4,1204.6 L746,1202 L752,1201 L758,1204 L762.1,1205.1 L766,1207"/>
<path d="M700,1226 L695.9,1226.4 L692,1228 L688.3,1230.7 L684,1232 L680.2,1234.3 L676,1236 L672.2,1238.4 L668,1240"/>
<path d="M756,1117 L758.3,1113.7 L760,1110 L764.3,1108.6 L768,1106 L772.1,1105.4 L776,1104 L779.9,1101.8 L784,1100 L787.3,1098.5 L790,1096 L792,1095"/>
<path d="M792,1095 L796.1,1096.3 L800,1098 L803.9,1096.6 L808,1096 L811.3,1094.5 L814,1092 L820,1090 L822.9,1093.1 L826,1096 L829.8,1099.2 L834,1102 L836.8,1105.2 L840,1108 L842.5,1111.5 L846,1114 L849,1118 L852,1122 L851.5,1125.5 L852,1129 L849.8,1131.8 L848,1135"/>
<path d="M792,1095 L794.5,1091.8 L796,1088 L793.9,1085.1 L792,1082 L789.2,1079.7 L786,1078 L787,1073"/>
<path d="M787,1073 L783.6,1069.4 L780,1066 L776.8,1063.2 L774,1060 L772.3,1056.8 L771.5,1053.3 L770,1050 L769.4,1045 L770,1040 L769.6,1034.9 L768,1030 L766.2,1026.9 L764.7,1023.6 L764,1020 L761,1014 L758.8,1010.2 L758.3,1005.8 L756,1002 L753.8,998.1 L752,994 L748.6,991.4 L746,988 L742,986 L739.6,990.4 L736,994 L734.6,998.3 L732,1002 L729.7,1005.9 L728,1010 L723.9,1011.8 L720,1014 L714.9,1014.7 L710,1016 L705,1015.6 L700,1016"/>
<path d="M761,1014 L761.6,1010.3 L763.6,1007 L764.6,1003.4 L766,1000 L769.4,996.3 L772,992 L775.6,990.4 L779,988.5 L782,986 L785.8,984.4 L790,984 L791.5,988.2 L794,992 L796.6,995.4 L800,998 L804.3,996.6 L808,994 L811.3,995.5 L814,998 L818.2,999.6 L822,1002 L826.1,1002.4 L830,1004"/>
<path d="M830,1004 L831.7,1008.9 L832,1014 L832.8,1018.2 L834.2,1022.1 L836,1026 L836.5,1030 L836.9,1034.1 L838,1038 L840,1044 L841.8,1047.1 L844,1050"/>
<path d="M787,1073 L790.3,1070.2 L794,1068 L800,1070 L803.3,1071.5 L806,1074 L808.6,1070.6 L812,1068 L815.9,1069.4 L820,1070 L824.1,1070.1 L828,1071 L832.4,1068.8 L837,1067 L838.4,1063.5 L840,1060 L840.7,1056.4 L842.3,1053.2 L844,1050"/>
<path d="M830,1004 L832.8,1000.8 L836,998 L840.2,995.3 L844,992 L847.9,989.8 L852,988 L855.9,985.8 L860,984 L864,980"/>
<path d="M830,936 L835.1,935.7 L840,934 L844,934.7 L847.9,935.9 L852,936 L856,937.2 L860,938 L863.2,940.2 L865.4,943.2 L868,946 L871.1,949.9 L874,954"/>
<path d="M874,954 L878,952 L882.2,949.3 L886,946 L889.9,942.8 L894,940 L896.3,937.2 L898,934 L899,930"/>
<path d="M874,954 L872.6,958 L871.7,962.1 L870,966 L868.2,969.1 L867.9,972.9 L866,976 L862.4,977.6 L859.6,980.4 L856,982 L854.6,985.4 L852,988 L848.2,990.4 L843.8,991.6 L840,994 L836.5,996.5 L834,1000 L830,1004"/>
<path d="M899,930 L900.1,933.9 L899.7,938 L900,942 L900.7,946 L900.9,950.1 L902,954 L903.1,957.9 L903.3,962 L904,966 L904.8,970 L904.6,974.1 L905.6,978 L906.2,983 L906,988 L903.9,991.8 L903,996 L901.8,1001.1 L900,1006 L899.4,1011.1 L898,1016 L896.7,1020.9 L896,1026 L895,1030 L894.6,1034.1 L893,1038 L892.1,1042.3 L892.3,1046.8 L891,1051"/>
<path d="M844,1050 L847.9,1050.9 L852,1051 L855.9,1052.3 L860,1053 L865,1053.9 L870,1054 L873.1,1052.2 L876,1050 L882,1052 L886.5,1051.3 L891,1051"/>
<path d="M891,1051 L891.6,1055.5 L892,1060 L893.2,1065 L894,1070 L895.5,1074.3 L898,1078 L900.5,1080.7 L902,1084 L900,1087.8 L899,1092 L898,1095"/>
<path d="M898,1095 L895.5,1098 L892,1100 L889,1106 L888.9,1110.1 L888,1114 L885.2,1116.3 L882,1118 L878.6,1120.6 L876,1124 L874,1127 L872,1130 L870.2,1133.1 L868,1136 L863.7,1137.5 L860,1140 L857,1142"/>
<path d="M898,1095 L902.1,1096.1 L906,1098 L910,1099.9 L914,1102 L917,1105 L920,1108 L923.8,1110.3 L928,1112 L931.9,1113.9 L936,1115 L939.9,1116.7 L944,1118 L949,1118.8 L954,1120 L958,1120.2 L962,1121 L965.8,1119 L970,1118 L975,1116"/>
<path d="M891,1051 L896,1054 L900,1058 L905.1,1057 L910,1055 L914.1,1053.7 L918,1052 L921.9,1053.4 L926,1054 L928.4,1056.7 L930,1060 L934,1061.9 L938,1064 L941.9,1065.4 L946,1066 L948.9,1068.1 L952,1070 L956,1073"/>
<path d="M908,1045 L912,1041 L918,1042 L920,1047 L916,1052 L910,1053 L907,1049 L908,1045"/>
<path d="M956,1073 L957.5,1077.4 L958,1082 L957.6,1086 L957,1090 L958,1094.2 L960,1098 L958,1104 L962.2,1105.6 L966,1108 L969.3,1109.6 L972,1112 L975,1116"/>
<path d="M905,944 L908.4,942.7 L912,942 L915.9,944.3 L920,946 L922.7,948.4 L926,950 L928,954.9 L929,960 L928.5,965.1 L927,970 L931.6,970.6 L936,972 L941.1,973.3 L946,975 L948.5,972.5 L951,970 L952.2,973.9 L952.6,978 L953,982 L953.8,986 L953,990.1 L954,994 L954.7,998.1 L956,1002 L959.6,1002.8 L962.4,1005.3 L966,1006 L970.3,1007.5 L974,1010 L979,1012"/>
<path d="M979,1012 L974.6,1014.2 L970,1016 L966.6,1017.4 L964,1020 L963.1,1025 L963,1030 L959.2,1031 L955.7,1032.8 L952,1034 L951.4,1038.1 L950,1042 L952.5,1044.8 L955.8,1046.9 L958,1050 L962.3,1052.6 L966,1056 L967.2,1060 L968,1064 L965.4,1066.6 L962,1068 L959.1,1070.6 L956,1073"/>
<path d="M968,1064 L973.1,1063.4 L978,1062 L981.2,1060.2 L984,1058 L982,1054 L985,1051 L988,1048 L991.1,1045.1 L994,1042 L997,1039 L1000,1036 L1006,1034 L1008.5,1037.8 L1010,1042 L1014,1038 L1017.1,1035.1 L1020,1032 L1025,1032.9 L1030,1034 L1033.8,1036.3 L1038,1038 L1041.6,1036.5 L1044.6,1033.9 L1048,1032 L1051.1,1029.1 L1054,1026 L1057.2,1024.3 L1060,1022 L1062.9,1018.9 L1066,1016"/>
<path d="M979,1012 L981.8,1009.7 L985.2,1008.3 L988,1006 L992.3,1003.5 L996,1000 L1000.2,998.4 L1004,996 L1008.1,995.3 L1012,994 L1015.7,993 L1019,991"/>
<path d="M986,930 L987.8,933.1 L990,936 L995,935.2 L1000,934 L1003.1,938 L1006,942 L1005.3,947.1 L1004,952 L1005.8,956.1 L1008,960 L1012.3,961.5 L1016,964 L1014.1,967.1 L1012,970 L1010.6,973.9 L1010,978 L1012.4,980.9 L1015.2,983.5 L1018,986 L1019,991"/>
<path d="M1019,991 L1024,994 L1026.7,990.7 L1030,988 L1031.9,984.6 L1033.9,981.3 L1036,978 L1038.2,974.1 L1040,970 L1044,966"/>
<path d="M1062,1048 L1059.1,1051.1 L1056,1054 L1052.8,1056.8 L1050,1060 L1048.4,1063.8 L1048,1068 L1049.5,1071.9 L1050,1076 L1051.8,1080.1 L1054,1084 L1056.7,1087.3 L1060,1090 L1062.1,1092.9 L1064,1096 L1060,1097 L1056,1098 L1050,1100 L1046,1104 L1044,1108"/>
<path d="M1044,1108 L1038,1106 L1033.8,1106.3 L1030,1108 L1027.4,1110.6 L1024,1112 L1021,1109.9 L1018,1108 L1013.9,1107.5 L1010,1106 L1006.7,1108.7 L1004,1112 L1000.5,1114.5 L998,1118 L994,1120 L991,1117 L988,1114 L982,1112 L978.8,1114.5 L975,1116"/>
<path d="M1044,1108 L1046.9,1111.1 L1050,1114 L1051.9,1118 L1054,1122 L1056.8,1125.2 L1060,1128 L1061.5,1132 L1063,1136"/>
<path d="M975,1116 L972,1122 L969.8,1125.9 L968,1130 L968,1134.1 L969,1138 L971,1142 L973,1146 L970,1152 L971.1,1156 L972,1160 L972.3,1164.2 L974,1168 L971,1173"/>
<path d="M998,774 L1002.3,776.7 L1006,780 L1008,780 L1007.2,784 L1007,788 L1004.6,790.6 L1002,793 L999.9,796.8 L998.5,801 L1001,804 L1004,803.2"/>
<path d="M956,840 L960,835.5 L965,831 L970,833 L972,836 L973,839.5 L976.4,840.5 L980,840 L986,837 L990,833 L994,829 L999,827 L1004,828"/>
<path d="M991,850 L988.2,853.2 L985,856 L980,859 L978.5,863 L979.4,866.5 L979,870 L981,876 L980,882 L978,888 L977.3,891.6 L976,895 L973,900 L970,905 L966,910"/>
<path d="M981,876 L982.6,879.9 L984,884 L986,888 L990,892 L994,896 L1000,897 L1005,896 L1008,900 L1010,903 L1014,902 L1018,900 L1020,896 L1021.4,892.6 L1024,890 L1028,885 L1032,880 L1034,879 L1037,884 L1039,889 L1043,891 L1046,895 L1048,900 L1052,896 L1055,893 L1056,890"/>
<path d="M862,880 L863.8,883.3 L865.4,886.6 L867,890 L867.7,895.1 L869,900 L871.5,902.5 L873.9,905.1 L876,908 L879.5,909.6 L882.5,912.3 L886,914 L888.5,917.5 L892,920 L894.5,923.5 L897,927 L899,930"/>
<path d="M896,880 L897,874 L899.9,877.8 L902,882 L905.7,885.4 L910,888 L914,888.8 L918,890 L922.2,891.6 L926,894 L930,896"/>
<path d="M930,896 L927.4,900.3 L924,904 L919.8,906.7 L916,910 L912.5,910.9 L909.3,912.5 L906,914 L903,917 L900,920 L898.4,923.5 L897,927"/>
<path d="M930,896 L932.7,892.7 L936,890 L940.4,887.6 L944,884 L947.2,886.8 L950,890 L952.8,894.1 L956,898 L958.6,902.3 L962,906 L964.7,908.9 L968,911"/>
<path d="M968,911 L970,915.5 L972,920 L975.2,923.8 L978,928 L982,929.1 L986,930"/>
<path d="M1054.5,686 L1056,691 L1059,694 L1063,697 L1065,702 L1067.5,705.5"/>
<path d="M598,880 L596,884 L593.4,888.3 L590,892 L586.6,894.6 L584,898 L582,902 L580,902"/>
<path d="M582,902 L586.1,904.8 L590,908 L593.1,909.8 L596.8,910.3 L600,912 L603.4,913.2 L606.8,914.3 L610,916 L613.4,917.9 L616.9,919.6 L620,922 L623.5,924.1 L625.8,927.6 L629,930"/>
<path d="M652,880 L658,880 L662.1,881.7 L666,884 L668.9,886.4 L671.5,889.1 L674,892 L676,895.5 L678,899"/>
<path d="M678,899 L674.7,900.8 L671.2,902.1 L668,904 L663.9,906.8 L660,910 L656.8,912.2 L653,913.4 L650,916 L646.4,917.5 L643.7,920.6 L640,922 L636,924.3 L632.3,926.8 L629,930"/>
<path d="M678,899 L682.1,897.9 L686,896 L690.1,896.5 L694,898 L697.8,900.4 L702,902 L706,903.2 L710,904 L713.7,901.3 L718,900 L723,900"/>
<path d="M730,810 L730.3,805.8 L732,802 L730,797"/>
<path d="M702,821 L705,825 L709,828 L711.3,831.1 L714,834 L717.3,836.7 L720,840 L723.5,843.6 L726,848 L728.5,851.8 L730,856"/>
<path d="M730,856 L729.9,860 L729,864 L729.6,868.1 L731,872 L729.7,876.1 L728,880 L724.3,883.4 L720,886 L718,892 L720,896.3 L723,900"/>
<path d="M723,900 L723.1,905 L724,910 L724,915 L723,920 L724,924.2 L726,928 L729.9,930.1 L734,932 L737.9,933.4 L742,934 L745.9,936.2 L750,938 L753.7,940.5 L758,942 L760.7,944.8 L764,947 L769,945"/>
<path d="M726,928 L724.5,931.9 L724,936 L718,934 L713,936 L711.9,941.1 L710,946 L706.8,949.8 L704,954 L702,958 L700,962 L698.6,965.9 L698,970 L696.1,974 L694,978 L692,982"/>
<path d="M692,982 L688,981.4 L684,982 L680,982.9 L676,984 L670,986 L666.8,984.3 L664,982 L659.8,979.8 L656,977 L651.8,976 L648,974 L644.5,975.5 L641,977"/>
<path d="M629,930 L629.2,935.1 L628,940 L627,944 L626,948 L627.8,951.1 L628.7,954.7 L630,958 L634,961 L638,964 L640,970 L640.4,973.5 L641,977 L640,980"/>
<path d="M769,945 L772.4,946 L776,946 L778.7,949.7 L780,954 L780.9,957.5 L782.7,960.6 L784,964 L785.9,968 L788,972 L788.8,976.1 L790,980 L790,984"/>
<path d="M769,945 L773.7,942.9 L778,940 L781.9,937.8 L786,936 L790,934.9 L794,934 L797.8,935.7 L802,936 L806.2,936.4 L810,938 L815,939.2 L820,940 L823.7,939.2 L827.1,937.3 L831,937"/>
<path d="M730,856 L736,854 L739.1,851.1 L742,848 L746.1,846.2 L750,844 L756,842 L756.4,846.2 L758,850 L761.2,852.8 L764,856 L767.7,858.6 L772,860 L777,861 L782,862 L787,863 L792,864 L795.7,866.5 L800,868 L804.2,868.3 L808,870 L811.9,872.3 L816,874 L819.6,873.2 L823,872"/>
<path d="M834,846 L830.8,843.7 L828,841 L825.1,843.1 L823,846 L824.2,850 L825,854 L824.5,859 L824,864 L823.5,868 L823,872"/>
<path d="M823,872 L821.1,875.9 L820,880 L819.4,884.1 L818,888 L820.1,892 L822,896 L824.1,899.9 L826,904 L828.9,908 L832,912 L833.6,916.2 L836,920 L837.3,923.9 L838,928 L835.3,930.7 L833.4,934.1 L831,937"/>
<path d="M729.6,524 L727.5,527.7 L724.8,530.9 L720.5,532.8 L716.3,532.5 L712,532 L708.8,533.1 L705.1,535.7 L701.3,537.9 L698.7,542.1 L697.6,546.9 L698.7,551.2 L701.3,554.9 L705.6,557.1 L709.3,559.2 L714.1,560.8 L718.4,561.3 L722.7,560.8 L725.3,559.7 L728,562.9 L730.1,565.1"/>
<path d="M703.5,544.8 L705.6,542.1 L709.9,540.5 L714.1,540.5 L716.8,542.7 L717.3,546.4 L715.2,549.1 L711.5,550.1 L707.7,548.5 L704.5,546.9 L703.5,544.8"/>
<path d="M709.9,540.5 L709.6,536.8 L709.1,533.1"/>
<path d="M717.3,546.4 L719.5,548 L722.7,545.3 L726.9,546.4 L730.7,548"/>
<path d="M711.5,550.1 L710.9,553.3 L710.4,558.9"/>
<path d="M680,523.5 L685.3,527.2 L690.7,527.2 L694.4,526.1 L696,529.9 L699.2,533.1 L701.3,537.3"/>
<path d="M700.5,554.9 L697.6,556.5 L693.3,558.7 L690.7,562.9 L688,568.3 L686.4,573.6 L682.7,579.5"/>
<path d="M730.1,517.1 L730.1,522.4 L730.7,527.7 L731.2,533.1 L730.7,538.4 L730.1,542.7 L731.2,548 L732,553.3 L732.5,557.6 L731.2,561.3 L730.1,565.1 L728,568.3 L726.4,572 L726.9,575.7 L728,580"/>
<path d="M382.4,443.6 L383,449 L385.5,451.5 L388,454 L387.7,458.4 L386.7,462.7 L386,467 L388.5,470.5 L392,473 L392.4,476.7 L392.9,480.4 L394,484 L398.2,486.8 L402,490 L403.9,493.2 L405.6,496.5 L407,500 L408.4,505 L410,510 L410.3,514 L410.6,518.1 L412.2,521.9 L412,526 L411.3,530 L410.8,534 L411,538 L410.3,542 L410.3,546.1 L409,550 L410.9,553.2 L413,556.3 L414,560 L417.4,563.7 L420,568 L426,570 L421.9,570.2 L418,571.4 L414,572.4 L410.5,572.5 L407,572.6 L403.4,572.7 L400,573.6 L395,572.6 L390,572 L390.7,568 L391,564 L387.5,564 L384,564.4 L380.8,567 L378,570 L373.9,571.4 L370,573 L366.1,571.2 L362,570 L357.8,568.9 L354,567 L349.9,568.3 L346,570 L342,573.1 L338,576 L335.1,578.4 L333.1,581.8 L330,584 L325,587 L322,582 L318,578 L315.6,574.9 L313.4,571.7 L312,568 L310.4,564.5 L308.5,561 L306,558 L302,554 L302.2,549.5 L302,545 L296,543 L295.7,546.5 L295,550 L292.8,547.2 L290,545 L285.9,545.1 L282,546 L278,549 L274,548.4 L270,548 L266,548.9 L262,549 L256,552 L256.8,556 L257,560 L255,566 L250,565 L246,562 L242,562.6 L238,563 L236.9,566.8 L235.4,570.4 L234,574 L230,574 L228,568 L227.2,563.9 L226,560 L222,558 L221,564 L217.3,564.4 L214,566 L208,568 L204.1,569.2 L200,569 L194,568 L190,569.4 L186,571 L182.4,574.1 L178,576 L174.2,578 L170,579 L167.2,581.2 L165,584 L164.4,589 L164,594 L163.9,598.1 L165,602 L166,607 L170,605.4 L174,604 L177.1,602 L180.6,601.2 L184,600 L189,598.6 L194,597 L198.7,596.1 L203,594 L200.1,596.2 L198.4,599.4 L196,602 L192.1,604.1 L188,606 L184.1,607.6 L180,608 L177,614 L182,617 L185.1,614.7 L188,612 L191.9,610.6 L196,610 L200.9,609 L206,609 L209.8,611.5 L213.2,614.4 L216,618 L210,617 L205,616.2 L200,616 L195.1,617.6 L190,618 L186.2,619.4 L183,622 L186,627 L190.9,625.4 L196,625 L202,628 L200,632 L194.9,632.5 L190,634 L186.1,635.5 L182.2,636.7 L178,637 L172.9,637.7 L168,639 L173,642 L177.6,642.6 L182,644 L184.8,647.2 L188,650 L191.4,653.7 L194,658 L195.7,661.8 L196,666 L200,668 L203.6,667.9 L207,667 L208.8,662.6 L210,658 L213.4,655.4 L216,652 L217.7,656.2 L220,660 L222.7,657.5 L226,656 L228.9,658.2 L232,660 L234.8,662.3 L238,664 L244,666 L250,668 L254,668.9 L258,670 L262,674 L264.6,676.5 L268,678 L270.8,675.7 L274,674 L277.6,677.6 L282,680 L284.8,683.2 L288,686 L292.3,687.3 L296,690 L300,689.3 L304,690 L306.9,692.2 L310,694 L314.3,691.4 L318,688 L324,688 L323.6,692.2 L322,696 L318.1,698.3 L314,700 L318,700.3 L322,700 L325.9,698.5 L330,698 L333.9,699.5 L338,700 L340,703 L342,706 L340.6,710.3 L338,714 L336,720 L338.2,722.9 L340,726 L342.9,728.1 L346,730 L351,729.9 L356,730 L362,728 L362.7,733.1 L364,738 L360,742 L364.2,743.5 L368,746 L371.8,748.4 L376,750 L378,755 L374,760 L372.2,763.1 L370,766 L368,772 L370,778 L372.8,781.2 L376,784 L378.8,788.1 L382,792 L385.1,795.9 L388,800 L389.7,805 L391,810 L393,812.9 L395.2,815.8 L398,818 L401.1,820 L404.6,821.4 L408,823 L412.2,825.2 L416,828 L420.3,829.4 L424,832 L428.8,834.2 L434,835 L437.9,836.8 L442,838 L446,840 L443.6,842.7 L442,846 L440.2,849.1 L438,852 L440.9,854.1 L444,856 L446.5,859.5 L450,862 L449.5,866 L450,870 L447.9,873.9 L446,878 L444.3,882.1 L442,886 L440,892 L436,896 L438,902 L442.1,904.9 L446,908 L448.6,911.4 L452,914 L448,918 L446.2,922.1 L444,926 L443.5,929.5 L443.3,933 L442.7,936.5 L443,940 L442.3,944 L442.9,948 L443.1,952 L442.6,956 L442,960 L441.7,964 L441.1,968 L440.3,972 L439.8,975.9 L440,980 L440.2,985.1 L439,990 L437.8,993.9 L437.2,997.9 L437,1002 L435.8,1005.9 L435.6,1010 L435,1014 L436,1019 L436,1022.7 L434.8,1026.3 L435,1030 L434.2,1033.5 L434,1037 L433.3,1040.4 L433.6,1044 L433.4,1048 L433.4,1052.1 L432.3,1056 L432,1060 L431.1,1063.4 L431.4,1067.1 L430.1,1070.4 L430,1074 L428.6,1077.9 L428.9,1082.1 L427.6,1086 L427,1090 L426,1093.4 L425.6,1097 L425.2,1100.6 L424,1104 L423.6,1107.6 L422.1,1110.9 L421.3,1114.4 L421,1118 L420.1,1121.5 L419.6,1125.2 L417.6,1128.4 L417,1132 L414.6,1135.8 L413,1140 L410.8,1143.3 L408,1146 L403.9,1148.4 L400,1151 L394,1153 L397,1158 L400,1161 L406,1158 L408.7,1160.5 L412,1162 L415.9,1163.6 L420,1164 L422.5,1167 L425,1170 L424,1175 L423,1180 L420,1186 L424,1187.1 L428,1188 L430,1182 L433.3,1183.6 L436,1186 L439.5,1186.9 L442.8,1188.2 L446,1190 L449.2,1191.9 L452.8,1193.1 L456,1195 L461,1196.1 L466,1197 L470.1,1198.4 L474,1200 L477,1203 L480,1206 L483.4,1208.6 L486,1212 L490,1215 L496,1212 L502,1213 L508,1210 L512.2,1210.3 L516,1212 L518.5,1215.5 L522,1218 L525.1,1220.9 L528,1224 L531.9,1222.4 L536,1222 L540.1,1220.2 L544,1218 L547.9,1219.4 L552,1220 L556,1225 L558.7,1222.6 L562,1221 L568,1224 L572,1223.6 L576,1223 L580,1222.8 L584,1223 L584,1218.5 L584,1214 L585.4,1210.6 L588,1208 L592.2,1208.3 L596,1210 L599.8,1211.7 L604,1212 L607.8,1214 L612,1215 L616,1217 L620,1219 L625,1220.6 L630,1222 L634.1,1223.2 L638,1225 L640.7,1228.8 L644,1232 L648,1228 L652,1228.9 L656,1230 L659.7,1232.6 L664,1234 L665.7,1237.2 L668,1240 L671.8,1242.4 L676,1244 L678.6,1246.6 L682,1248 L686,1246 L684,1252 L686,1258 L692,1256 L694.8,1253.7 L698,1252 L701.8,1250.3 L706,1250 L710.1,1250.6 L714,1252 L717.3,1253.6 L720,1256 L723.3,1257.5 L726,1260 L732,1257 L734.6,1254 L738,1252 L742,1250.1 L746,1248 L750.2,1246.5 L754,1244 L760,1242 L764,1244.9 L768,1248 L771.8,1249.7 L776,1250 L774,1244 L772.5,1240.7 L770,1238 L767.9,1234.2 L767,1230 L766.6,1225 L766,1220 L765.8,1215 L766,1210 L765.4,1205 L766,1200 L767.2,1195.1 L767,1190 L768.2,1185.9 L770,1182 L772.6,1178.1 L775,1174 L777.7,1171.1 L780,1168 L784.4,1166.1 L788,1163 L792.1,1162.2 L796,1161 L802,1159 L804.6,1156.5 L807.3,1154.3 L810,1152 L813.7,1148.6 L818,1146 L822.4,1143.6 L826,1140 L830.3,1138.7 L834,1136 L837.9,1134.6 L842,1134 L848,1135 L850,1139 L854.2,1139.9 L858,1142 L863,1141.6 L868,1142 L872,1142.1 L875.9,1143.3 L880,1143 L882,1147 L885,1152 L890,1153 L893.9,1154.1 L898,1154 L901.6,1154 L905,1153 L906,1147 L910,1146 L914,1150 L917.4,1151.4 L920,1154 L925,1154.9 L930,1155 L934,1155.8 L938,1156 L939.8,1159.1 L942,1162 L945,1168 L948.3,1169.7 L952,1170 L958,1169 L962,1172 L966.1,1171.8 L970,1173 L972,1178 L975.3,1179.6 L978,1182 L982,1186 L984.3,1183.2 L986,1180 L992,1180 L998,1183 L1004,1182 L1006,1188 L1010.2,1187.6 L1014,1186 L1017.2,1183.2 L1020,1180 L1023.9,1178.7 L1028,1178 L1031.1,1176.1 L1034,1174 L1038,1173.9 L1042,1173 L1046,1170 L1043.5,1167.3 L1042,1164 L1038,1162 L1041.9,1160.7 L1046,1160 L1047.7,1156.8 L1050,1154 L1052.6,1150.6 L1056,1148 L1059,1146 L1062,1144 L1062.5,1139.9 L1064,1136 L1070,1134 L1074,1133.6 L1078,1134 L1079.6,1130.7 L1082,1128 L1085.2,1125.2 L1088,1122 L1091.7,1119.3 L1096,1118 L1100,1113 L1106,1110 L1108.3,1106.1 L1110,1102 L1111.6,1097.8 L1114,1094 L1116.4,1089.6 L1120,1086 L1122.6,1082.3 L1124,1078 L1123.6,1074 L1124,1070 L1118,1069 L1113.8,1069.9 L1110,1072 L1105.9,1072 L1102,1073 L1098.2,1071 L1094,1070 L1088,1068 L1083.8,1066.5 L1080,1064 L1076,1062.1 L1072,1060 L1068.6,1057.4 L1066,1054 L1064.5,1050.6 L1062,1048 L1063.5,1044.1 L1064,1040 L1062.2,1035.9 L1060,1032 L1060.9,1028 L1062,1024 L1063.8,1019.9 L1066,1016 L1069.5,1015.1 L1072.7,1013.3 L1076,1012 L1074.7,1007.9 L1073,1004 L1071,1000.2 L1070,996 L1065.9,995.4 L1062,994 L1058.5,991.5 L1056,988 L1054.3,983.9 L1052,980 L1051.1,976 L1050,972 L1046.6,969.4 L1044,966 L1047.3,964.5 L1050,962 L1054.1,962.7 L1058,964 L1061.9,961.9 L1066,960 L1068.7,957.6 L1072,956 L1074.8,952.8 L1078,950 L1080,944 L1082.5,940.2 L1084,936 L1081.8,933.1 L1080,930 L1079,929 L1076,927 L1074,923 L1071,919 L1070,914 L1069,909 L1065,906 L1060,903 L1057,900 L1055,895 L1056,890 L1058,887.5 L1064,886 L1069,884 L1070,880 L1074,878 L1073,873 L1070,868 L1066,864 L1061,862 L1061,856 L1057,855 L1055,852 L1056,846 L1059,842 L1059,838 L1056,834 L1054,830 L1056,826 L1053,825 L1049.4,824.7 L1046,823.5 L1040,824 L1034,824 L1030,826 L1025,829 L1021,830 L1018,828 L1013,831 L1011,835 L1012,839 L1016,840 L1014,844 L1009,848 L1004,850.5 L998,851 L992,852 L991,850 L993,845 L998,841 L1002,838 L1004,833 L1006,828 L1002,824 L1001,820 L1002,814 L1005,809 L1004,803 L1009,799 L1014,795 L1017,792.5 L1020,790 L1022.8,787.3 L1026,785 L1029,780 L1029,776 L1029,771 L1028,766 L1031,762 L1035,760 L1040,759 L1044,756 L1048,752 L1051,748 L1054,744 L1057,741 L1060,738 L1064,734 L1067,730 L1067,725 L1070,723 L1074,721 L1076,718 L1072,717.5 L1067,719 L1062,718 L1063,714 L1066,710 L1068,707 L1069,703.5 L1072,702.5 L1076,701 L1080,699 L1083,701 L1085,707 L1090,709 L1094.9,707.9 L1100,708 L1102.6,705.4 L1104,702 L1107.2,699.4 L1111,698 L1114,694.3 L1116,690 L1114.7,684.9 L1113,680 L1112.1,675 L1112,670 L1112.6,666 L1113,661.9 L1114,658 L1115.2,652.9 L1117,648 L1115.6,643.1 L1115,638 L1115.8,634 L1117,630 L1119.3,627 L1121,623.7 L1122,620 L1124.1,615.2 L1125,610 L1125.9,604.8 L1128,600 L1128.7,595.9 L1130.6,592.1 L1131,588 L1131.9,582.8 L1134,578 L1136.3,574.2 L1138,570 L1140.8,565.8 L1144,562 L1146.6,559.4 L1148,556 L1154,553 L1154.8,549.2 L1157,546 L1159.9,542.2 L1162,538 L1165,532 L1161.4,531.2 L1158,530 L1153.8,529 L1150,527 L1145.7,525.7 L1142,523 L1137,523 L1132,524 L1127,523.5 L1122,523 L1117.3,520.9 L1113,518 L1110.9,515.1 L1109,512 L1106.3,509.5 L1103,508 L1099.7,510.4 L1096,512 L1091,512.9 L1086,514 L1081.4,514 L1077,513 L1073,510 L1070.2,507.8 L1068,505 L1064.1,504.1 L1060,504 L1055.9,505.7 L1052,508 L1049.6,505.3 L1048,502 L1044.5,498.4 L1042,494 L1040.4,490.2 L1040,486 L1037.6,482.9 L1035,480 L1031.5,477.5 L1028,475 L1022.9,473.8 L1018,472 L1012.9,470.9 L1008,469 L1004.6,470.5 L1001.2,472.1 L998,474 L993.6,473 L989,473 L986.1,470.9 L983,469 L979.2,466.3 L976,463 L972.5,464.6 L968.6,464.7 L965,466 L961.5,467.1 L958,468 L953,470 L951,464 L949.3,460.8 L947,458 L943.2,456.6 L940,454 L939.4,450.4 L938,447 L932,446 L927,442 L922.4,440.2 L918,438 L914.5,436.2 L910.9,434.8 L907,434 L906.7,430.5 L905.8,427.1 L906.9,423.5 L906,420 L903.5,417 L901,414 L902.9,410.9 L903.3,407.2 L905,404 L906,398.9 L908,394 L903,391 L900.3,393.7 L898.5,397.1 L896,400 L895.1,403.8 L893.5,407.4 L892,411 L887,412.4 L882,414 L878.3,416.2 L874,417 L870,416.6 L866,416.4 L862,416 L858,415 L854,414 L852,408 L853.5,403.7 L856,400 L855.3,395.9 L854.5,391.9 L853,388 L855,383.7 L856,379 L851.8,376.2 L848,373 L844.7,369.8 L841,367 L836.7,367.8 L832.3,368 L828,369 L824.9,370.9 L821.1,371.1 L818,373 L817.7,368.4 L816,364 L814.5,359.5 L813,355 L810.5,352.5 L808,350 L804,348.5 L800,347 L797,350 L793.5,348.9 L790,348 L786.9,345.5 L785,342 L785,338.2 L783.3,334.7 L783,331 L780.6,327.2 L779,323 L776.5,319.6 L775,315.6 L770.6,316.7 L766,317 L762.3,318.6 L759,321 L757,327 L753.3,326.7 L750,325 L747.5,322.3 L746,319 L743.2,315.3 L740,312 L736.2,309.3 L733,306 L732.8,301.9 L734,298 L732,292 L731.5,288 L730.8,284 L730,280 L726,281 L722,282 L718,282.4 L714.1,283.9 L710,284 L706.4,284 L703,284.7 L699.6,286.2 L696,286 L692.9,287.9 L689.3,288.7 L686,290 L682,291.3 L678.1,293 L674,294 L670.3,296.5 L666.1,298.1 L662,300 L658.3,303.4 L654,306 L654.9,311 L656,316 L653.5,319.8 L652,324 L652.8,328 L652.4,332 L652.4,336 L653,340 L655.1,343.1 L655.9,346.9 L658,350 L655.9,354.8 L655,360 L652,366 L652.2,369.8 L652.1,373.5 L651.5,377.2 L652,381 L658,384 L660,389 L655,387.5 L650,386 L647,391 L644.6,395.6 L642,400 L638.3,401.8 L635.1,404.3 L632,407 L628.8,409.2 L625.5,411.3 L622,413 L618.1,414.9 L614,416.4 L610,418 L606.3,418.6 L602.8,420.1 L599.3,421.2 L596,423 L592.4,423.5 L588.9,424.5 L585.7,426.6 L582,427 L578,428.6 L573.7,429.7 L570,432 L565.7,433.4 L562.2,436.3 L558,438 L555.1,440.1 L551.9,441.8 L549.1,444.2 L546,446 L544,449.3 L542.6,453 L540,456 L538.6,461 L537,466 L540,472 L544,474 L548,476 L554,478 L550.2,479.7 L546,480 L542.3,483 L538,485 L533.6,487.4 L530,491 L526.5,491.9 L523.1,493.1 L520,495 L515,494.8 L510,495 L506.9,492.9 L503.6,491.2 L500,490 L496,489.1 L491.9,490 L488,489 L484.5,488.3 L481,488.3 L477.5,487.2 L474,487 L469.9,486 L466,484.3 L462,483 L458,482.4 L454,482.8 L450,483 L444,486 L442.1,481.1 L441,476 L438,472 L435,468 L433.9,464 L433,460 L437,456 L436,450 L433.4,447.4 L430,446 L426.1,447 L422,447.6 L418,448 L412.9,449.3 L408,451 L403.8,450 L400,448 L395,446.4 L390,445 L386.3,443.6Z"/>
</g>
<g fill="#000" stroke="#000" stroke-width="1.5">
<path d="M137,591 L141,589 L145,591 L142,594 L138,594Z"/>
<path d="M149,598 L151,598 L151,600 L149,600Z"/>
<path d="M157,638.6 L159.4,638.6 L159.4,641 L157,641Z"/>
<path d="M262,684 L270,685 L270,688 L263,687Z"/>
<path d="M301,712 L304,712.4 L303.6,714.4 L301,714Z"/>
<path d="M309.6,718 L312.4,718.4 L312,720.4 L309.6,720Z"/>
<path d="M304,712 L306,713 L305.6,714.4 L303.6,713.6Z"/>
<path d="M310,718 L312,719 L311.6,720.4 L309.6,719.6Z"/>
<path d="M1006,1190 L1010,1189 L1014,1191 L1011,1193 L1007,1192.4Z"/>
<path d="M1022,1190 L1027,1188 L1033,1187 L1031,1190 L1025,1192Z"/>
</g>
<g stroke="#000" stroke-width="1.8" stroke-linejoin="round">
<path d="M281,715 L288,716 L297,723 L296,726 L288,725 L282,721Z" fill="#e9f9a0"/>
<path d="M355,755 L358,754 L360,759 L364,762 L368,768 L365,768 L360,764 L357,760Z" fill="#e9f9a0"/>
<path d="M348,789 L352,788 L357,791 L353,792.4 L349,791Z" fill="#fff"/>
<path d="M413,842 L418,840 L424,844 L430,848 L434,852 L429,852 L422,848 L416,847Z" fill="#e9f9a0"/>
<path d="M424,865 L429,866 L434,872 L438,880 L440,888 L438,890 L433,882 L428,874Z" fill="#e9f9a0"/>
<path d="M436.6,1017.6 L440,1006 L444,1003 L450,1010 L454,1016.4 L446,1017.2 L438,1019.2Z" fill="#fff"/>
<path d="M644,1232 L648,1228 L656,1230 L664,1234 L663,1242 L656,1246 L648,1248 L644,1250 L642,1242 L643,1236Z" fill="#fff"/>
<path d="M918,1135 L922,1138 L926,1142 L932,1140 L934,1143 L929,1148 L923,1147 L919,1142Z" fill="#fff"/>
</g>
</svg>
<svg width="1500" height="1500" viewBox="0 0 1500 1500" style="position:absolute;left:0;top:0">
<rect x="1322" y="505" width="36" height="86.5" fill="#f9d3eb"/>
<rect x="1322" y="591" width="36" height="86.5" fill="#f4c0f0"/>
<rect x="1322" y="677" width="36" height="86.5" fill="#f0aef8"/>
<rect x="1322" y="763" width="36" height="87.1" fill="#eb9afd"/>
<rect x="1322" y="849.6" width="36" height="86.5" fill="#c29bfb"/>
<rect x="1322" y="935.6" width="36" height="86.4" fill="#9b98f6"/>
<rect x="1322" y="1021.5" width="36" height="87.0" fill="#7199f1"/>
<rect x="1322" y="1108" width="36" height="44.5" fill="#5ea7ee"/>
<rect x="1322" y="1152" width="36" height="43.5" fill="#7db9e2"/>
<rect x="1322" y="1195" width="36" height="43.5" fill="#94d1d4"/>
<rect x="1322" y="1238" width="36" height="44.0" fill="#b2e9cb"/>
<rect x="1322" y="1281.5" width="36" height="43.0" fill="#e9f9a0"/>
<rect x="1322" y="1324" width="36" height="43.0" fill="#f5d97c"/>
<path d="M1322.5,505 L1340,486.5 L1357.5,505 Z" fill="#fbe0e0" stroke="#000" stroke-width="4" stroke-linejoin="miter"/>
<path d="M1322.5,1366.5 L1340,1385.5 L1357.5,1366.5 Z" fill="#fb5d24" stroke="#000" stroke-width="4" stroke-linejoin="miter"/>
<rect x="1322.5" y="505" width="35" height="861.5" fill="none" stroke="#000" stroke-width="4"/>
<line x1="1359" y1="518.0" x2="1375.5" y2="518.0" stroke="#000" stroke-width="2"/>
<text x="1428.5" y="525.9" text-anchor="end" font-family="Liberation Sans, sans-serif" font-size="21" fill="#111">300</text>
<line x1="1359" y1="561.2" x2="1375.5" y2="561.2" stroke="#000" stroke-width="2"/>
<text x="1428.5" y="569.1" text-anchor="end" font-family="Liberation Sans, sans-serif" font-size="21" fill="#111">285</text>
<line x1="1359" y1="604.4" x2="1375.5" y2="604.4" stroke="#000" stroke-width="2"/>
<text x="1428.5" y="612.3" text-anchor="end" font-family="Liberation Sans, sans-serif" font-size="21" fill="#111">270</text>
<line x1="1359" y1="647.6" x2="1375.5" y2="647.6" stroke="#000" stroke-width="2"/>
<text x="1428.5" y="655.5" text-anchor="end" font-family="Liberation Sans, sans-serif" font-size="21" fill="#111">255</text>
<line x1="1359" y1="690.8" x2="1375.5" y2="690.8" stroke="#000" stroke-width="2"/>
<text x="1428.5" y="698.7" text-anchor="end" font-family="Liberation Sans, sans-serif" font-size="21" fill="#111">240</text>
<line x1="1359" y1="734.0" x2="1375.5" y2="734.0" stroke="#000" stroke-width="2"/>
<text x="1428.5" y="741.9" text-anchor="end" font-family="Liberation Sans, sans-serif" font-size="21" fill="#111">225</text>
<line x1="1359" y1="777.3" x2="1375.5" y2="777.3" stroke="#000" stroke-width="2"/>
<text x="1428.5" y="785.2" text-anchor="end" font-family="Liberation Sans, sans-serif" font-size="21" fill="#111">210</text>
<line x1="1359" y1="820.5" x2="1375.5" y2="820.5" stroke="#000" stroke-width="2"/>
<text x="1428.5" y="828.4" text-anchor="end" font-family="Liberation Sans, sans-serif" font-size="21" fill="#111">195</text>
<line x1="1359" y1="863.7" x2="1375.5" y2="863.7" stroke="#000" stroke-width="2"/>
<text x="1428.5" y="871.6" text-anchor="end" font-family="Liberation Sans, sans-serif" font-size="21" fill="#111">180</text>
<line x1="1359" y1="906.9" x2="1375.5" y2="906.9" stroke="#000" stroke-width="2"/>
<text x="1428.5" y="914.8" text-anchor="end" font-family="Liberation Sans, sans-serif" font-size="21" fill="#111">165</text>
<line x1="1359" y1="950.1" x2="1375.5" y2="950.1" stroke="#000" stroke-width="2"/>
<text x="1428.5" y="958.0" text-anchor="end" font-family="Liberation Sans, sans-serif" font-size="21" fill="#111">150</text>
<line x1="1359" y1="993.3" x2="1375.5" y2="993.3" stroke="#000" stroke-width="2"/>
<text x="1428.5" y="1001.2" text-anchor="end" font-family="Liberation Sans, sans-serif" font-size="21" fill="#111">135</text>
<line x1="1359" y1="1036.5" x2="1375.5" y2="1036.5" stroke="#000" stroke-width="2"/>
<text x="1428.5" y="1044.4" text-anchor="end" font-family="Liberation Sans, sans-serif" font-size="21" fill="#111">120</text>
<line x1="1359" y1="1079.7" x2="1375.5" y2="1079.7" stroke="#000" stroke-width="2"/>
<text x="1428.5" y="1087.6" text-anchor="end" font-family="Liberation Sans, sans-serif" font-size="21" fill="#111">105</text>
<line x1="1359" y1="1122.9" x2="1375.5" y2="1122.9" stroke="#000" stroke-width="2"/>
<text x="1428.5" y="1130.8" text-anchor="end" font-family="Liberation Sans, sans-serif" font-size="21" fill="#111">90</text>
<line x1="1359" y1="1166.2" x2="1375.5" y2="1166.2" stroke="#000" stroke-width="2"/>
<text x="1428.5" y="1174.1" text-anchor="end" font-family="Liberation Sans, sans-serif" font-size="21" fill="#111">75</text>
<line x1="1359" y1="1209.4" x2="1375.5" y2="1209.4" stroke="#000" stroke-width="2"/>
<text x="1428.5" y="1217.3" text-anchor="end" font-family="Liberation Sans, sans-serif" font-size="21" fill="#111">60</text>
<line x1="1359" y1="1252.6" x2="1375.5" y2="1252.6" stroke="#000" stroke-width="2"/>
<text x="1428.5" y="1260.5" text-anchor="end" font-family="Liberation Sans, sans-serif" font-size="21" fill="#111">45</text>
<line x1="1359" y1="1295.8" x2="1375.5" y2="1295.8" stroke="#000" stroke-width="2"/>
<text x="1428.5" y="1303.7" text-anchor="end" font-family="Liberation Sans, sans-serif" font-size="21" fill="#111">30</text>
<line x1="1359" y1="1339.0" x2="1375.5" y2="1339.0" stroke="#000" stroke-width="2"/>
<text x="1428.5" y="1346.9" text-anchor="end" font-family="Liberation Sans, sans-serif" font-size="21" fill="#111">15</text>
<text x="1339.5" y="468.5" text-anchor="middle" font-family="Liberation Sans, sans-serif" font-size="21" fill="#111">mm</text>
<text transform="translate(158,1354) rotate(-90)" font-family="Liberation Sans, sans-serif" font-size="21.5" fill="#6a6a6a">Fond de Carte © IGN</text>
</svg>
</body></html>
